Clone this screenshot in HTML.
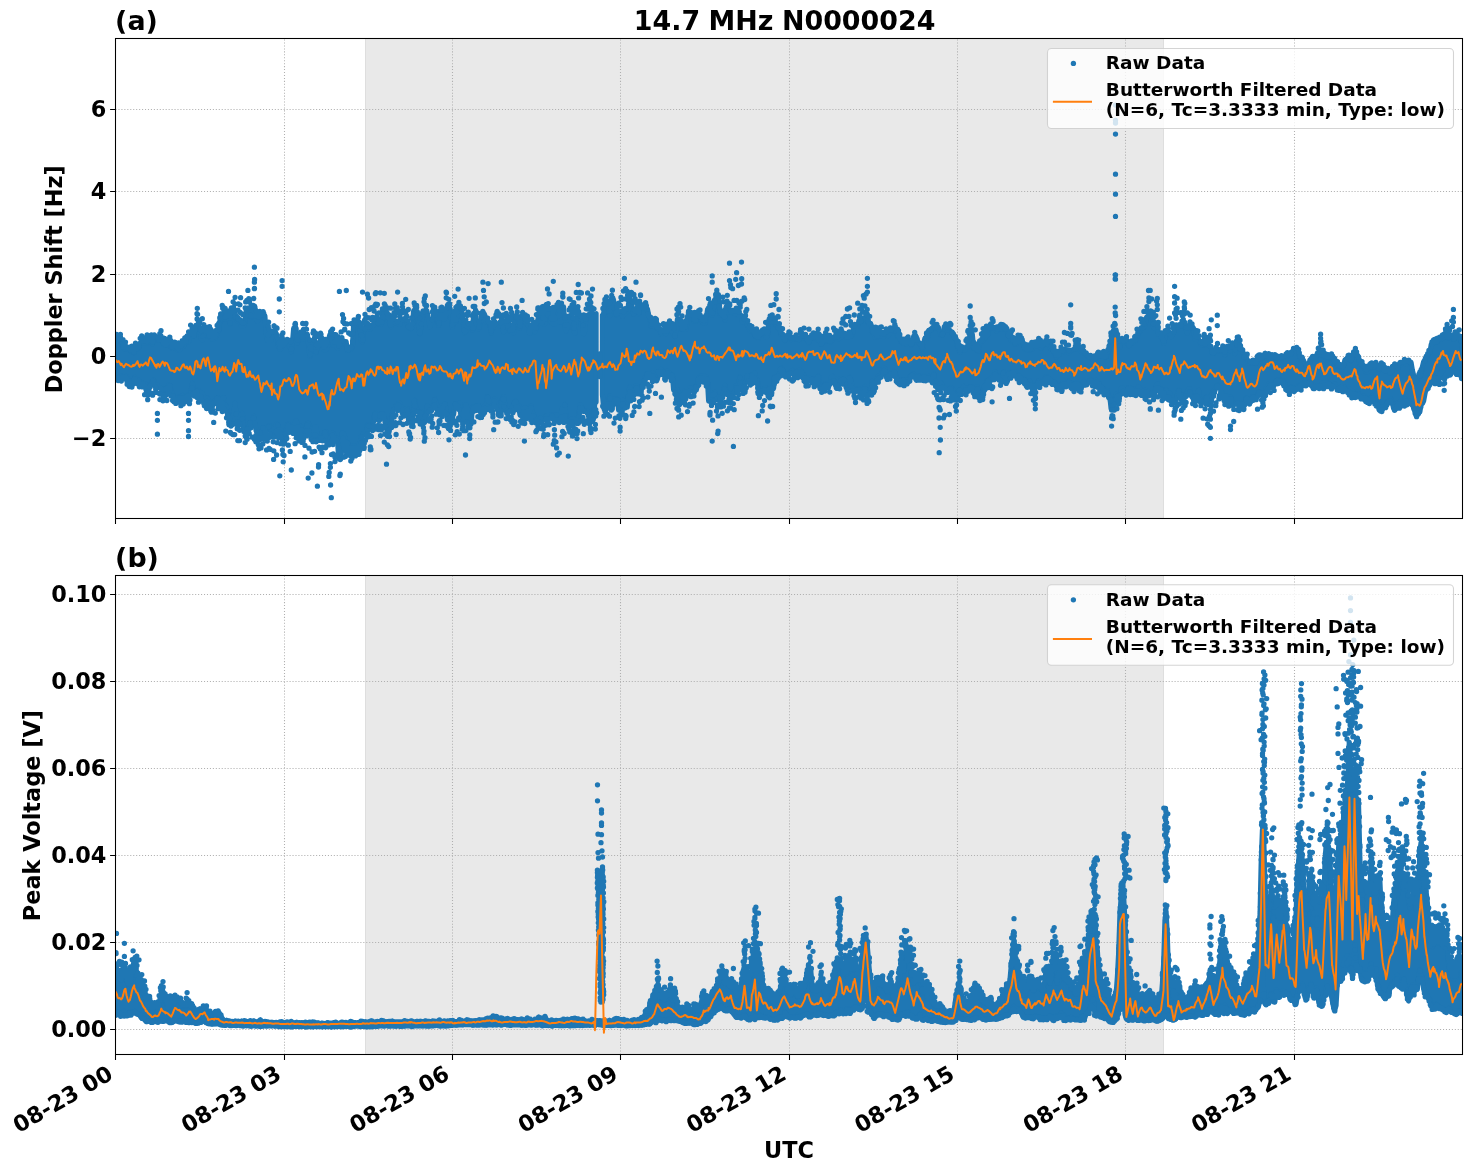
<!DOCTYPE html>
<html lang="en"><head><meta charset="utf-8"><title>14.7 MHz N0000024</title>
<style>
html,body{margin:0;padding:0;background:#fff}
body{width:1472px;height:1172px;overflow:hidden}
svg{display:block}
text{font-family:"DejaVu Sans","Liberation Sans",sans-serif;font-weight:bold;fill:#000}
.tk{font-size:22.4px}
.lb{font-size:22.4px}
.ti{font-size:26.88px}
.lg{font-size:18.5px}
</style></head><body>
<svg width="1472" height="1172" viewBox="0 0 1472 1172">
<defs><clipPath id="ca"><rect x="115.5" y="38.5" width="1347.0" height="480.0"/></clipPath><clipPath id="cb"><rect x="115.5" y="575.5" width="1347.0" height="479.0"/></clipPath></defs>
<rect width="1472" height="1172" fill="#fff"/>
<rect x="365.0" y="38.5" width="799.0" height="480.0" fill="#e9e9e9"/>
<path d="M365.5 38.5V518.5M1163.5 38.5V518.5" stroke="#dedede" stroke-width="1" fill="none"/>
<path d="M284.5 518.5V38.5M452.5 518.5V38.5M620.5 518.5V38.5M789.5 518.5V38.5M957.5 518.5V38.5M1125.5 518.5V38.5M1294.5 518.5V38.5M115.5 438.5H1462.5M115.5 356.5H1462.5M115.5 274.5H1462.5M115.5 191.5H1462.5M115.5 109.5H1462.5" fill="none" stroke="#b0b0b0" stroke-width="1.07" stroke-dasharray="1.07 1.88"/>
<g clip-path="url(#ca)">
<path d="M112.5 340.8 117.4 340.8 118.6 339.4 119.9 339.4 121.1 339.4 122.4 341.7 123.6 347.9 124.9 349.4 126.1 348.4 127.4 348.4 128.6 348.4 129.9 349.7 131.1 351.2 132.4 351.6 133.6 352.7 134.9 349.1 136.1 349.1 137.4 349.1 138.6 347.6 139.9 343.1 141.1 342.6 142.4 342.6 143.6 342.6 144.9 342.6 146.1 342.6 147.4 342.6 148.6 341.7 149.9 341.7 151.1 341.7 152.4 344 153.6 336.5 154.9 336.5 156.1 336.5 157.4 340.4 158.6 340.4 159.9 339.1 161.1 339.1 162.4 339.1 163.6 344.8 164.9 344.8 166.1 345 167.4 340 168.6 340 169.9 340 171.1 347.1 172.4 348.4 173.6 347.8 174.9 347.8 176.1 347.8 177.4 350 178.6 350 179.9 349.8 181.1 346.7 182.4 346.7 183.6 346.7 184.9 341.9 186.1 341.9 187.4 341.9 188.6 341.9 189.9 335 191.1 335 192.4 335 193.6 336.1 194.9 333.1 196.1 326 197.4 326 198.6 326 199.9 327.8 201.1 338.3 202.4 339.8 203.6 331.7 204.9 331.7 206.1 331.7 207.4 333.5 208.6 336.7 209.9 336.7 211.1 336.7 212.4 339.2 213.6 338.5 214.9 338.5 216.1 336.5 217.4 332.7 218.6 330.9 219.9 320.5 221.1 314.2 222.4 314.2 223.6 314.2 224.9 319.2 226.1 316 227.4 316 228.6 316 229.9 324.1 231.1 316.3 232.4 312.6 233.6 312.6 234.9 312.6 236.1 316.7 237.4 321 238.6 321 239.9 321 241.1 325.6 242.4 325.6 243.6 325.9 244.9 321.9 246.1 310.6 247.4 309.4 248.6 309.4 249.9 309.4 251.1 317.1 252.4 306.5 253.6 306.5 254.9 306.5 256.1 318.1 257.4 321.3 258.6 318.2 259.9 318.2 261.1 318.2 262.4 315.8 263.6 315.8 264.9 315.8 266.1 331.7 267.4 340.4 268.6 340.4 269.9 340.4 271.1 340.4 272.4 335.5 273.6 333.1 274.9 333.1 276.1 333.1 277.4 337 278.6 346.3 279.9 349.3 281.1 348.5 282.4 345.4 283.6 345.4 284.9 345.4 286.1 341.3 287.4 341.3 288.6 341.3 289.9 345.1 291.1 351.7 292.4 342.9 293.6 328.4 294.9 328.4 296.1 328.4 297.4 342.9 298.6 339.1 299.9 339.1 301.1 338.7 302.4 338.7 303.6 338.7 304.9 334.2 306.1 334.2 307.4 334.2 308.6 344 309.9 356.5 311.1 349.6 312.4 340.7 313.6 340.7 314.9 340.7 316.1 352.8 317.4 346.4 318.6 346.4 319.9 341.3 321.1 341.3 322.4 341.3 323.6 349.7 324.9 349.7 326.1 349.7 327.4 347.3 328.6 338.9 329.9 334.5 331.1 334.5 332.4 334.5 333.6 345.3 334.9 345.3 336.1 345.3 337.4 348.4 338.6 346.6 339.9 346.6 341.1 343.7 342.4 343.7 343.6 341.5 344.9 341.5 346.1 341.5 347.4 350.2 348.6 350.2 349.9 348.9 351.1 348.9 352.4 346.8 353.6 323.6 354.9 323.6 356.1 323.6 357.4 323.8 358.6 323.8 359.9 323.8 361.1 340 362.4 341.8 363.6 329.6 364.9 329.6 366.1 324.6 367.4 324.6 368.6 324.6 369.9 329.2 371.1 325.4 372.4 325.4 373.6 325.4 374.9 317.7 376.1 317.7 377.4 317.7 378.6 323.9 379.9 323.9 381.1 324.4 382.4 316 383.6 309.9 384.9 309.9 386.1 309.9 387.4 320 388.6 320 389.9 323.3 391.1 326.5 392.4 323.2 393.6 323.2 394.9 322.7 396.1 322.7 397.4 322.7 398.6 324.4 399.9 324.4 401.1 319.2 402.4 319.2 403.6 319.2 404.9 320.5 406.1 320.5 407.4 323.1 408.6 328.1 409.9 328.1 411.1 328.7 412.4 327.2 413.6 310.9 414.9 310.9 416.1 310.9 417.4 311.6 418.6 320.2 419.9 333.8 421.1 325.6 422.4 312.5 423.6 312.2 424.9 312.2 426.1 312.2 427.4 313.3 428.6 318.5 429.9 327 431.1 321.4 432.4 321.4 433.6 316.5 434.9 315.7 436.1 315.7 437.4 315.7 438.6 325.2 439.9 311.4 441.1 311.4 442.4 311.4 443.6 319 444.9 318.9 446.1 312.2 447.4 307.6 448.6 307.6 449.9 307.6 451.1 315.7 452.4 327.2 453.6 323.5 454.9 321.8 456.1 321.8 457.4 310.6 458.6 310.6 459.9 310.6 461.1 320.8 462.4 320.8 463.6 320.8 464.9 332.9 466.1 330.7 467.4 324.2 468.6 324.2 469.9 324.2 471.1 326.5 472.4 330 473.6 316.3 474.9 316.3 476.1 316.3 477.4 328.8 478.6 328.8 479.9 325 481.1 320.7 482.4 315.2 483.6 315.2 484.9 315.2 486.1 321.6 487.4 322.6 488.6 322.6 489.9 322.6 491.1 333 492.4 326.7 493.6 326.7 494.9 326.7 496.1 326.5 497.4 326.5 498.6 326.5 499.9 323.1 501.1 323.1 502.4 323.1 503.6 331.9 504.9 324.6 506.1 321.5 507.4 321.5 508.6 321.5 509.9 331.4 511.1 331.4 512.4 331.4 513.6 332.8 514.9 317.9 516.1 317.9 517.4 317.9 518.6 322.1 519.9 327.9 521.1 316.1 522.4 316.1 523.6 316.1 524.9 321.9 526.1 321.9 527.4 324.8 528.6 324.8 529.9 333.4 531.1 327.4 532.4 327.4 533.6 327.4 534.9 331.8 536.1 329.4 537.4 325.7 538.6 313.2 539.9 313.2 541.1 313.2 542.4 323.6 543.6 323.6 544.9 323.7 546.1 310.8 547.4 310.8 548.6 310.8 549.9 313 551.1 322.1 552.4 322.1 553.6 324.1 554.9 324.1 556.1 308.3 557.4 308.3 558.6 308.3 559.9 322.2 561.1 306.9 562.4 306.9 563.6 306.9 564.9 325.6 566.1 331 567.4 327.2 568.6 316 569.9 316 571.1 316 572.4 325.8 573.6 330.2 574.9 333.3 576.1 321.3 577.4 314.7 578.6 314.7 579.9 314.7 581.1 319.3 582.4 319.3 583.6 333.8 584.9 330.4 586.1 315.9 587.4 315.9 588.6 315.9 589.9 313.6 591.1 313.6 592.4 313.6 593.6 314.3 594.9 314.3 596.1 313.6 L596.1 402.1 594.9 402.1 593.6 418.8 592.4 418.8 591.1 418.8 589.9 416.5 588.6 416.5 587.4 410.8 586.1 410.8 584.9 410.8 583.6 410.8 582.4 410.8 581.1 405.7 579.9 404.7 578.6 423.4 577.4 423.4 576.1 423.4 574.9 420.5 573.6 418.8 572.4 418.8 571.1 418.8 569.9 420.5 568.6 420.5 567.4 420.5 566.1 420.1 564.9 404.3 563.6 408 562.4 408 561.1 413.9 559.9 418.7 558.6 418.7 557.4 418.7 556.1 414.7 554.9 414.7 553.6 415.1 552.4 415.1 551.1 415.1 549.9 415.6 548.6 415.6 547.4 415.6 546.1 415.8 544.9 419.6 543.6 419.6 542.4 419.6 541.1 418.3 539.9 418.3 538.6 420.2 537.4 420.2 536.1 420.2 534.9 420 533.6 413.6 532.4 413.6 531.1 405.7 529.9 409.4 528.6 409.4 527.4 409.4 526.1 408.1 524.9 408.1 523.6 408.3 522.4 414.9 521.1 414.9 519.9 414.9 518.6 405.2 517.4 405.2 516.1 401.3 514.9 401.3 513.6 406.4 512.4 406.4 511.1 410.7 509.9 410.7 508.6 411.3 507.4 411.3 506.1 411.3 504.9 405.4 503.6 396.5 502.4 398.4 501.1 413.7 499.9 413.7 498.6 413.7 497.4 407.7 496.1 402.6 494.9 398.8 493.6 402.5 492.4 406.2 491.1 406.2 489.9 406.2 488.6 399.5 487.4 396.6 486.1 406.7 484.9 406.7 483.6 406.7 482.4 411.6 481.1 411.6 479.9 411.6 478.6 405.8 477.4 405.8 476.1 405.8 474.9 407 473.6 407 472.4 407 471.1 424.3 469.9 424.3 468.6 424.3 467.4 409.2 466.1 404.7 464.9 412.3 463.6 420.5 462.4 420.5 461.1 420.5 459.9 403.2 458.6 403.5 457.4 403.9 456.1 403.9 454.9 403.9 453.6 414.4 452.4 415.4 451.1 415.4 449.9 419.9 448.6 419.9 447.4 419.9 446.1 409.5 444.9 403.8 443.6 405.9 442.4 405.9 441.1 405.9 439.9 409.2 438.6 409.2 437.4 409.2 436.1 402.7 434.9 399.2 433.6 404.2 432.4 409.2 431.1 409.2 429.9 409.2 428.6 407.9 427.4 405.8 426.1 419.1 424.9 421.1 423.6 421.1 422.4 421.1 421.1 412.1 419.9 412.1 418.6 412.1 417.4 410.1 416.1 410.1 414.9 400.3 413.6 409.9 412.4 417.8 411.1 421.1 409.9 421.1 408.6 421.1 407.4 408.5 406.1 408.5 404.9 413.8 403.6 413.8 402.4 413.8 401.1 407.8 399.9 403.2 398.6 403.2 397.4 405.9 396.1 405.9 394.9 409 393.6 409.6 392.4 414.1 391.1 419.1 389.9 419.1 388.6 428.5 387.4 428.5 386.1 428.5 384.9 421.4 383.6 414.8 382.4 413.8 381.1 413.9 379.9 419.4 378.6 419.4 377.4 419.4 376.1 413.3 374.9 413.3 373.6 419.3 372.4 429.7 371.1 429.7 369.9 429.7 368.6 425.1 367.4 425.1 366.1 433.6 364.9 433.6 363.6 433.6 362.4 436 361.1 436.5 359.9 445.4 358.6 445.4 357.4 445.4 356.1 446.2 354.9 446.2 353.6 446.2 352.4 446 351.1 447.4 349.9 447.4 348.6 447.4 347.4 442.2 346.1 442.2 344.9 437.8 343.6 433.8 342.4 433 341.1 458.5 339.9 458.5 338.6 458.5 337.4 438.3 336.1 438.3 334.9 438.3 333.6 433.3 332.4 433.3 331.1 434.9 329.9 441.3 328.6 441.3 327.4 441.3 326.1 431.7 324.9 431.7 323.6 437.7 322.4 437.7 321.1 437.7 319.9 440.5 318.6 440.5 317.4 440.5 316.1 426.7 314.9 426.7 313.6 439.7 312.4 439.7 311.1 439.7 309.9 430 308.6 423.4 307.4 423.4 306.1 429.7 304.9 434.9 303.6 434.9 302.4 434.9 301.1 427.1 299.9 425.9 298.6 425.9 297.4 424.4 296.1 421 294.9 422.9 293.6 426.2 292.4 426.5 291.1 426.5 289.9 426.5 288.6 424.2 287.4 424.7 286.1 436.6 284.9 440.6 283.6 440.6 282.4 440.6 281.1 430.3 279.9 430.3 278.6 430.3 277.4 424.3 276.1 424.3 274.9 437.1 273.6 437.1 272.4 437.1 271.1 427.8 269.9 426.1 268.6 426.1 267.4 430.5 266.1 430.5 264.9 430.5 263.6 427.6 262.4 436.1 261.1 436.1 259.9 436.1 258.6 431.2 257.4 431.2 256.1 431.2 254.9 423 253.6 416.4 252.4 422.6 251.1 422.6 249.9 422.6 248.6 428.6 247.4 428.6 246.1 431.7 244.9 431.7 243.6 431.7 242.4 413.4 241.1 420.6 239.9 420.6 238.6 420.6 237.4 413.7 236.1 413.7 234.9 403.2 233.6 421.3 232.4 421.3 231.1 421.3 229.9 415.8 228.6 415.8 227.4 411.8 226.1 406 224.9 406 223.6 397.5 222.4 399 221.1 399 219.9 399 218.6 398.1 217.4 398.1 216.1 401.3 214.9 401.3 213.6 401.3 212.4 406 211.1 406 209.9 406 208.6 400.5 207.4 398.3 206.1 403.1 204.9 403.1 203.6 403.1 202.4 393.4 201.1 393.4 199.9 393.4 198.6 390.3 197.4 390.3 196.1 390.9 194.9 390.9 193.6 390.9 192.4 383.4 191.1 390.8 189.9 395.3 188.6 395.3 187.4 395.3 186.1 397.4 184.9 397.4 183.6 397.4 182.4 395.4 181.1 397.2 179.9 397.2 178.6 397.2 177.4 399.4 176.1 399.4 174.9 399.4 173.6 395.7 172.4 394 171.1 391.1 169.9 385.4 168.6 385.2 167.4 387.8 166.1 388.4 164.9 393.3 163.6 393.3 162.4 393.3 161.1 388.2 159.9 388 158.6 388 157.4 385.4 156.1 385.4 154.9 385.4 153.6 380.2 152.4 380.9 151.1 385.1 149.9 385.1 148.6 390.6 147.4 390.6 146.1 390.6 144.9 383.6 143.6 383.6 142.4 382.9 141.1 382.9 139.9 382.5 138.6 380.1 137.4 379.9 136.1 379.9 134.9 377.4 133.6 382.4 132.4 382.4 131.1 382.4 129.9 380.6 128.6 380.6 127.4 377.1 126.1 377.1 124.9 375.5 123.6 375.5 122.4 375.9 121.1 375.9 119.9 377.2 118.6 377.2 117.4 377.2 112.5 372.3ZM602.4 315.3 603.6 315.3 604.9 306.2 606.1 306.2 607.4 306.2 608.6 308.3 609.9 315.8 611.1 299.9 612.4 299.9 613.6 299.9 614.9 312 616.1 314.9 617.4 313.1 618.6 312.3 619.9 312.3 621.1 312.3 622.4 316.3 623.6 314.9 624.9 312.4 626.1 312.4 627.4 311.7 628.6 303.1 629.9 303.1 631.1 303.1 632.4 307.3 633.6 314.3 634.9 311.4 636.1 311.4 637.4 311.4 638.6 313.7 639.9 306.1 641.1 306.1 642.4 306.1 643.6 309.1 644.9 308.7 646.1 308.7 647.4 308.7 648.6 314.6 649.9 318.1 651.1 326 652.4 326.3 653.6 326.3 654.9 327.3 656.1 327.3 657.4 328.4 658.6 328.4 659.9 330.6 661.1 334.5 662.4 331.2 663.6 331.2 664.9 331.2 666.1 333.5 667.4 330.6 668.6 330.6 669.9 329.1 671.1 329.1 672.4 329.1 673.6 334.7 674.9 336.7 676.1 329.5 677.4 319 678.6 319 679.9 319 681.1 329 682.4 329 683.6 329 684.9 329.5 686.1 329.4 687.4 316.3 688.6 316.3 689.9 316.3 691.1 317 692.4 317 693.6 320.9 694.9 320.9 696.1 320.9 697.4 314.2 698.6 314.2 699.9 314.2 701.1 317.2 702.4 322.3 703.6 323.1 704.9 323.1 706.1 320.4 707.4 310 708.6 310 709.9 310 711.1 312.7 712.4 315.2 713.6 306 714.9 306 716.1 294.7 717.4 294.7 718.6 294.7 719.9 315.3 721.1 314.8 722.4 314.8 723.6 314.8 724.9 320 726.1 306.8 727.4 306.8 728.6 306.8 729.9 312.1 731.1 312 732.4 312 733.6 312 734.9 313.9 736.1 313.9 737.4 313.9 738.6 315.4 739.9 315.4 741.1 315.4 742.4 321.9 743.6 320.1 744.9 320.1 746.1 320.1 747.4 325 748.6 327.3 749.9 330.7 751.1 330.7 752.4 331 753.6 331 754.9 335.5 756.1 337.2 757.4 337.2 758.6 338.4 759.9 334.3 761.1 334.3 762.4 332.8 763.6 332.8 764.9 332.8 766.1 337.4 767.4 335.8 768.6 320.7 769.9 320.7 771.1 320.7 772.4 321.5 773.6 321.5 774.9 323.3 776.1 325.2 777.4 325.8 778.6 328.5 779.9 328.5 781.1 334.4 782.4 334.7 783.6 339.1 784.9 340.6 786.1 336.6 787.4 336.6 788.6 336.6 789.9 336.6 791.1 339.7 792.4 338.8 793.6 338.8 794.9 338.8 796.1 339.4 797.4 339.4 798.6 339.9 799.9 337.7 801.1 337.7 802.4 337.6 803.6 337.6 804.9 337.6 806.1 339.1 807.4 340.2 808.6 342.6 809.9 338.6 811.1 338.6 812.4 337.8 813.6 337.8 814.9 337.8 816.1 339.1 817.4 339.1 818.6 340.7 819.9 340.7 821.1 344.2 822.4 342.4 823.6 341.3 824.9 341.3 826.1 341.1 827.4 341.1 828.6 341.1 829.9 341.6 831.1 341.6 832.4 340.1 833.6 338.5 834.9 337.8 836.1 337.8 837.4 337.8 838.6 338.9 839.9 337 841.1 337 842.4 335.9 843.6 335.9 844.9 335.9 846.1 337.5 847.4 337.5 848.6 337.5 849.9 336.4 851.1 336.4 852.4 334.1 853.6 326.2 854.9 326.2 856.1 326.2 857.4 326.5 858.6 322.4 859.9 322.4 861.1 321.8 862.4 318.1 863.6 318.1 864.9 318.1 866.1 319.5 867.4 319.5 868.6 323.9 869.9 324.5 871.1 324.5 872.4 332.5 873.6 332.5 874.9 337.1 876.1 337.1 877.4 337.1 878.6 336 879.9 335.7 881.1 335.7 882.4 335.7 883.6 336.6 884.9 333.1 886.1 333.1 887.4 333.1 888.6 335.5 889.9 332.4 891.1 331.7 892.4 328.7 893.6 328.7 894.9 328.7 896.1 330.1 897.4 336.2 898.6 336.2 899.9 338.3 901.1 341.8 902.4 342.8 903.6 342.8 904.9 342.8 906.1 344 907.4 340.7 908.6 340.7 909.9 340.7 911.1 344.9 912.4 343.2 913.6 336.3 914.9 336.3 916.1 336.3 917.4 340.5 918.6 342.2 919.9 344 921.1 346.8 922.4 348.8 923.6 343.4 924.9 338.3 926.1 338.3 927.4 338.3 928.6 330.5 929.9 330.5 931.1 330.5 932.4 327.6 933.6 327.6 934.9 327.6 936.1 327.9 937.4 327.9 938.6 327.9 939.9 332 941.1 335.1 942.4 335.1 943.6 331.5 944.9 328.9 946.1 328.9 947.4 328.9 948.6 330.2 949.9 330.2 951.1 331.9 952.4 333.9 953.6 333.9 954.9 338.5 956.1 338.5 957.4 346.2 958.6 348.5 959.9 352.5 961.1 348.7 962.4 348.7 963.6 348.7 964.9 350.2 966.1 346.9 967.4 346.9 968.6 346.9 969.9 334.8 971.1 334.8 972.4 334.8 973.6 348.4 974.9 348.4 976.1 348.7 977.4 351.1 978.6 351.1 979.9 341.9 981.1 341.2 982.4 341.2 983.6 339.5 984.9 338.1 986.1 336.3 987.4 335.2 988.6 328.7 989.9 328.7 991.1 328.6 992.4 328.2 993.6 328.2 994.9 328.2 996.1 330.6 997.4 330.6 998.6 328.4 999.9 328.4 1001.1 328.4 1002.4 329.1 1003.6 329.1 1004.9 329.1 1006.1 329.8 1007.4 330.1 1008.6 336.7 1009.9 336.8 1011.1 340.9 1012.4 340.9 1013.6 340.9 1014.9 344.3 1016.1 344.3 1017.4 340.9 1018.6 340.9 1019.9 340.9 1021.1 341 1022.4 342.1 1023.6 343.3 1024.9 349.5 1026.1 349.5 1027.4 350.3 1028.6 350.3 1029.9 350.2 1031.1 349 1032.4 349 1033.6 345.5 1034.9 345.5 1036.1 345.5 1037.4 345.9 1038.6 345.9 1039.9 345.9 1041.1 348 1042.4 345 1043.6 345 1044.9 344.2 1046.1 343.1 1047.4 343.1 1048.6 343.1 1049.9 347.8 1051.1 347.8 1052.4 347.8 1053.6 351.3 1054.9 354.3 1056.1 356.9 1057.4 355 1058.6 355 1059.9 352.5 1061.1 352.5 1062.4 352.5 1063.6 349.6 1064.9 349.6 1066.1 349.6 1067.4 351.1 1068.6 352.9 1069.9 350.3 1071.1 350.3 1072.4 350.3 1073.6 349.4 1074.9 349.4 1076.1 347.4 1077.4 347.4 1078.6 347.4 1079.9 348.5 1081.1 351.6 1082.4 351.6 1083.6 351.6 1084.9 354.5 1086.1 354.5 1087.4 354.5 1088.6 357.2 1089.9 357.2 1091.1 357.2 1092.4 359.4 1093.6 359.2 1094.9 358.7 1096.1 358.7 1097.4 353.4 1098.6 353.4 1099.9 353.4 1101.1 356.2 1102.4 356.4 1103.6 356.4 1104.9 356.9 1106.1 356.9 1107.4 352 1108.6 351.5 1109.9 344.1 1111.1 344.1 1112.4 334.4 1113.6 329.9 1114.9 329.9 1116.1 329.9 1117.4 338.8 1118.6 339.4 1119.9 347.5 1121.1 341.8 1122.4 341.8 1123.6 341.8 1124.9 340.9 1126.1 340.9 1127.4 340.9 1128.6 345.8 1129.9 343.4 1131.1 343.4 1132.4 343.4 1133.6 340.9 1134.9 340.9 1136.1 336.5 1137.4 336.5 1138.6 333.1 1139.9 331.2 1141.1 327.6 1142.4 327.6 1143.6 327.6 1144.9 325.7 1146.1 320.1 1147.4 316.2 1148.6 316.2 1149.9 315.9 1151.1 315.9 1152.4 315.9 1153.6 327.8 1154.9 323.5 1156.1 323.5 1157.4 323.5 1158.6 334.2 1159.9 334.2 1161.1 337.1 1162.4 337.1 1163.6 343.5 1164.9 337.2 1166.1 331.6 1167.4 331.6 1168.6 331.6 1169.9 333.4 1171.1 336.7 1172.4 334.2 1173.6 332.5 1174.9 325.6 1176.1 325.6 1177.4 325.6 1178.6 326.9 1179.9 326.2 1181.1 326.2 1182.4 322.2 1183.6 322.2 1184.9 322.2 1186.1 328.8 1187.4 333.4 1188.6 326.8 1189.9 326.8 1191.1 326.8 1192.4 328.4 1193.6 328.4 1194.9 339.5 1196.1 339.4 1197.4 339.4 1198.6 339.4 1199.9 341.7 1201.1 344.6 1202.4 344.6 1203.6 345.1 1204.9 345.1 1206.1 344.3 1207.4 344.3 1208.6 344.3 1209.9 346.4 1211.1 346.4 1212.4 353.4 1213.6 353.4 1214.9 351.1 1216.1 350.6 1217.4 350.6 1218.6 350.6 1219.9 351.5 1221.1 351.3 1222.4 351.3 1223.6 351.3 1224.9 355 1226.1 348 1227.4 348 1228.6 348 1229.9 350.6 1231.1 347.6 1232.4 347.6 1233.6 347.6 1234.9 353.7 1236.1 341.4 1237.4 341.4 1238.6 341.4 1239.9 349.1 1241.1 349.6 1242.4 350.8 1243.6 353.5 1244.9 357.7 1246.1 357.7 1247.4 359.6 1248.6 362.9 1249.9 362.9 1251.1 362.9 1252.4 362.9 1253.6 362.9 1254.9 362.9 1256.1 363.4 1257.4 359.7 1258.6 359.7 1259.9 358.2 1261.1 358.2 1262.4 358.2 1263.6 355.9 1264.9 355.9 1266.1 355.9 1267.4 356.8 1268.6 356.8 1269.9 356.8 1271.1 359.4 1272.4 359.3 1273.6 355.8 1274.9 355.8 1276.1 355.8 1277.4 358.4 1278.6 358.4 1279.9 358.4 1281.1 357.7 1282.4 357.7 1283.6 357.7 1284.9 356.5 1286.1 356.5 1287.4 356.5 1288.6 354.5 1289.9 354.5 1291.1 354.3 1292.4 351 1293.6 351 1294.9 348.4 1296.1 348.4 1297.4 348.4 1298.6 352.8 1299.9 357.2 1301.1 360.1 1302.4 360.4 1303.6 360.4 1304.9 363.8 1306.1 365.7 1307.4 365.7 1308.6 364 1309.9 363.8 1311.1 358.2 1312.4 358.2 1313.6 358.2 1314.9 358.7 1316.1 358.7 1317.4 352.8 1318.6 352.8 1319.9 352.8 1321.1 354.8 1322.4 354.8 1323.6 356.6 1324.9 356.6 1326.1 356.8 1327.4 356.8 1328.6 356.8 1329.9 358 1331.1 358 1332.4 358 1333.6 359.4 1334.9 362.4 1336.1 362.4 1337.4 366.1 1338.6 366.1 1339.9 367 1341.1 367 1342.4 367.5 1343.6 365 1344.9 359.8 1346.1 359.8 1347.4 358.8 1348.6 358.8 1349.9 358.8 1351.1 360.5 1352.4 355.5 1353.6 355.5 1354.9 354.9 1356.1 354.9 1357.4 354.9 1358.6 357.9 1359.9 364.2 1361.1 364.9 1362.4 364.9 1363.6 366.1 1364.9 368.6 1366.1 372.1 1367.4 372.1 1368.6 370.1 1369.9 368.2 1371.1 366.9 1372.4 366.9 1373.6 366.9 1374.9 365 1376.1 365 1377.4 365 1378.6 370.5 1379.9 365.2 1381.1 365.2 1382.4 365.2 1383.6 370.7 1384.9 371.2 1386.1 371 1387.4 371 1388.6 371 1389.9 373.4 1391.1 371.2 1392.4 370.8 1393.6 366.3 1394.9 366.3 1396.1 366.3 1397.4 368.1 1398.6 364.6 1399.9 364.6 1401.1 364.6 1402.4 362.6 1403.6 362.6 1404.9 362.6 1406.1 364.3 1407.4 362 1408.6 362 1409.9 362 1411.1 362.3 1412.4 370.1 1413.6 374.9 1414.9 381.1 1416.1 382.5 1417.4 378 1418.6 376 1419.9 376 1421.1 373.8 1422.4 366.5 1423.6 361.5 1424.9 361.5 1426.1 356.3 1427.4 356.3 1428.6 353.7 1429.9 352.7 1431.1 344.8 1432.4 342.9 1433.6 342.9 1434.9 342.4 1436.1 342 1437.4 342 1438.6 339.1 1439.9 339.1 1441.1 338.7 1442.4 338.7 1443.6 334.7 1444.9 334.7 1446.1 334.7 1447.4 337.8 1448.6 337.8 1449.9 335.8 1451.1 335.8 1452.4 335.8 1453.6 339.5 1454.9 337.4 1456.1 337.4 1457.4 337.4 1458.6 337.6 1459.9 337.6 1461.1 341.5 1462.4 344.3 L1462.4 369.3 1461.1 372.2 1459.9 372.2 1458.6 372.2 1457.4 369.5 1456.1 370.1 1454.9 370.1 1453.6 370.1 1452.4 366.4 1451.1 369 1449.9 369.1 1448.6 369.1 1447.4 369.1 1446.1 371.4 1444.9 376.9 1443.6 376.9 1442.4 376.9 1441.1 371.9 1439.9 373.2 1438.6 377.9 1437.4 377.9 1436.1 377.9 1434.9 377.7 1433.6 375.3 1432.4 379.6 1431.1 381.7 1429.9 381.7 1428.6 381.7 1427.4 386.8 1426.1 388.7 1424.9 394.3 1423.6 401.2 1422.4 403.7 1421.1 403.7 1419.9 412 1418.6 412 1417.4 412 1416.1 411.4 1414.9 411.4 1413.6 408.6 1412.4 402.2 1411.1 400.6 1409.9 401.4 1408.6 401.4 1407.4 401.4 1406.1 401.3 1404.9 398.8 1403.6 400.7 1402.4 401.4 1401.1 402.4 1399.9 402.4 1398.6 402.4 1397.4 402.9 1396.1 408.6 1394.9 408.6 1393.6 408.6 1392.4 403 1391.1 399.2 1389.9 400.5 1388.6 401.5 1387.4 401.5 1386.1 406.1 1384.9 406.1 1383.6 406.1 1382.4 405.5 1381.1 405.5 1379.9 405 1378.6 405 1377.4 403.8 1376.1 403.8 1374.9 401.3 1373.6 398.7 1372.4 395.5 1371.1 399.7 1369.9 399.7 1368.6 399.7 1367.4 398.3 1366.1 398.3 1364.9 396.7 1363.6 396 1362.4 396.3 1361.1 396.3 1359.9 396.3 1358.6 393.6 1357.4 393.8 1356.1 393.8 1354.9 393.8 1353.6 393.1 1352.4 390.7 1351.1 390.7 1349.9 389.4 1348.6 389.4 1347.4 389.4 1346.1 388.4 1344.9 387.4 1343.6 387.4 1342.4 388.6 1341.1 388.6 1339.9 388.6 1338.6 386.8 1337.4 386.8 1336.1 386.8 1334.9 383.9 1333.6 385.5 1332.4 385.9 1331.1 385.9 1329.9 385.9 1328.6 383.4 1327.4 383.4 1326.1 383.4 1324.9 383.3 1323.6 383.3 1322.4 383.3 1321.1 385.5 1319.9 385.5 1318.6 385.5 1317.4 386.3 1316.1 386.3 1314.9 387 1313.6 387 1312.4 387 1311.1 383.1 1309.9 383.1 1308.6 382 1307.4 382.6 1306.1 382.6 1304.9 382.6 1303.6 383.3 1302.4 384.4 1301.1 384.4 1299.9 384.7 1298.6 385.4 1297.4 388.9 1296.1 388.9 1294.9 388.9 1293.6 388 1292.4 388 1291.1 387 1289.9 387.9 1288.6 387.9 1287.4 387.9 1286.1 387 1284.9 384.1 1283.6 381.4 1282.4 381.4 1281.1 380.1 1279.9 379.8 1278.6 379.8 1277.4 380.8 1276.1 380.8 1274.9 383 1273.6 384 1272.4 384.5 1271.1 384.5 1269.9 384.5 1268.6 384.2 1267.4 387.6 1266.1 388.6 1264.9 391.9 1263.6 392.6 1262.4 392.6 1261.1 392.6 1259.9 392 1258.6 392 1257.4 396.7 1256.1 396.7 1254.9 396.9 1253.6 396.9 1252.4 396.9 1251.1 401.3 1249.9 401.3 1248.6 401.3 1247.4 398.7 1246.1 397.9 1244.9 404.4 1243.6 404.4 1242.4 404.4 1241.1 403.2 1239.9 403.2 1238.6 403.2 1237.4 402.6 1236.1 402.6 1234.9 403.9 1233.6 403.9 1232.4 403.9 1231.1 397.8 1229.9 396.9 1228.6 396.9 1227.4 396.9 1226.1 395.6 1224.9 395.6 1223.6 395.1 1222.4 395.1 1221.1 387.5 1219.9 387.3 1218.6 387.3 1217.4 385.3 1216.1 387 1214.9 391 1213.6 391 1212.4 392.6 1211.1 404.8 1209.9 404.8 1208.6 404.8 1207.4 396.5 1206.1 397.7 1204.9 400.9 1203.6 400.9 1202.4 401.1 1201.1 401.1 1199.9 401.1 1198.6 390.3 1197.4 394.6 1196.1 395.9 1194.9 395.9 1193.6 395.9 1192.4 395.4 1191.1 395.4 1189.9 388.9 1188.6 388.9 1187.4 393.1 1186.1 393.9 1184.9 397.7 1183.6 397.7 1182.4 397.7 1181.1 394.5 1179.9 394.5 1178.6 390.2 1177.4 395.2 1176.1 400.5 1174.9 400.5 1173.6 400.5 1172.4 398 1171.1 398 1169.9 393.4 1168.6 393.4 1167.4 393.4 1166.1 390.2 1164.9 391.8 1163.6 391.8 1162.4 391.8 1161.1 389.1 1159.9 389.1 1158.6 389.1 1157.4 383.9 1156.1 386.2 1154.9 392.5 1153.6 392.5 1152.4 392.5 1151.1 393.6 1149.9 393.6 1148.6 393.6 1147.4 390.6 1146.1 390.6 1144.9 390.6 1143.6 389.5 1142.4 391.1 1141.1 391.1 1139.9 391.1 1138.6 386.8 1137.4 390.1 1136.1 390.1 1134.9 390.1 1133.6 388.8 1132.4 388.8 1131.1 388.5 1129.9 387.6 1128.6 387.6 1127.4 391.1 1126.1 391.1 1124.9 391.1 1123.6 389.8 1122.4 387.8 1121.1 388.6 1119.9 395.6 1118.6 395.6 1117.4 395.6 1116.1 394.5 1114.9 403.3 1113.6 409 1112.4 409 1111.1 409 1109.9 397.8 1108.6 397.8 1107.4 390.9 1106.1 390.9 1104.9 390.4 1103.6 388.6 1102.4 388.6 1101.1 386.5 1099.9 385 1098.6 382.4 1097.4 380.8 1096.1 380.3 1094.9 382.7 1093.6 382.7 1092.4 382.7 1091.1 379.6 1089.9 380.5 1088.6 381.8 1087.4 383.9 1086.1 383.9 1084.9 383.9 1083.6 381.5 1082.4 385.9 1081.1 385.9 1079.9 385.9 1078.6 384.1 1077.4 383.4 1076.1 383.3 1074.9 384.3 1073.6 384.3 1072.4 384.3 1071.1 384 1069.9 384 1068.6 381.2 1067.4 383.4 1066.1 383.4 1064.9 383.4 1063.6 381.4 1062.4 385.2 1061.1 385.2 1059.9 385.2 1058.6 386.2 1057.4 386.2 1056.1 386.2 1054.9 382 1053.6 382 1052.4 381.9 1051.1 381.9 1049.9 379.1 1048.6 379.1 1047.4 376.7 1046.1 376.7 1044.9 378.7 1043.6 381.1 1042.4 381.1 1041.1 381.1 1039.9 380.6 1038.6 380.6 1037.4 384.6 1036.1 384.8 1034.9 385.1 1033.6 385.1 1032.4 385.1 1031.1 384.3 1029.9 381 1028.6 384.1 1027.4 384.1 1026.1 384.1 1024.9 379.6 1023.6 379.6 1022.4 378.5 1021.1 377.5 1019.9 377.5 1018.6 375 1017.4 375 1016.1 374.3 1014.9 371.9 1013.6 371.6 1012.4 371.6 1011.1 373 1009.9 373 1008.6 373 1007.4 381.6 1006.1 381.6 1004.9 381.6 1003.6 371.8 1002.4 378.9 1001.1 378.9 999.9 378.9 998.6 376.3 997.4 375.7 996.1 375.7 994.9 371.8 993.6 376.8 992.4 376.8 991.1 378 989.9 380.2 988.6 380.2 987.4 380.2 986.1 385.5 984.9 385.5 983.6 392.6 982.4 392.6 981.1 396.1 979.9 396.1 978.6 396.1 977.4 386.7 976.1 390.9 974.9 390.9 973.6 390.9 972.4 387.2 971.1 386.7 969.9 386.7 968.6 387.6 967.4 389.2 966.1 389.2 964.9 389.2 963.6 386.4 962.4 390 961.1 390 959.9 390 958.6 396 957.4 396 956.1 396 954.9 393.7 953.6 393.7 952.4 388.3 951.1 388.3 949.9 388.3 948.6 389.5 947.4 389.5 946.1 389.5 944.9 387.3 943.6 386.6 942.4 385.4 941.1 383.3 939.9 387.7 938.6 387.7 937.4 387.7 936.1 382.6 934.9 382 933.6 373.8 932.4 379.5 931.1 379.5 929.9 379.5 928.6 376.4 927.4 378.1 926.1 378.1 924.9 378.1 923.6 375.9 922.4 376.9 921.1 376.9 919.9 376.9 918.6 375.6 917.4 376.1 916.1 376.1 914.9 376.1 913.6 374.3 912.4 374.3 911.1 375.8 909.9 376.6 908.6 381.6 907.4 381.6 906.1 381.6 904.9 379.7 903.6 379.7 902.4 379.7 901.1 380.9 899.9 380.9 898.6 380.9 897.4 379.3 896.1 377.6 894.9 372.1 893.6 371 892.4 371.9 891.1 372.7 889.9 375.4 888.6 376.3 887.4 376.3 886.1 376.3 884.9 368.8 883.6 368.2 882.4 370.1 881.1 375.7 879.9 375.9 878.6 375.9 877.4 377.7 876.1 382.3 874.9 382.3 873.6 382.3 872.4 381.4 871.1 390.6 869.9 391.6 868.6 394 867.4 394 866.1 394 864.9 386.4 863.6 391.7 862.4 392.1 861.1 392.1 859.9 392.1 858.6 388.7 857.4 388.7 856.1 388.7 854.9 389.3 853.6 389.3 852.4 389.3 851.1 380.2 849.9 377.5 848.6 387.8 847.4 387.8 846.1 387.8 844.9 381.8 843.6 379.2 842.4 379.2 841.1 378.5 839.9 378.5 838.6 386.7 837.4 386.7 836.1 386.7 834.9 378.6 833.6 378.6 832.4 376.4 831.1 377.6 829.9 384.5 828.6 384.5 827.4 384.5 826.1 383.7 824.9 383.7 823.6 385.5 822.4 388.7 821.1 388.7 819.9 388.7 818.6 376.1 817.4 379.1 816.1 379.1 814.9 379.1 813.6 379 812.4 379 811.1 379 809.9 378.3 808.6 378.3 807.4 378.3 806.1 378.2 804.9 377.4 803.6 374.9 802.4 374.9 801.1 371 799.9 369.8 798.6 370.9 797.4 370.9 796.1 372.4 794.9 372.4 793.6 372.4 792.4 370.4 791.1 372.6 789.9 373.2 788.6 373.2 787.4 375.2 786.1 375.2 784.9 375.2 783.6 372.3 782.4 369.6 781.1 368.2 779.9 374.8 778.6 374.8 777.4 376 776.1 376.6 774.9 376.6 773.6 388.6 772.4 388.6 771.1 388.6 769.9 387.5 768.6 387.5 767.4 388.2 766.1 388.2 764.9 388.2 763.6 390.9 762.4 390.9 761.1 390.9 759.9 390.7 758.6 390.7 757.4 380.9 756.1 380.9 754.9 373.1 753.6 374.9 752.4 374.9 751.1 380.3 749.9 380.3 748.6 380.3 747.4 375.5 746.1 382.7 744.9 383.9 743.6 383.9 742.4 383.9 741.1 380.3 739.9 377.2 738.6 385.5 737.4 385.5 736.1 385.5 734.9 393.4 733.6 393.4 732.4 393.4 731.1 394.4 729.9 394.4 728.6 394.4 727.4 392.4 726.1 392.1 724.9 385.3 723.6 391.9 722.4 397 721.1 397 719.9 397 718.6 399.7 717.4 399.7 716.1 399.7 714.9 392.2 713.6 394.2 712.4 394.2 711.1 401.2 709.9 401.2 708.6 401.2 707.4 380.2 706.1 376.6 704.9 376.6 703.6 375.9 702.4 375.9 701.1 375.9 699.9 378.1 698.6 378.1 697.4 385.9 696.1 385.9 694.9 391.3 693.6 391.3 692.4 391.3 691.1 387.8 689.9 387.8 688.6 390.5 687.4 390.5 686.1 390.5 684.9 390.5 683.6 394.3 682.4 394.9 681.1 401.6 679.9 401.6 678.6 401.6 677.4 389.6 676.1 390.1 674.9 390.1 673.6 390.1 672.4 375.1 671.1 375.1 669.9 375.1 668.6 372.2 667.4 370.9 666.1 373.3 664.9 373.3 663.6 373.3 662.4 370.2 661.1 369.5 659.9 371.2 658.6 371.2 657.4 379.4 656.1 379.4 654.9 379.4 653.6 373.9 652.4 372.5 651.1 373.5 649.9 373.5 648.6 373.5 647.4 373.7 646.1 377.6 644.9 377.6 643.6 382.9 642.4 385.1 641.1 391.8 639.9 391.8 638.6 391.8 637.4 390.2 636.1 385.6 634.9 394.4 633.6 394.4 632.4 394.4 631.1 392.6 629.9 387 628.6 392.8 627.4 405.4 626.1 405.4 624.9 405.4 623.6 400.3 622.4 400.3 621.1 410.3 619.9 410.3 618.6 410.3 617.4 399.2 616.1 399.2 614.9 399.1 613.6 399.8 612.4 399.8 611.1 399.8 609.9 396 608.6 401.6 607.4 401.6 606.1 407.7 604.9 407.7 603.6 407.7 602.4 394.7Z" fill="#1f77b4" stroke="#1f77b4" stroke-width="5.1" stroke-linejoin="round"/>
<path d="M115.6 378.4h0M116 377.9h0M116 339h0M116.5 334.3h0M116.5 338.3h0M117 340.4h0M117.1 379.8h0M117.1 380h0M117.4 336.2h0M117.6 338.7h0M118.1 377.8h0M118.1 380.5h0M118.8 379h0M119 338.5h0M120.4 334.5h0M120.5 337.2h0M121 378h0M121.3 381.1h0M121.4 339.1h0M123 339.6h0M123.1 377h0M123.2 346.9h0M123.3 345.2h0M123.4 346.4h0M123.5 377.4h0M124.3 378.6h0M124.6 342.3h0M124.8 343.6h0M125.1 344.5h0M125.5 377.2h0M125.5 342.1h0M126.3 347.1h0M126.4 346.6h0M126.8 347.4h0M126.9 381h0M127 346.8h0M127.1 384.3h0M127.1 347.8h0M127.5 379.9h0M129.3 386.5h0M129.5 348.7h0M129.5 348.5h0M130 385.1h0M130 382.2h0M130.3 348.3h0M130.6 350.1h0M130.9 346.6h0M131 346.8h0M131.8 383.9h0M131.9 346.2h0M131.9 387.1h0M132.4 347.7h0M132.7 384.4h0M132.9 347.9h0M133.4 347.8h0M133.6 351.2h0M134.1 352.2h0M134.5 378.9h0M135.2 378.9h0M135.3 346.3h0M135.4 380.3h0M135.5 345.8h0M135.5 343.1h0M135.7 380.9h0M136.7 348.4h0M136.9 381.1h0M137.2 383.7h0M137.4 382.1h0M138.7 382.4h0M138.8 345.2h0M138.8 345.9h0M138.8 346.7h0M138.8 381.3h0M139.4 386.8h0M139.4 384.2h0M140.1 383.7h0M140.2 338.3h0M141.1 384.6h0M141.4 340.2h0M141.7 336h0M141.8 340.7h0M141.9 337.2h0M141.9 386.7h0M142.4 337.1h0M142.4 386.9h0M142.6 384.2h0M143.2 383.9h0M143.2 340.5h0M144.6 394.7h0M145.1 386.4h0M146 340.2h0M146.6 337.8h0M146.7 341.5h0M147.1 334.8h0M147.3 392.8h0M147.6 338.7h0M147.7 399.7h0M147.9 395.1h0M148.5 391.3h0M148.8 340.2h0M148.8 336.7h0M148.9 391.7h0M149.5 340.1h0M149.6 339.2h0M149.6 387.3h0M149.7 339.2h0M150.2 387.1h0M150.3 385.9h0M150.6 338.9h0M151.3 393.1h0M151.4 334.9h0M152.4 342.3h0M152.6 395.2h0M152.8 337.7h0M152.9 341.6h0M153.1 381.3h0M153.5 384.6h0M154.3 334.8h0M154.6 335.7h0M155.5 387h0M155.6 392.4h0M155.7 389.5h0M158.6 338.5h0M158.7 339.8h0M159.2 339.9h0M159.3 393.4h0M159.8 333.6h0M159.8 334.2h0M159.9 399.6h0M160.3 394.2h0M160.9 335.9h0M161 330.7h0M162.9 399h0M163 400.8h0M163 395.4h0M163.2 337.9h0M163.5 342.8h0M163.6 343.3h0M163.6 395h0M164.6 338.4h0M164.9 396.8h0M165.3 344.4h0M165.4 342.4h0M165.6 388.9h0M165.7 343.1h0M165.9 395.1h0M166.4 344.5h0M166.9 400.5h0M167.9 389.4h0M168.3 387.8h0M168.4 392.1h0M168.4 339.7h0M168.8 339h0M169.8 385.9h0M169.8 337.1h0M170.2 387.5h0M170.3 390h0M170.7 340.4h0M170.9 395.9h0M171.5 343.3h0M172.4 346.6h0M172.5 346h0M172.5 396.2h0M172.6 395.7h0M172.6 400.4h0M172.7 345.4h0M173.2 398.5h0M173.3 396.1h0M174 401.8h0M174.5 399.8h0M174.7 342.2h0M175.3 342.5h0M175.3 401.4h0M175.4 402.7h0M175.8 403.4h0M176.4 347.2h0M176.6 401.2h0M176.6 401.5h0M176.9 400.7h0M177.1 347.8h0M177.6 344.4h0M177.6 348.5h0M178.4 346.5h0M178.5 346.9h0M178.7 342.8h0M179.3 344.9h0M179.8 398.8h0M179.8 397.9h0M180.5 402.9h0M180.5 399.7h0M180.6 345.9h0M180.9 405.7h0M181.3 345.7h0M182 397.9h0M182.1 344.3h0M182.3 340.7h0M182.7 343.1h0M183.2 404h0M183.4 341.4h0M183.7 399.7h0M183.9 399.9h0M184.3 401.5h0M184.8 337.8h0M185.1 398.4h0M185.3 401.8h0M185.8 337.5h0M185.8 340.9h0M186.1 341.2h0M186.8 399.7h0M187 396.5h0M187 399.2h0M187.2 336h0M187.3 337.6h0M187.6 336.8h0M188.6 331.8h0M188.6 395.8h0M189.1 396h0M189.2 397h0M189.5 403.7h0M190 400h0M190.6 325.1h0M190.9 333.6h0M191.2 331.3h0M192.1 328.2h0M192.2 387.9h0M193.2 393.7h0M193.8 335.7h0M193.8 395.1h0M194.1 334.5h0M194.3 396h0M194.5 394.5h0M194.6 392.8h0M194.7 330.6h0M195.1 327.4h0M195.9 325.3h0M196 394.4h0M196.6 396.6h0M197 391.2h0M197 313.7h0M197.1 397.4h0M197.1 319h0M197.3 392.2h0M197.6 314.3h0M198.3 320.9h0M198.5 402.2h0M198.6 396.1h0M198.7 321.9h0M198.9 323.8h0M199.1 399.1h0M199.8 321.3h0M200.5 396.1h0M200.7 328.6h0M201 399.1h0M201.3 330.6h0M201.6 400.3h0M202.3 318.7h0M202.6 336.3h0M203.6 329.7h0M203.8 324.7h0M204.3 404.4h0M204.4 326.8h0M204.4 405.8h0M204.4 329.4h0M204.4 328.8h0M204.7 404h0M206.6 408.5h0M206.8 331h0M207 401.3h0M207.1 327.3h0M208.3 402.3h0M208.6 405.5h0M208.7 330.9h0M208.8 403.4h0M208.9 332.9h0M209 335.5h0M209.3 333.3h0M209.5 326.6h0M209.5 333.8h0M209.6 408.7h0M210 407.9h0M210.8 411.1h0M210.9 329.3h0M211.2 407.7h0M211.4 331.4h0M211.5 412.2h0M211.6 336.4h0M212 334.7h0M212.1 407.1h0M213.1 410.4h0M213.1 334h0M213.2 333.1h0M213.7 422.4h0M213.8 402.9h0M214.4 335.5h0M214.5 403.1h0M214.6 336.6h0M215.3 413.1h0M215.5 333.8h0M215.5 402.3h0M216 334.3h0M216.1 330.5h0M216.9 398.5h0M217.1 325.5h0M217.2 330.1h0M217.3 404.2h0M217.7 399h0M218.2 408.7h0M218.6 405.2h0M218.7 323.3h0M218.9 400.8h0M219.1 328.7h0M219.8 317.6h0M220.5 400.4h0M220.6 403.8h0M220.7 313.8h0M221 407.4h0M221.4 405.1h0M222.2 305.4h0M222.3 411.6h0M222.7 307.5h0M222.7 308.2h0M223 403.2h0M223.3 398.1h0M223.7 408.5h0M223.9 397.8h0M224.2 311h0M225 308.3h0M225.1 308.3h0M225.3 316.9h0M225.8 431.1h0M226.4 411.6h0M226.5 417.8h0M226.7 315.1h0M226.9 314.9h0M227.3 416.6h0M227.5 311.7h0M227.5 415.1h0M227.6 311h0M228.6 312.3h0M228.7 422.2h0M228.8 424h0M229 313.7h0M229.1 424.7h0M229.5 418.5h0M229.7 418.8h0M230.1 316.4h0M230.2 323h0M230.3 310.4h0M230.4 432.4h0M231 433.3h0M231 426.1h0M231.4 307.9h0M231.8 424.9h0M232 312.2h0M232.5 311.8h0M232.6 424.4h0M232.8 434.5h0M233.1 301.8h0M233.2 310.9h0M233.7 308.2h0M234.4 423.6h0M234.7 434.6h0M234.7 303.9h0M235.1 297.3h0M235.8 424.1h0M236.3 414h0M237.2 428.7h0M237.7 317.4h0M237.7 421.6h0M237.8 440.6h0M238 310.2h0M238.3 318.9h0M238.4 303.8h0M238.9 429.5h0M239.5 440.6h0M239.6 424.4h0M239.7 430.3h0M239.9 304.8h0M240.1 312.5h0M240.5 320h0M240.6 297.7h0M241.7 322.5h0M242.4 418.6h0M242.7 314.5h0M243.7 322.8h0M245.2 436h0M245.2 307.8h0M245.2 442.6h0M245.3 432.3h0M245.7 301.9h0M246.5 438.1h0M246.7 435.2h0M246.9 300.5h0M247 308.5h0M247.1 439.3h0M247.2 429.1h0M247.5 432.4h0M247.9 290.4h0M248.3 431.5h0M248.5 307.8h0M248.8 298.6h0M249.2 300.1h0M249.2 433.5h0M249.6 302.2h0M250 422.9h0M250.1 423h0M250.6 428h0M250.6 315.1h0M250.9 426.7h0M251 315.9h0M251 427.8h0M251.6 305.7h0M252 437.2h0M253.2 305.3h0M253.6 418.2h0M253.8 298.5h0M254 306h0M254.4 439.2h0M254.5 288.4h0M254.6 279.4h0M255.9 441.8h0M255.9 435.3h0M256.1 316.2h0M256.2 310.9h0M256.3 315.6h0M256.9 438.2h0M256.9 314.4h0M257.1 432.3h0M257.5 439.6h0M257.7 312.7h0M258.3 444.7h0M258.5 315.6h0M258.6 445h0M258.6 317.2h0M259 448.8h0M259 316.2h0M259.3 312.1h0M259.4 439.8h0M259.5 315.6h0M259.8 311.4h0M260.5 438.4h0M260.8 438h0M261 447.9h0M262.8 444h0M263 437.5h0M263.1 428h0M263.1 311.7h0M263.5 314.9h0M263.7 313.1h0M263.8 439h0M263.8 438.6h0M264.7 437.5h0M265.1 432.2h0M265.6 431.6h0M265.8 433.5h0M266.6 449.9h0M267.3 441h0M267.7 335h0M268 335.4h0M268.3 326.1h0M268.6 322.1h0M269 437.5h0M269 448.4h0M269.1 329.1h0M269.2 426.6h0M269.3 333.7h0M270.1 332h0M270.2 449.3h0M270.3 332.3h0M270.3 434.1h0M271.2 331.5h0M273.2 441.8h0M273.6 459.4h0M273.8 450.8h0M274 326h0M274.1 326h0M274.8 327.3h0M274.9 330.4h0M275.1 332.4h0M275.6 431.5h0M276.4 327.7h0M276.6 455h0M276.7 432.2h0M276.9 442.6h0M277 328.2h0M277 433.3h0M277.7 425.1h0M278.7 438h0M278.9 343.1h0M279.2 432.1h0M279.8 436.1h0M279.9 347h0M280 435.7h0M280.1 342h0M280.1 342.8h0M280.4 433.5h0M280.7 443.7h0M281.4 437.1h0M281.5 343.7h0M281.7 335.1h0M282.1 337.5h0M282.4 449.9h0M282.5 340.5h0M282.9 332.9h0M282.9 454.4h0M283.1 345h0M283.2 461.8h0M283.3 444.2h0M283.8 341.8h0M284 455.5h0M284.1 340h0M284.7 441.7h0M285 342.8h0M285.3 342.6h0M285.5 340.8h0M286.8 438.4h0M287.1 339.4h0M287.6 340.1h0M287.7 426.9h0M287.7 339.6h0M287.8 429.9h0M288.2 425.3h0M288.3 445.2h0M289.4 432.3h0M290.2 451.4h0M290.7 341.8h0M290.8 429h0M291.3 340.2h0M291.5 349h0M291.5 427.5h0M292.1 430h0M292.3 430.8h0M292.7 430h0M293.2 433.4h0M293.6 427.7h0M294.9 324.3h0M295.1 443.7h0M295.3 323.3h0M295.5 324.3h0M295.7 327.9h0M296.2 437.8h0M296.8 430.2h0M297 337.4h0M297.4 335.8h0M297.4 434.4h0M297.5 340.2h0M297.8 426.8h0M299 440.9h0M299.2 431.3h0M299.7 432.5h0M299.7 436.5h0M299.8 431.2h0M299.9 334h0M299.9 333.4h0M300.1 335.6h0M300.7 332.9h0M300.9 335.6h0M301.1 332h0M301.5 429.7h0M301.8 334.9h0M301.9 442.4h0M302.7 323.5h0M302.9 440.4h0M302.9 337.4h0M303.1 441.5h0M303.4 331.3h0M303.5 329.3h0M303.6 435.8h0M303.7 438.4h0M304.9 456.9h0M305 445.4h0M305.7 323.9h0M306 323.3h0M306.5 329.2h0M306.5 435.8h0M306.6 430.9h0M307.4 425.4h0M307.8 425.6h0M308.8 435.1h0M309 448.2h0M309.4 431.1h0M309.7 339.8h0M310.4 354.5h0M310.5 347.5h0M311.3 349.2h0M311.9 473h0M312.1 452h0M312.9 441.7h0M313 333.1h0M313.5 330.8h0M313.8 332.3h0M314 441h0M314.3 340h0M314.6 337.6h0M314.6 451.3h0M314.7 435h0M315.4 332.9h0M315.5 435.2h0M315.7 351.6h0M315.8 440.6h0M316.1 441.8h0M316.3 344.8h0M317.5 336.5h0M318.2 343.6h0M318.4 345.4h0M318.5 467.1h0M318.6 464.7h0M319.1 447.1h0M320.4 340.5h0M320.4 448.9h0M320.5 333.2h0M321 338.9h0M321 334.4h0M321.3 438.1h0M321.3 340.8h0M321.9 338.2h0M322 452.7h0M322.5 447.1h0M322.5 440.8h0M323.2 344.6h0M324 347.2h0M324.3 447.4h0M324.9 432.4h0M325.2 345.6h0M325.4 339.3h0M325.5 447.8h0M325.5 340.8h0M325.6 344.6h0M325.6 435.6h0M325.8 447.3h0M325.9 441.1h0M326.1 343.6h0M326.3 342.5h0M327 444h0M327.1 342.2h0M328.8 476.4h0M328.8 444.9h0M329.2 472.5h0M330 442.2h0M330.4 467.3h0M330.4 463.6h0M330.7 331.7h0M330.7 333.8h0M331.5 454.6h0M331.7 330.3h0M332.4 435.1h0M332.6 329.1h0M332.7 439.3h0M333 444.6h0M333.2 454h0M334.1 438.2h0M334.4 334.9h0M334.6 341.9h0M334.6 334.6h0M335 457.2h0M335 461.6h0M335.8 334.6h0M336.2 441h0M336.5 455.5h0M336.7 440.4h0M336.7 341.4h0M337.3 339h0M337.4 340.4h0M338 336.6h0M338.2 337.7h0M338.7 345.8h0M339.5 339.5h0M339.7 339.9h0M339.7 344.8h0M339.9 475.5h0M340.2 459.6h0M340.3 474.1h0M341.1 331.9h0M341.9 337.6h0M342.5 314.6h0M342.5 441.3h0M343 443.9h0M343 438.5h0M343 321.7h0M343.2 340.6h0M343.5 441.8h0M343.6 318.5h0M343.8 457.2h0M344.1 448.2h0M344.5 443.3h0M344.5 323.4h0M344.7 329.8h0M344.7 329.2h0M345.4 456.4h0M345.4 442.1h0M346 451.8h0M346.4 452h0M346.9 323.9h0M347.2 446h0M347.2 346h0M347.4 447.8h0M347.5 349h0M347.5 442.9h0M348.3 349.7h0M348.7 333h0M349.1 348.2h0M349.1 450.2h0M349.9 453.6h0M350.4 455.8h0M350.4 447.8h0M350.5 334.3h0M350.8 461h0M351.1 323.6h0M351.4 347.5h0M351.5 452.9h0M351.9 458.4h0M352.6 341.5h0M352.9 333.6h0M353.1 448h0M353.1 451.2h0M354.1 319.9h0M354.9 320.9h0M355 321.9h0M355.1 323h0M355.1 447.8h0M355.2 450.9h0M355.4 455.9h0M356.4 452.9h0M357.7 451h0M358 450.8h0M358.2 317.5h0M358.4 316.3h0M358.8 322h0M359 454.3h0M359.1 446.3h0M359.2 449.6h0M359.7 450.7h0M360.7 448.3h0M361.1 326.7h0M361.3 443h0M361.5 334.7h0M361.7 437h0M361.7 335.2h0M362.6 339.3h0M362.7 340h0M363.1 444.2h0M364 448.4h0M364 322h0M364.2 447.5h0M364.2 323h0M364.3 443.3h0M364.6 320.2h0M365 314.3h0M365.3 329h0M365.4 440.5h0M365.6 318.6h0M366.3 435.7h0M367 317.3h0M367 435.7h0M367.4 323.5h0M367.4 294.2h0M367.6 433.7h0M367.8 436.9h0M368.4 425.8h0M368.6 298h0M369.2 309.5h0M369.3 318h0M369.5 326.8h0M370.2 435.6h0M370.3 447h0M370.4 449.8h0M370.9 449.1h0M370.9 449.7h0M371.4 307.7h0M371.4 436.4h0M372.1 319.9h0M372.5 430.6h0M372.6 317.4h0M373.1 426.2h0M373.8 319h0M374 421.1h0M374.1 311h0M374.8 306h0M374.9 427.2h0M375 414.4h0M375.3 417.3h0M375.3 293.7h0M375.5 429h0M375.7 304.2h0M375.9 292.7h0M376.5 305.6h0M376.9 316.9h0M376.9 426.2h0M377.4 304.5h0M377.5 314.5h0M378.2 429.5h0M378.3 323.1h0M378.4 425.2h0M378.9 320.3h0M379 313h0M379.2 420.6h0M380.5 435.6h0M380.9 426h0M381.2 428.3h0M381.3 429.9h0M381.7 322.2h0M382.4 308.9h0M382.9 427.9h0M383.4 309.1h0M384.3 293.3h0M384.3 442.1h0M384.4 303.8h0M384.9 434.2h0M385.2 305.3h0M385.4 426.4h0M385.9 433.9h0M386.2 434.1h0M386.9 432.2h0M387.3 313.1h0M387.4 444.8h0M387.5 307.8h0M387.5 436.3h0M387.6 317.3h0M388.4 317.8h0M388.7 446.6h0M389 432h0M389 315h0M389.3 430.5h0M389.5 436.5h0M389.7 322.7h0M389.9 317.6h0M390.2 315.6h0M390.4 424.4h0M390.5 324.5h0M390.5 308.2h0M391.2 319.7h0M391.2 423.7h0M391.5 427.6h0M391.9 418.5h0M392.2 319.4h0M392.8 423.5h0M393 415.6h0M394 318.7h0M394.1 425.7h0M394.1 312.6h0M394.2 416.9h0M394.8 316.1h0M394.8 304h0M395.3 422.6h0M395.5 312.4h0M395.5 308.3h0M395.8 425.5h0M395.8 415h0M396.1 434.5h0M396.1 312.8h0M397.1 407.8h0M397.2 307.7h0M397.5 321.5h0M397.6 410.2h0M397.9 312.1h0M398.3 410.3h0M398.5 405.3h0M399.1 406h0M399.8 422.7h0M399.9 311.3h0M399.9 316.7h0M400.3 313.5h0M400.9 417.8h0M402.4 303.3h0M402.5 306.8h0M402.9 312.6h0M403.1 424.5h0M403.4 415.2h0M403.8 311.7h0M404 416.1h0M404.8 311.1h0M405.2 318.5h0M405.7 299.3h0M405.8 312.3h0M406 317.1h0M406.7 414.3h0M406.8 316.2h0M406.9 423.3h0M407 410.3h0M407.8 413.4h0M408.1 320.8h0M408.3 309.5h0M408.3 326.8h0M408.8 432h0M409.3 434.2h0M409.6 433.7h0M410.2 439.1h0M410.6 437.3h0M410.7 326.7h0M410.7 328.2h0M410.8 325.1h0M411.6 422.9h0M411.7 426.2h0M411.8 317.9h0M412.4 424.1h0M412.7 323.8h0M413.1 426.6h0M413.5 414h0M414.2 303h0M414.3 401.2h0M414.8 405.3h0M414.9 305.6h0M415.1 309.3h0M415.1 406h0M415.6 420.5h0M415.8 309.5h0M416.6 305.4h0M416.7 307.3h0M416.8 411.8h0M417.5 411.9h0M417.9 417.1h0M418.3 420.9h0M419.5 332.5h0M419.5 416.5h0M419.6 318.1h0M420 331.4h0M420.2 424h0M420.6 413.3h0M421.2 423.4h0M421.4 324.2h0M422.4 423.6h0M423.2 311h0M423.4 427.4h0M423.8 433.3h0M424 301.8h0M424 431.1h0M424.2 311.5h0M424.3 441.2h0M424.4 422.5h0M424.4 298.4h0M424.8 304.4h0M425 437.7h0M425.3 296h0M425.9 305.3h0M426.2 306.5h0M426.5 305.5h0M426.8 310.9h0M428.5 411.8h0M428.7 419h0M429.3 421h0M429.6 410.1h0M431.1 419.3h0M431.6 410.6h0M431.7 415.9h0M432.2 427.2h0M432.4 312h0M432.4 305.6h0M432.4 319.6h0M432.7 423.5h0M433.3 309.6h0M433.6 315.2h0M434.1 405.2h0M434.6 400.1h0M434.7 406.4h0M434.7 307.1h0M434.8 307.9h0M434.9 315.2h0M435.3 407.6h0M435.7 311.8h0M436 311.1h0M436.4 414.2h0M437.3 427.8h0M437.4 409.9h0M438.6 432.5h0M439 323.4h0M439 421.6h0M439.2 322.9h0M439.2 423.9h0M439.5 420.7h0M440 420.9h0M440 415h0M440.9 310h0M440.9 307.7h0M441.3 409.3h0M441.6 412.3h0M441.7 307.2h0M442.1 309.9h0M442.3 416.6h0M442.5 413.6h0M442.6 407.5h0M443.4 412.6h0M443.6 411.4h0M443.9 425.4h0M444.8 404.2h0M446.2 297.8h0M446.2 308.4h0M446.4 426.1h0M446.5 292.7h0M446.7 413.8h0M447 425.1h0M447.4 305.5h0M448.1 304.4h0M448.4 306.4h0M448.5 428.6h0M448.8 424.4h0M448.8 299.3h0M449 439.8h0M449.7 304h0M450.2 425.9h0M450.4 423.2h0M450.5 422.9h0M450.6 430.4h0M451.4 423.6h0M452.4 324.6h0M452.6 418.5h0M452.7 416.8h0M452.9 318.3h0M452.9 422.7h0M452.9 319.8h0M453.1 315.9h0M454.1 311.5h0M454.6 313.3h0M454.7 296.3h0M454.7 318.1h0M455.3 434.8h0M455.4 404.3h0M455.8 320h0M455.9 307.5h0M456 408.1h0M456.4 420.9h0M456.5 407.8h0M456.7 312.4h0M456.9 425.3h0M457.1 431.7h0M457.5 305.9h0M458.4 406.5h0M458.7 417.8h0M458.9 305.5h0M458.9 302.3h0M459.1 304.6h0M459.1 409.6h0M459.3 434.1h0M460.4 305.8h0M460.7 308h0M461.9 312.1h0M462.2 429.3h0M462.3 317.1h0M462.7 426.8h0M462.7 423.9h0M462.9 314.9h0M463.7 430.7h0M463.8 320.4h0M464.3 330.3h0M464.4 308.3h0M465.4 331.6h0M465.8 319.8h0M465.9 430.6h0M466.2 314.7h0M466.7 421.9h0M467.7 315.3h0M467.7 313.2h0M468 427.2h0M468.2 425.5h0M468.3 312.1h0M468.3 323.5h0M469.1 298.3h0M469.7 323.7h0M469.7 438.6h0M469.8 435h0M469.9 427.8h0M471.3 323.2h0M471.8 411.8h0M472.3 315.6h0M472.9 328.2h0M473.2 306.4h0M473.5 407.9h0M473.6 411.3h0M473.7 313.3h0M473.9 421.9h0M474.8 306.3h0M475.3 297.9h0M475.5 310.1h0M475.9 410.4h0M476.1 311.4h0M476.4 406.5h0M476.9 407.8h0M477 407.5h0M477.4 312.8h0M477.9 416.6h0M478.5 406.2h0M478.7 408h0M479 326.4h0M479 410.2h0M479.1 327h0M479.2 327.2h0M479.4 321.4h0M480.1 417.5h0M481.2 313.3h0M481.2 313.8h0M481.4 414h0M481.4 316.8h0M481.5 417.4h0M481.7 412.9h0M481.8 412.8h0M482.4 414.8h0M482.8 311.4h0M482.9 282.2h0M483 410.8h0M483.2 414.4h0M483.5 290.4h0M483.5 408.8h0M483.9 313.3h0M484.2 296.8h0M484.3 303.5h0M484.3 314.6h0M484.4 408.7h0M484.5 412.7h0M485.2 408.5h0M485.8 408.9h0M486.3 301.9h0M487.2 409.5h0M487.6 397.5h0M487.7 318.2h0M487.7 400h0M488.3 321.8h0M488.9 401.6h0M489.2 400.8h0M490.8 408h0M491.1 324.1h0M491.1 330.7h0M491.1 411h0M491.2 327h0M491.4 408.1h0M492.4 411.2h0M492.9 414.4h0M492.9 417h0M493.5 318.9h0M493.7 429.7h0M493.7 324.8h0M493.7 325.4h0M493.9 405h0M494.5 321.3h0M494.5 401.3h0M495.2 422.2h0M495.5 323.4h0M495.8 406.7h0M496 314.9h0M496.8 312.6h0M497 409.2h0M497 316h0M497.2 311.4h0M497.9 422h0M498.5 414.9h0M498.8 313.7h0M499.6 415.8h0M499.7 322.4h0M500.5 322.5h0M501.2 415.8h0M501.3 318.2h0M501.7 321.9h0M502 302.6h0M503.2 327.4h0M503.3 398.9h0M503.4 308h0M503.4 314.9h0M503.7 406.6h0M504.2 399.8h0M505.3 320.7h0M506 316.3h0M506.2 418.6h0M506.3 313.5h0M506.7 320.7h0M506.8 413.3h0M506.9 315.6h0M507.1 321h0M507.3 320.3h0M507.3 412.8h0M507.5 413.8h0M509 418.6h0M509.5 416.8h0M509.7 319.4h0M510.1 411.2h0M510.1 330.3h0M510.3 419.8h0M510.4 308.5h0M510.5 411.1h0M510.8 419.8h0M510.8 319.5h0M511.2 417h0M511.5 316.1h0M511.6 312.4h0M511.8 421.9h0M512.1 419.9h0M512.2 329.2h0M512.5 330.1h0M512.9 412.8h0M512.9 325.1h0M513.1 328.5h0M513.3 325.5h0M513.7 424.5h0M514 322.1h0M514.1 410.5h0M514.5 402.9h0M515 421.8h0M515.8 315.8h0M516.2 401.9h0M516.4 315.2h0M516.5 407.1h0M516.7 307h0M517 317.3h0M517.3 407.3h0M517.3 312h0M517.5 317.6h0M517.9 407.3h0M518.2 426.3h0M518.7 410.3h0M519.6 322.4h0M520.4 325.8h0M520.6 421.5h0M520.7 415.3h0M521.4 421.1h0M522.1 300.4h0M522.2 420.2h0M522.2 423h0M522.5 420.7h0M522.6 312.5h0M522.6 315.5h0M523.3 412.2h0M524.2 417h0M524.3 415.1h0M524.7 423.5h0M524.8 315.7h0M525.3 319.1h0M525.4 314.9h0M525.5 412.2h0M525.6 412.4h0M525.8 419h0M526.6 411.4h0M527 320h0M527.3 413.7h0M527.4 316.2h0M527.5 321.3h0M528.4 411.2h0M529.1 415.4h0M529.2 415.2h0M529.5 332.4h0M529.8 410.4h0M530.2 331.8h0M530.5 328.7h0M530.7 419.5h0M530.8 408h0M530.8 420h0M531 326.5h0M531.8 326.8h0M531.8 319.5h0M531.9 422.5h0M532 324.6h0M532.4 416.1h0M533.2 416.3h0M533.7 415.8h0M533.8 322.4h0M534 422.2h0M535.6 324.2h0M535.6 422.8h0M535.9 431.7h0M536.2 328.3h0M536.4 314.6h0M536.6 430.4h0M536.9 420.6h0M537.6 424h0M537.8 309.1h0M537.8 321h0M537.9 424.2h0M537.9 307.8h0M538 425.9h0M538.1 426.8h0M538.9 307.8h0M539.3 312.6h0M539.4 422.1h0M539.7 311.1h0M540.1 309.5h0M540.9 428.6h0M541.3 422.9h0M541.8 322.7h0M541.9 312.9h0M542.5 306.7h0M542.6 427.7h0M543.2 429.3h0M543.4 317.4h0M543.5 311.6h0M543.6 436.5h0M543.9 434.5h0M544.1 306.1h0M544.7 425.4h0M545.2 319.3h0M545.4 420.3h0M545.4 309.4h0M546 418.7h0M546.3 425h0M546.5 304.5h0M546.9 307.1h0M547.2 422.4h0M547.5 288.9h0M547.6 306.9h0M547.7 434.7h0M548.2 303.6h0M548.4 419.2h0M548.4 422.9h0M549.1 308.9h0M549.1 293.9h0M549.2 424.8h0M551.1 308.4h0M551.2 318h0M552.1 415.8h0M552.3 417.3h0M552.4 318.9h0M552.6 418.5h0M552.8 319.2h0M552.8 313.9h0M553.1 418.9h0M553.2 307.3h0M553.3 444.2h0M553.6 311h0M554 423.4h0M554.2 316.8h0M554.3 440.6h0M554.4 429.7h0M554.7 435.2h0M555.1 318.6h0M555.2 307.4h0M555.9 441.9h0M556.3 420.2h0M556.6 447.9h0M557 306.5h0M557 304.7h0M557.2 306.1h0M558.3 419.8h0M558.5 302.5h0M559.2 422.5h0M559.3 315.6h0M559.3 453.1h0M559.5 311.2h0M559.6 314.8h0M561.5 303.2h0M561.5 416.7h0M561.8 419.8h0M561.9 436.7h0M562.6 431.5h0M562.7 296.3h0M562.8 293.2h0M562.9 297h0M563.9 422.4h0M564.2 433.5h0M564.4 417.8h0M564.7 405.2h0M564.9 318.1h0M565.1 415.6h0M565.2 316h0M565.2 325.2h0M566.8 420.9h0M567.3 421.2h0M567.6 421.4h0M567.6 325.4h0M568 426.4h0M568.8 428.8h0M569.2 423.8h0M569.2 309.9h0M569.3 298.8h0M569.7 432.1h0M569.7 423.8h0M570.1 299.3h0M570.3 307.9h0M571.7 314h0M571.9 422.2h0M572.1 305h0M572.4 436h0M572.9 425.9h0M573.1 317.9h0M573.2 430.8h0M573.8 302.7h0M574.2 323.8h0M574.2 433.7h0M574.3 309.8h0M574.3 327.9h0M575.6 429.1h0M575.9 307h0M576.3 292.4h0M576.6 313.8h0M576.8 312.3h0M577 438.6h0M577.1 433.4h0M577.6 310.2h0M577.7 431h0M577.9 306.7h0M578.6 311.6h0M578.6 297.9h0M579.8 292.5h0M579.9 412.4h0M579.9 408.4h0M580.2 407.9h0M580.6 420.6h0M580.7 315.1h0M581.1 316.6h0M581.4 293h0M581.5 421h0M581.6 407.7h0M581.8 315.7h0M582.9 417.4h0M583.2 325.3h0M583.3 433.7h0M583.3 420.8h0M583.8 315h0M584.2 411.4h0M584.3 424.3h0M584.8 422.5h0M585.5 319.3h0M586.2 308.8h0M587.3 412.9h0M587.3 420.6h0M587.4 304.1h0M587.6 292.9h0M588 309.1h0M588.5 314.8h0M589.2 417.8h0M589.5 299.2h0M589.5 423.9h0M590.4 427.8h0M590.4 430h0M590.5 302.2h0M590.8 306.8h0M590.8 302.6h0M591 296h0M591 432.6h0M591.8 429.1h0M591.8 421.3h0M592.2 312.2h0M592.5 307.9h0M592.8 420h0M593 309.4h0M594 308.8h0M595.2 409.7h0M595.3 429.1h0M595.4 424.4h0M595.7 416h0M595.8 409.7h0M596.6 412.9h0M602.7 406.2h0M602.9 308.4h0M603.7 307.6h0M603.9 313h0M603.9 416.2h0M604.1 303.6h0M604.4 409.6h0M604.4 409.5h0M604.9 299.5h0M605 411.2h0M605.3 301.5h0M605.7 412.4h0M605.9 409h0M606.1 299.6h0M606.4 296.8h0M606.7 300.6h0M607.5 408.2h0M607.5 404.1h0M607.7 414.4h0M607.7 304.1h0M609.2 403.7h0M609.5 416.2h0M609.5 311.1h0M609.5 303.1h0M609.9 404.5h0M610 398.4h0M611 408.6h0M611.4 410.1h0M611.7 295.3h0M611.7 297.3h0M611.9 405h0M612.2 298.1h0M612.3 408.7h0M612.3 407.2h0M612.4 290.2h0M612.7 298h0M613.7 401.6h0M613.9 404.2h0M614 423.1h0M614.4 402.6h0M615.2 401.1h0M615.3 418.1h0M616 401.9h0M616.1 312.1h0M616.6 314.3h0M616.8 399.8h0M617.2 305.3h0M617.3 307.7h0M617.4 403.1h0M617.8 400.8h0M618 303.7h0M618.2 311.2h0M618.6 303.2h0M618.9 415.8h0M619.5 305.8h0M619.9 418.3h0M620.1 427.2h0M620.1 431.1h0M620.1 305.3h0M620.4 305.4h0M620.8 413.9h0M621 297.5h0M621.6 412.6h0M621.7 299.5h0M621.9 310.9h0M622.2 404.8h0M622.2 411.5h0M623 403.8h0M623.2 414.8h0M623.5 291h0M623.6 311.8h0M623.7 309.2h0M624.3 311.6h0M624.9 408h0M625.3 308.7h0M625.5 415.5h0M625.6 288.7h0M625.7 418.6h0M625.8 298.9h0M626.1 416.2h0M626.1 309.3h0M627.1 291.2h0M627.2 407.1h0M627.6 295.1h0M627.7 299.7h0M628.2 398.8h0M628.3 396.7h0M629.4 297.5h0M629.7 300.1h0M629.8 296.5h0M629.9 394.4h0M630.2 391.8h0M630.7 400.8h0M631.2 395.2h0M631.3 292.4h0M631.4 300.6h0M632.2 415.4h0M632.3 396.6h0M632.8 398.7h0M632.8 302h0M633.2 294.7h0M633.6 395.1h0M633.8 399.4h0M633.9 294.5h0M633.9 411.8h0M634 309.7h0M634.6 406.6h0M634.8 406.3h0M635.1 298.7h0M635.7 310h0M635.9 302.6h0M636.1 311h0M636.5 388.5h0M636.6 388h0M636.9 391.1h0M637.5 306.5h0M637.6 391.7h0M637.7 310.8h0M638.4 392.7h0M638.6 310.1h0M638.7 393.9h0M639.1 406.6h0M639.1 312.6h0M639.5 305.1h0M639.5 393.2h0M639.5 401.7h0M639.6 301.2h0M639.8 303.8h0M640.2 392.8h0M640.5 304h0M640.5 294.9h0M640.6 295.4h0M641 392.7h0M641.9 395.3h0M642.1 386.5h0M642.1 400.2h0M643 384.6h0M643.2 387.3h0M643.3 397.9h0M643.4 307.1h0M643.5 305.4h0M643.6 308.1h0M644.3 308.3h0M644.5 383.9h0M644.6 380.4h0M645.1 380.8h0M645.2 307.6h0M645.6 302.6h0M646.2 305.2h0M646.4 305.8h0M646.5 378h0M647.1 374.1h0M647.5 384.1h0M647.9 397.1h0M648 314h0M648.8 387.1h0M649.3 374.1h0M649.3 391.1h0M649.3 316.6h0M649.8 377.5h0M650.7 320.5h0M650.8 317.3h0M651 386.1h0M651.7 319.4h0M651.8 324.1h0M651.9 320.3h0M651.9 320.5h0M652.5 381.4h0M652.9 376.1h0M653.1 323.8h0M653.4 377.5h0M654 324.3h0M654.6 380.1h0M655 322.9h0M655.2 318.3h0M655.4 319.3h0M655.5 393.4h0M655.9 318.9h0M655.9 380.5h0M656.1 379.8h0M656.4 319.5h0M656.4 321.3h0M656.5 380.8h0M656.9 327.1h0M657.1 324.4h0M657.3 324.1h0M658.2 371.6h0M658.6 325.2h0M658.7 372.6h0M659.5 372.7h0M659.7 374.8h0M660.7 332.5h0M661.4 329.7h0M662.2 330.5h0M662.7 371.6h0M663.1 324.5h0M663.5 323.7h0M663.5 329.3h0M663.7 375h0M664.7 379h0M664.8 329.3h0M664.8 330.4h0M665.3 325.2h0M665.3 380.1h0M665.4 376.3h0M666.2 376.3h0M666.3 331.3h0M666.5 374.9h0M666.5 324.1h0M667.3 373.2h0M667.3 376.9h0M667.8 329.2h0M667.8 373.5h0M668.1 328.2h0M668.7 328.3h0M668.8 327h0M669.3 375.7h0M669.6 320.8h0M670.3 326.1h0M670.8 325.3h0M670.9 323.4h0M671.3 380.6h0M671.3 378.5h0M671.4 377.3h0M671.5 326.4h0M672.3 375.4h0M672.6 323.6h0M672.7 327.6h0M672.8 379.3h0M674 328.5h0M674.9 393.7h0M675 336.2h0M675.2 334.8h0M675.3 392.5h0M675.4 403.2h0M676.1 395.4h0M676.4 399.4h0M676.4 394.7h0M676.9 314.7h0M677 408.5h0M677 308.9h0M677.6 397h0M678.3 312.4h0M678.4 409.4h0M678.4 307.1h0M678.6 410.2h0M678.6 311.6h0M679.6 404.5h0M680 303.7h0M680 403.6h0M680.6 324.2h0M680.7 307.1h0M681.2 415.2h0M681.6 321.1h0M681.9 328.6h0M682.1 395.3h0M682.1 315.9h0M682.5 396.6h0M682.6 402h0M682.7 322.3h0M683.8 328.6h0M683.9 325.2h0M684.3 324.4h0M684.5 403h0M684.6 321.9h0M684.9 394.4h0M685.2 327h0M685.4 404.8h0M685.5 392.3h0M685.7 398.9h0M686 322.8h0M686.3 320.7h0M687.5 411.6h0M687.7 392.2h0M687.9 392.6h0M688.4 312.7h0M688.5 311.5h0M688.8 310.8h0M688.9 395.2h0M689 395.8h0M689.1 406.2h0M689.5 404.4h0M689.5 391.2h0M689.6 313.7h0M689.8 307.3h0M691 396.7h0M691 312.3h0M691.2 315.1h0M691.4 314.9h0M693.1 403.1h0M693.7 319.2h0M693.8 395.3h0M693.9 396.1h0M694.3 392h0M694.6 312.3h0M694.8 316h0M695.3 319.7h0M695.7 320.3h0M696.2 387h0M696.3 389.7h0M696.6 388.6h0M697.4 386.6h0M698 379.6h0M698.5 313.5h0M698.5 312.4h0M698.7 385.1h0M698.7 310.7h0M698.8 382.9h0M699.3 379.1h0M700 309.9h0M700.5 316.7h0M701 377.6h0M702.5 319.4h0M702.5 379.5h0M702.6 317.7h0M702.9 378.7h0M703.3 320h0M703.3 382h0M703.9 317.5h0M704 320.7h0M705.2 379.8h0M705.3 319.9h0M705.8 315.7h0M706.3 386h0M706.3 384.4h0M706.6 379.3h0M707.1 382.1h0M707.6 383h0M707.9 309.2h0M708.5 298.6h0M708.6 308h0M709.8 305.1h0M709.9 413.9h0M710 415.1h0M710.1 412.4h0M710.2 307.8h0M710.3 303.4h0M711.1 311.9h0M711.1 401.7h0M711.5 405.4h0M711.9 302.9h0M712.6 395.2h0M712.6 420.2h0M712.7 403h0M712.7 313h0M713.1 394.9h0M713.5 401.4h0M714.3 300.5h0M714.5 394.2h0M715 300.6h0M715.1 302.1h0M715.7 294.3h0M716.5 411.1h0M716.8 290.2h0M716.8 292.6h0M717.5 407.3h0M717.5 405h0M717.7 433.6h0M718 415.9h0M718.1 431.1h0M719.5 305.7h0M719.7 406.9h0M719.8 311.3h0M719.9 398.8h0M719.9 308.7h0M720.4 402h0M720.7 313.6h0M720.8 311.5h0M721 401.5h0M721.2 406.4h0M721.3 406.8h0M721.9 314h0M722.2 310.8h0M722.2 413.3h0M722.6 397.5h0M722.8 297.1h0M723.4 406.2h0M723.4 301.8h0M724.4 313.2h0M724.5 316.8h0M724.7 389h0M725 402.5h0M725.4 393.9h0M725.4 309.7h0M727 301.2h0M727.1 305.3h0M727.2 394.6h0M727.3 295.3h0M727.4 410.8h0M728 401.7h0M728.1 402.3h0M729.1 305.8h0M729.1 399.2h0M729.4 408h0M729.7 304h0M729.8 305.1h0M730 399.5h0M730.5 284.7h0M730.6 408.2h0M730.7 395.6h0M730.8 287.6h0M731.2 402.7h0M731.4 311.4h0M732.6 288.7h0M732.6 310.4h0M732.9 311h0M733.3 403.6h0M733.4 310.9h0M733.6 397.6h0M734.1 300.4h0M734.2 409.7h0M735 311h0M735.7 279.3h0M736.2 308.1h0M736.6 272.7h0M736.8 300.5h0M736.8 387.6h0M737 391.5h0M737.1 310.9h0M737.6 398.4h0M738.4 285.5h0M738.8 394.6h0M738.9 390h0M739 303h0M739.3 311.9h0M739.5 387.8h0M740 377.7h0M740.2 383.2h0M740.2 307.3h0M740.2 305h0M740.6 387.8h0M741.6 388.6h0M741.7 278.7h0M741.8 301.2h0M743 389.3h0M743.2 393.4h0M743.3 392.4h0M744.2 298h0M744.2 318.7h0M744.6 386.3h0M744.7 299.5h0M744.8 318.7h0M745 392.3h0M745.2 390.8h0M745.2 319h0M745.5 315.5h0M745.8 311.6h0M746.3 387.8h0M746.8 309.5h0M747.7 320.7h0M748.2 381.1h0M749.2 381.7h0M749.4 326.9h0M749.8 381.3h0M750 382.4h0M750.1 325.3h0M750.3 385.1h0M750.5 326h0M751.4 328.4h0M751.8 329.7h0M751.9 375.7h0M751.9 326.3h0M752.2 383.6h0M752.4 378.3h0M752.9 330.4h0M753.3 377.4h0M753.5 329.5h0M754.1 377.8h0M754.2 379.3h0M754.5 378h0M754.9 334.8h0M755.1 379.5h0M756.5 329h0M756.5 335.7h0M756.6 336.6h0M756.8 383.2h0M757.3 332.7h0M757.4 335.4h0M757.7 388h0M757.8 392.1h0M758.1 393.4h0M758.4 336.8h0M759.4 397.4h0M759.7 393.4h0M760 392.9h0M760.8 333.6h0M760.9 394h0M761.3 331.4h0M761.6 333.1h0M762 331.4h0M762.1 391.4h0M762.2 410.9h0M762.6 330h0M762.7 405.5h0M763.4 331.2h0M764.1 330.6h0M764.1 391.6h0M764.2 328.8h0M764.5 400.6h0M764.6 390.2h0M765.6 322.3h0M766.1 390.7h0M766.1 390.7h0M766.7 392.9h0M767 333.4h0M767.2 333h0M767.6 332h0M767.9 391.6h0M768.2 396.2h0M768.8 394.1h0M769.2 389.6h0M769.3 388.9h0M769.3 319h0M769.6 397.8h0M770.2 316h0M770.3 406.2h0M770.4 315.9h0M770.6 316.7h0M770.8 406.8h0M770.9 305.4h0M771.6 394.5h0M771.8 392.7h0M771.9 316.8h0M772.1 389.5h0M772.2 314.9h0M772.2 317.6h0M772.6 406.4h0M773.8 304.7h0M774.3 383.7h0M774.3 377.9h0M775.3 380.7h0M775.6 378.1h0M775.6 321.9h0M775.9 317.9h0M776.1 377.6h0M776.7 381.3h0M777.3 376.6h0M777.9 378.4h0M777.9 316.5h0M778 377.8h0M778.1 327.8h0M778.2 316.9h0M778.3 377.8h0M778.7 375.6h0M779 309.5h0M779.3 326.7h0M779.4 323.6h0M780.5 376.1h0M780.5 369.4h0M780.9 332.6h0M781 375.8h0M781.2 329.3h0M782.2 371.4h0M782.5 328.7h0M782.5 370.1h0M782.6 334.1h0M782.7 371.8h0M783.6 337.3h0M783.8 336h0M784.7 339.9h0M784.7 336.9h0M785 337.1h0M785.7 376.9h0M785.8 375.9h0M785.9 376.6h0M787.2 335.5h0M787.2 335.7h0M787.4 335.2h0M788 374.8h0M788.4 335h0M788.7 336h0M788.9 332h0M788.9 375.1h0M789 373.9h0M789.5 332.3h0M789.6 379h0M790.1 333h0M790.7 338h0M791.2 373.5h0M792.5 381h0M793 337.6h0M793.4 379.9h0M793.4 337.7h0M793.5 337.3h0M794.5 377.5h0M795.3 337.2h0M795.4 374.6h0M795.4 372.9h0M795.9 337.8h0M796.2 335h0M796.3 337.4h0M796.3 376.6h0M796.7 374.5h0M796.8 371.8h0M797.3 338.8h0M797.5 374.5h0M797.6 377.7h0M798.4 377.1h0M799.1 339.4h0M799.2 376.4h0M799.8 373.7h0M800.2 371.9h0M800.4 331.8h0M800.6 329.6h0M800.6 333.6h0M801.3 375.7h0M801.5 373.3h0M801.6 372.5h0M802 333.1h0M802.4 335.9h0M802.9 335.1h0M803 378h0M803.3 335.8h0M804 328.1h0M804 377.9h0M804.1 380.9h0M804.2 336.2h0M804.3 334.7h0M805.4 382.3h0M805.5 334.4h0M805.9 335.9h0M806 386h0M806 381.7h0M806.4 378.5h0M807.1 379h0M807.2 380.3h0M807.3 338h0M807.3 339.5h0M807.4 382.5h0M808.1 337.3h0M808.3 385.8h0M808.6 380.2h0M808.7 341.9h0M809 329.2h0M810.8 337.9h0M811.7 334.8h0M812.2 379.4h0M812.6 383.1h0M813 382.8h0M813.3 336.7h0M813.5 332.8h0M814 383.1h0M814.1 335.9h0M814.2 386.7h0M814.3 380.4h0M815.4 379.6h0M816 333.3h0M816.2 384.7h0M816.2 385.3h0M816.2 383.5h0M816.4 336h0M816.4 333.6h0M818 338.4h0M818.1 376.9h0M818.2 329.1h0M818.3 383h0M818.3 379.7h0M818.8 334h0M820 335.4h0M820.9 339.1h0M821.5 389.5h0M821.6 343.9h0M821.6 336.1h0M821.7 392.3h0M821.8 391.1h0M822.2 340.4h0M822.2 389.1h0M822.4 340.3h0M823.1 388.5h0M823.3 337.1h0M823.5 339.9h0M824.1 339.2h0M824.1 386.2h0M824.8 337.6h0M824.8 388.3h0M824.8 339.9h0M824.9 391h0M825.2 339.3h0M825.6 332.6h0M825.8 384.7h0M826.3 387.7h0M826.5 339.9h0M826.9 385.4h0M826.9 329.2h0M827.5 335.1h0M827.9 336.2h0M828.3 387.7h0M828.6 386.4h0M828.6 339.4h0M828.7 385.2h0M829.7 341.3h0M829.8 335.5h0M829.8 392.1h0M830.2 336.6h0M830.6 381.6h0M830.7 338.8h0M831.6 339.2h0M831.9 381.9h0M832.3 382.5h0M832.5 382.5h0M833.6 328.1h0M833.6 380.7h0M834.5 330.2h0M834.7 336.9h0M835 382.7h0M835.1 384.1h0M835.3 330.1h0M835.4 384.7h0M835.8 334.8h0M836.1 330.6h0M836.1 333.2h0M836.3 387.8h0M836.8 387.5h0M836.8 334.7h0M837 388.4h0M837.3 336.8h0M837.5 387.5h0M838.4 332.5h0M839.3 332.8h0M839.6 388.8h0M840.5 380.8h0M841.1 329h0M841.7 331h0M841.8 380.1h0M841.9 323h0M842.1 335.4h0M842.4 384.1h0M842.7 380.3h0M843 319h0M843.3 380.3h0M843.4 379.5h0M843.7 379.7h0M843.8 334.9h0M843.8 323.3h0M844.8 333.3h0M845.7 324.9h0M845.8 316.5h0M846.7 335.6h0M846.8 336.7h0M847.2 389.9h0M847.4 309h0M847.9 393.2h0M848 337.2h0M848.3 392.5h0M848.9 316.5h0M849.1 331.8h0M849.6 378h0M849.6 380.7h0M849.8 333.4h0M850.5 385.4h0M850.5 321.6h0M850.7 335.9h0M850.8 380.6h0M851.1 325.3h0M852.9 390.7h0M853.7 391.9h0M853.8 391.5h0M854 325.5h0M854 395.7h0M854.3 315h0M854.6 325.5h0M854.8 397.9h0M854.8 324.4h0M855.4 391.5h0M855.5 402.5h0M855.6 398.2h0M855.7 391.1h0M856.9 390.2h0M858.2 390.1h0M858.9 320.8h0M859.1 396.6h0M859.2 322h0M859.5 316.9h0M859.7 315.2h0M859.8 308.9h0M859.9 393.1h0M860.2 393h0M860.8 398h0M861 321h0M861.1 398h0M861.3 308.2h0M861.6 394.5h0M862.1 305.3h0M862.1 393.9h0M862.1 395.7h0M862.4 395.3h0M862.7 312h0M863.4 295.7h0M863.6 399.9h0M863.9 312.2h0M864.2 298.2h0M864.4 393.4h0M864.4 391.5h0M864.8 388.9h0M864.9 306h0M865.8 312.6h0M865.9 314.5h0M866.1 294h0M867.1 400.4h0M867.1 397.5h0M867.1 403.4h0M867.2 309.5h0M867.3 314.1h0M868.1 321.5h0M868.3 320.4h0M868.4 400.4h0M868.7 401.7h0M869.1 394.8h0M869.7 316.3h0M870.4 323.4h0M870.5 392.8h0M871.7 395.1h0M872 384.9h0M872.2 327.1h0M872.7 385.7h0M872.9 327.8h0M872.9 331.6h0M873.1 390.4h0M873.3 328.8h0M873.6 392.6h0M874.2 385.9h0M874.3 391h0M874.5 383.4h0M874.7 383.9h0M874.8 330.2h0M875.1 327.6h0M875.3 333.5h0M875.5 327.1h0M875.6 387.7h0M875.7 327.5h0M876.2 327.4h0M877 381.6h0M877 380.5h0M877 330.6h0M877.2 336.2h0M877.7 335.5h0M878.2 381h0M878.3 382.2h0M878.8 378.6h0M879.3 333.3h0M879.4 378.2h0M879.5 377.9h0M879.8 330.2h0M879.9 377.8h0M880.5 327.2h0M881.2 332.1h0M881.2 377.1h0M881.2 332.3h0M881.3 327h0M882.9 372.5h0M883.6 371.6h0M883.7 334.1h0M883.7 370.4h0M883.8 332.3h0M884.2 333h0M884.5 371.2h0M885.3 371.8h0M885.4 371.4h0M886.1 329h0M886.6 329.9h0M886.6 331.8h0M886.7 377.7h0M886.9 377.9h0M887.4 379.4h0M887.7 378.2h0M888 377.4h0M888.2 376.9h0M889.5 376.4h0M889.9 378.9h0M890.4 327.8h0M890.6 374.1h0M891 329.5h0M891 329.5h0M891 330h0M891.2 374.8h0M891.7 374.2h0M892.3 327.8h0M892.6 328.1h0M893.3 320.7h0M893.6 373.1h0M894.1 327.3h0M894.1 321.1h0M894.2 371.6h0M894.3 374.9h0M894.7 376.2h0M894.8 324.4h0M895.1 327.1h0M895.3 373.1h0M895.3 326.4h0M896.3 381.2h0M896.6 378h0M897.5 382.4h0M897.5 329.1h0M897.8 335.6h0M898.5 330.7h0M898.6 334.7h0M899 333.5h0M899.1 381.8h0M899.1 384h0M899.3 382.3h0M899.4 335h0M899.4 381.4h0M899.8 334.4h0M899.9 336.8h0M900.1 384.7h0M900.6 339.3h0M901.9 341.3h0M902.6 341.1h0M903 341.1h0M903.1 380.2h0M903.5 342.4h0M903.7 383.3h0M903.9 342.2h0M904 339.1h0M904.1 385.7h0M904.3 382.1h0M904.4 382.4h0M904.5 383.4h0M904.7 340.9h0M905 340.1h0M906 342.3h0M906.9 383.9h0M907.2 339.4h0M907.3 338h0M907.3 382.5h0M907.9 382.5h0M908.1 337h0M908.8 339.6h0M909 339.9h0M909.8 380.9h0M910.7 344h0M911.1 376.2h0M911.2 376.8h0M911.7 343.6h0M911.7 342.3h0M912 377h0M912.2 375.3h0M912.2 339.8h0M912.6 340.3h0M914.7 332.3h0M914.9 334.3h0M915.4 336h0M915.8 379h0M916.5 380.1h0M916.6 380.3h0M916.8 340.1h0M917 338.9h0M917.2 376.8h0M918.9 378.3h0M919.2 380.1h0M920.2 377.8h0M920.6 344.6h0M921 380h0M921.1 344.6h0M921.2 378.6h0M921.5 378.9h0M922 344.4h0M922.2 346.7h0M922.3 343.7h0M923.5 380.5h0M924.2 376.8h0M925 380.5h0M925.4 338h0M925.7 380.8h0M925.9 380.4h0M926.2 337.2h0M926.5 333.4h0M926.6 332.9h0M927.1 335.8h0M928 377.9h0M928.3 379.2h0M928.6 378.8h0M929.3 330.1h0M929.4 380.1h0M930 380.2h0M930.3 329.6h0M930.4 329.7h0M930.8 329.1h0M931.1 380.1h0M931.4 379.9h0M932.1 322.3h0M932.4 382.8h0M933.1 320.3h0M933.3 327.3h0M933.3 376.6h0M934.1 374.9h0M934.2 392.6h0M934.8 324.4h0M934.9 326.3h0M935.5 325.5h0M935.6 386.2h0M936.6 395.5h0M936.9 324.3h0M937.7 398.4h0M937.9 389.6h0M937.9 327.1h0M938.3 399h0M938.4 399.6h0M939.1 407.5h0M939.6 408.3h0M940 388.5h0M940.1 399.8h0M940.9 392.7h0M941.6 387.8h0M942.1 334.2h0M942.2 387.5h0M942.3 398.4h0M942.3 334.7h0M942.6 334h0M943.5 417.9h0M943.5 399.6h0M944 328.6h0M944.1 395.6h0M944.3 326.9h0M944.7 415.2h0M944.8 388.4h0M945.3 325.3h0M945.8 323.9h0M946.1 327.5h0M946.2 325.5h0M946.3 390.5h0M946.5 392.5h0M946.9 391.2h0M947.1 390.2h0M947.2 327h0M948 400.3h0M948 392.4h0M948.1 327.5h0M948.1 327.4h0M949 324.5h0M949.3 391.5h0M949.9 388.8h0M950.1 323.4h0M950.5 400.9h0M950.5 325h0M950.9 324.3h0M951.1 389.5h0M951.3 397.2h0M951.7 392.1h0M952.1 332.1h0M952.3 333.6h0M952.4 395.3h0M952.7 333.2h0M953.6 394.5h0M953.9 399.9h0M954.2 398.9h0M954.3 337.8h0M954.3 394.3h0M954.7 396.2h0M955.1 395.3h0M955.4 336.7h0M955.5 406.4h0M956.6 405h0M956.8 399.8h0M957.3 399.5h0M957.3 398.7h0M957.3 341.5h0M957.7 345.8h0M958.1 341.4h0M958.3 341.6h0M959.3 345.2h0M959.5 390.4h0M959.6 393.5h0M960 350.4h0M960.3 400.5h0M960.7 390.8h0M961.2 391.8h0M961.4 394.4h0M961.8 346.6h0M962.6 347.6h0M965.7 389.7h0M966 340.4h0M966 394.8h0M966.4 392.4h0M966.9 391.4h0M967 339h0M967 390.6h0M967.8 331.2h0M967.8 342.8h0M968 391.2h0M968.1 330.3h0M969 333.3h0M969.2 345.6h0M970.1 387.2h0M970.3 387.4h0M970.3 389.8h0M971 323.4h0M971.1 321.7h0M971.3 328.5h0M971.8 333.5h0M972.4 387.7h0M972.7 324.4h0M973.2 392.7h0M973.2 392h0M973.6 392h0M973.8 342.5h0M973.9 347.4h0M974.1 343h0M974.4 394.4h0M974.6 348h0M974.8 396.7h0M974.8 394.7h0M975 343.7h0M975.3 329.8h0M975.8 396h0M977 395.2h0M977.3 344.4h0M977.4 350h0M977.6 391.6h0M977.6 389h0M978 347.3h0M978 347.7h0M978.8 397.7h0M979 397h0M979.5 398.2h0M979.5 396.9h0M979.7 341.5h0M979.7 340.9h0M979.9 400.5h0M981.5 334h0M981.5 339.8h0M981.7 339.5h0M982.4 333.5h0M982.7 399.6h0M982.7 334.4h0M982.8 393.3h0M982.8 336.5h0M982.9 396.7h0M983.1 328.6h0M983.6 394.3h0M984 329.1h0M984.3 333.7h0M984.3 386.3h0M984.7 389.8h0M985 387.6h0M985.1 335.3h0M985.7 334.4h0M986.4 326.2h0M986.6 335.4h0M986.8 388h0M987.1 384.2h0M987.5 329.3h0M987.6 333h0M987.9 380.9h0M987.9 333.9h0M988.6 381h0M988.9 383.6h0M989 380.7h0M989.3 328.3h0M989.5 327.3h0M989.5 384h0M990 387.3h0M990.1 386.6h0M990.3 324.7h0M990.8 323.8h0M990.9 386.4h0M991.4 328h0M991.7 326.5h0M991.9 379.9h0M991.9 388.6h0M992.1 327.6h0M992.2 318.7h0M992.7 387h0M992.9 321.6h0M993 320.3h0M993.1 321.5h0M993.3 378.4h0M993.9 327.3h0M994 379.7h0M995.2 374.7h0M995.4 374.5h0M996.9 328.3h0M997 327h0M997.2 376.8h0M997.6 329h0M997.8 376.7h0M998.8 379.2h0M999.1 380h0M999.6 327h0M1000 325.7h0M1000 379.7h0M1000.3 380.7h0M1000.3 327h0M1000.5 385.3h0M1000.9 383.3h0M1001 324.4h0M1001.4 381.8h0M1002.7 324.6h0M1003.2 373.1h0M1003.3 373h0M1003.4 326h0M1003.8 327.3h0M1004 325.6h0M1005 328.6h0M1005.3 327.2h0M1005.4 326.6h0M1005.9 328.1h0M1005.9 327.5h0M1006.1 382.6h0M1006.2 383.4h0M1006.7 328.5h0M1008.5 335.5h0M1008.8 374h0M1008.8 334.2h0M1009.2 334.2h0M1009.6 373.6h0M1010.2 332.8h0M1010.3 377.3h0M1010.7 334h0M1010.7 378.2h0M1011.4 331.5h0M1012.4 373.6h0M1012.4 329.9h0M1012.7 340.3h0M1012.8 372.5h0M1012.9 337.5h0M1013.3 374.7h0M1013.6 375.8h0M1013.6 374.3h0M1014.3 374h0M1014.9 375.2h0M1014.9 342.3h0M1015.1 342.5h0M1015.2 342.8h0M1015.7 339.5h0M1016.2 338.4h0M1017 378.3h0M1017.3 379.1h0M1017.9 375.9h0M1018 335.1h0M1018.5 337h0M1018.8 377.4h0M1019 378h0M1019.2 340.4h0M1019.2 382.6h0M1019.8 337.9h0M1020.1 335.5h0M1020.2 338h0M1020.5 378.6h0M1020.7 378h0M1021 378.2h0M1021.3 338.3h0M1021.5 337.9h0M1022.2 339.6h0M1022.3 341.3h0M1022.4 340.9h0M1022.7 380.2h0M1023.4 381.8h0M1023.8 381.1h0M1024.5 383.4h0M1024.5 347.4h0M1024.7 380.1h0M1024.9 344.2h0M1025 344.5h0M1025 384h0M1025.6 348.6h0M1026.4 386.1h0M1027.2 345.7h0M1027.2 387.3h0M1027.6 384.4h0M1027.7 387.1h0M1027.9 344.8h0M1028.2 387.1h0M1028.5 345.1h0M1028.5 348.3h0M1029.3 349.3h0M1029.7 348.1h0M1030.4 384.9h0M1030.7 348.4h0M1030.8 393.6h0M1031.1 345.4h0M1031.2 344.5h0M1031.5 387.6h0M1031.8 342.4h0M1031.9 344.8h0M1032.5 391.3h0M1032.5 345.8h0M1032.7 386.5h0M1032.8 386.9h0M1033.4 400.3h0M1033.5 342.4h0M1033.6 386.5h0M1033.8 393.7h0M1034.3 342.9h0M1034.5 389.3h0M1034.7 344.2h0M1035.4 344.9h0M1035.4 386.8h0M1035.5 398.5h0M1035.6 342.9h0M1035.7 342h0M1035.7 392.5h0M1036.5 386.8h0M1036.6 386.3h0M1037 345.2h0M1037.1 345.6h0M1037.2 343.7h0M1038.1 382.6h0M1038.7 383.9h0M1038.7 338.5h0M1038.8 343.5h0M1039.1 382.6h0M1039.2 341.8h0M1039.4 344h0M1039.7 387.4h0M1039.7 386.2h0M1040.1 383.7h0M1040.4 340.2h0M1041.3 383.2h0M1041.6 345.6h0M1042.5 381.9h0M1043.1 343.6h0M1043.3 344.5h0M1043.3 342.1h0M1043.7 381.7h0M1044.3 383.7h0M1044.4 382.8h0M1045.7 379h0M1045.8 340.9h0M1045.8 340.4h0M1045.9 384.9h0M1045.9 341.5h0M1046.2 382.4h0M1046.9 336.8h0M1047 340.9h0M1047 377.8h0M1047.1 342.4h0M1047.3 380.7h0M1047.4 382.8h0M1049.5 379.8h0M1049.5 380h0M1049.9 379.4h0M1050.6 341.2h0M1051 382.4h0M1051.5 346.7h0M1051.6 341.7h0M1051.8 383.7h0M1052.4 384.4h0M1053 341.1h0M1053 347.5h0M1053.2 382.4h0M1053.4 350.9h0M1053.6 383.3h0M1053.9 346.7h0M1054.4 382.7h0M1054.9 383.4h0M1054.9 383.7h0M1055.6 351h0M1056.5 355h0M1056.9 389.6h0M1057.6 352.2h0M1057.6 386.5h0M1057.6 352.2h0M1057.9 389.8h0M1058.5 351.4h0M1059 354.5h0M1059.2 352.6h0M1059.5 351.7h0M1060.5 385.9h0M1060.7 389h0M1061 386.7h0M1061 347.1h0M1061.3 349.8h0M1061.6 348.7h0M1061.7 391.4h0M1062.1 390.2h0M1062.4 351h0M1062.5 342.1h0M1062.6 350.4h0M1063 384.5h0M1064.4 332.5h0M1064.5 342.2h0M1064.9 384.2h0M1065.7 386.7h0M1066 385.4h0M1066 386.8h0M1066.6 345.2h0M1067.4 385.4h0M1067.5 333.4h0M1068.5 345.1h0M1068.5 384.5h0M1068.7 385.6h0M1068.7 381.9h0M1068.9 350.6h0M1070.2 385.9h0M1070.7 328h0M1071 387.7h0M1071.5 335.3h0M1071.5 387.1h0M1071.6 385h0M1071.8 386.1h0M1072.1 333.4h0M1072.3 389h0M1073.1 387.1h0M1074 391.6h0M1074.2 387.3h0M1074.3 389h0M1075.1 389.3h0M1075.2 387.3h0M1075.2 340.1h0M1075.4 346.2h0M1075.5 349.1h0M1075.5 383.8h0M1075.6 386.5h0M1075.8 342.8h0M1076.2 386.1h0M1076.7 343.2h0M1077.4 339.7h0M1077.4 346.1h0M1077.4 345.7h0M1077.7 384h0M1078.2 388.5h0M1078.3 389.2h0M1078.3 343.3h0M1078.5 389.3h0M1078.7 340.1h0M1079.4 391h0M1079.7 387.1h0M1080 389.2h0M1081 391.9h0M1081.3 387.6h0M1081.3 388.2h0M1081.6 349.4h0M1081.8 347h0M1082.1 349.4h0M1082.2 350.1h0M1083.2 346.5h0M1083.3 382.1h0M1083.9 351.2h0M1084.2 381.9h0M1084.7 385.2h0M1085.6 352.9h0M1085.6 353h0M1085.9 384.8h0M1086 384.8h0M1086.1 353h0M1086.6 384.8h0M1088.2 355.8h0M1088.5 356.3h0M1088.5 355.5h0M1089.5 381h0M1089.7 380.8h0M1089.9 381.7h0M1090 355.9h0M1090.1 355.6h0M1090.3 356.5h0M1090.5 355.3h0M1091.3 381.1h0M1091.7 381.7h0M1092.5 385.8h0M1092.8 357.4h0M1093 384.5h0M1093.2 391.7h0M1093.7 356.1h0M1093.7 357.1h0M1094.1 357.1h0M1094.1 384.1h0M1094.5 356h0M1094.7 357.2h0M1094.7 386.6h0M1095.8 357.5h0M1095.9 357.5h0M1096.4 382h0M1096.7 355.8h0M1097.4 393.8h0M1097.7 383.3h0M1097.7 387.3h0M1098.3 352.2h0M1098.8 384.4h0M1098.9 352.4h0M1099.1 383.9h0M1099.8 390.1h0M1099.9 387.3h0M1100.2 391.9h0M1100.6 389.8h0M1100.8 355.7h0M1101.3 354h0M1101.5 387.2h0M1101.9 355.4h0M1102.4 390.6h0M1102.4 353.5h0M1102.7 390.3h0M1102.7 352.4h0M1103.4 390.8h0M1103.7 351.3h0M1103.7 353.7h0M1104.1 394.8h0M1104.1 355.9h0M1104.2 393.8h0M1104.5 352.5h0M1104.8 391.1h0M1105.5 356.5h0M1106.1 356.3h0M1106.4 392.5h0M1106.4 392.5h0M1106.5 391.8h0M1107.1 392.5h0M1107.2 393.8h0M1107.3 393h0M1108.1 349.3h0M1108.8 349.1h0M1109 346.1h0M1109.9 341.1h0M1110.4 399.8h0M1110.5 400.5h0M1110.5 400.7h0M1110.9 333h0M1111.1 335.8h0M1111.6 338h0M1112.1 415.6h0M1112.6 410.2h0M1112.8 416h0M1113.1 326.1h0M1113.2 418.7h0M1114.4 410.1h0M1114.7 323.4h0M1114.8 324.5h0M1115.2 324.6h0M1115.6 315.5h0M1116.1 399.1h0M1116.9 408.7h0M1117.1 337.5h0M1117.2 396.3h0M1117.3 398.5h0M1117.6 334.5h0M1117.6 335.6h0M1118.1 400.4h0M1118.7 403.8h0M1119.2 400.8h0M1119.3 339.1h0M1119.4 398.4h0M1119.7 339.1h0M1119.9 346.1h0M1120.7 394.3h0M1122 338.3h0M1122.6 340.6h0M1123 391.3h0M1123.3 341.1h0M1123.5 393.3h0M1123.5 392.1h0M1124.6 393.4h0M1125.2 393.8h0M1125.5 393.2h0M1125.5 392.1h0M1125.9 339.5h0M1126.1 395.1h0M1126.3 339.3h0M1126.5 336.6h0M1126.7 392.8h0M1126.8 391.7h0M1126.8 393.8h0M1128.1 389.4h0M1128.5 390.4h0M1128.5 391.5h0M1128.7 344.2h0M1129 345.4h0M1129.1 344.7h0M1129.8 393.7h0M1130.2 394.5h0M1130.5 393.5h0M1130.7 343.1h0M1130.8 390.1h0M1131 342.6h0M1131 392.9h0M1131.2 388.9h0M1131.5 340.8h0M1132.3 390h0M1132.4 390.1h0M1132.7 392.8h0M1133.2 394.5h0M1133.8 393.7h0M1134 392.8h0M1134.7 336.8h0M1135.4 391.1h0M1135.4 336.1h0M1135.5 340.3h0M1135.8 395.5h0M1136.5 393.5h0M1136.6 392.7h0M1136.9 391.4h0M1137 329.1h0M1137.8 332.9h0M1137.9 332.1h0M1138.7 331.8h0M1138.7 393.4h0M1138.9 393.7h0M1139.1 391.4h0M1139.6 394h0M1140.9 318.8h0M1141 393.2h0M1141.1 394.9h0M1141.7 395.4h0M1141.8 322.3h0M1142.2 319.3h0M1142.2 395.3h0M1142.7 395.4h0M1142.9 322h0M1143.3 391.4h0M1143.4 320.8h0M1143.9 311.4h0M1144.2 323.9h0M1145.1 398.7h0M1145.4 392.4h0M1146 393.9h0M1146.1 396.3h0M1146.1 399.6h0M1146.5 311.5h0M1146.7 317.4h0M1146.8 392.3h0M1146.9 306.6h0M1147.3 310.5h0M1147.8 310.7h0M1148.7 311h0M1148.9 298h0M1148.9 395.7h0M1148.9 301.5h0M1149.5 401.9h0M1149.8 394.2h0M1149.8 315.2h0M1150.2 290.4h0M1150.3 408.7h0M1150.5 313.3h0M1150.6 311h0M1151.6 298.9h0M1152.6 395.5h0M1153.3 312.2h0M1153.4 317.8h0M1153.5 399.7h0M1153.5 323.8h0M1153.7 396.8h0M1153.8 392.9h0M1154.6 395.1h0M1154.7 316.6h0M1155.1 396.2h0M1155.3 396.6h0M1155.6 322.6h0M1155.8 315.6h0M1155.8 388.3h0M1156.6 301.1h0M1157.5 387.7h0M1157.8 387.9h0M1157.8 396.8h0M1158.2 327.1h0M1158.3 322.5h0M1159.3 391.2h0M1160 392.5h0M1160.2 391.3h0M1160.6 394.9h0M1161 389.7h0M1161 394.1h0M1161.5 336.6h0M1161.6 333h0M1161.7 335.8h0M1162 335h0M1162.1 400.6h0M1162.8 397.9h0M1163 394.9h0M1163.2 340.1h0M1163.3 398.8h0M1163.7 341.3h0M1163.8 333.2h0M1164.1 393.2h0M1165.3 330.7h0M1166.8 330.9h0M1167.1 397.2h0M1167.5 398.7h0M1167.6 330.1h0M1167.9 326.2h0M1168 397.4h0M1168.1 329.1h0M1168.1 329.7h0M1168.5 399.8h0M1168.7 397h0M1169 397.8h0M1169.6 318.1h0M1170.3 400.6h0M1171.5 404.5h0M1171.8 403.7h0M1172.2 323.6h0M1172.4 399.8h0M1172.7 401.7h0M1173.1 327.7h0M1173.2 401.8h0M1174.1 415.2h0M1174.2 412.2h0M1174.2 331.7h0M1174.5 411.9h0M1175.1 408.6h0M1175.2 410h0M1175.5 314.7h0M1175.6 407.7h0M1176.1 318.3h0M1176.1 309.1h0M1176.2 325h0M1176.5 403.4h0M1176.8 406h0M1177.1 298.2h0M1177.2 308.1h0M1177.5 312.5h0M1178.8 392.2h0M1178.8 394.7h0M1179.2 390.6h0M1179.3 404h0M1179.3 395h0M1180 324.5h0M1180.5 398.5h0M1180.6 312.7h0M1180.6 325.5h0M1181.1 397h0M1181.3 324.3h0M1181.4 410.4h0M1182 321.2h0M1182 401.2h0M1182.4 315.8h0M1183.2 408.1h0M1183.3 319.3h0M1183.4 398.8h0M1183.6 403.4h0M1183.7 311.7h0M1184.2 314.1h0M1184.5 308.6h0M1184.8 303.3h0M1185.1 405.4h0M1185.8 327.6h0M1186.1 402.5h0M1186.1 395.6h0M1186.2 396.2h0M1186.8 327.9h0M1189.5 324.8h0M1189.9 392.2h0M1189.9 394.8h0M1190 321.8h0M1190.2 315.1h0M1190.2 393.3h0M1191.8 327.9h0M1192 396.8h0M1192 323.8h0M1192.5 326.9h0M1192.7 403.7h0M1192.9 398.1h0M1193.6 400.3h0M1194.7 403.5h0M1195.2 336.3h0M1195.2 398.9h0M1195.4 405.6h0M1195.8 330.5h0M1196 396.8h0M1196.1 333.5h0M1196.2 398.5h0M1196.4 335.3h0M1196.9 331.5h0M1197.2 334h0M1197.2 396.3h0M1197.3 399.9h0M1197.8 330.9h0M1198.1 337.2h0M1198.5 398.9h0M1198.7 400.9h0M1198.8 335.7h0M1200.6 342.4h0M1200.8 341.5h0M1200.9 403.3h0M1200.9 405.7h0M1201.2 342.5h0M1201.2 402.2h0M1203.1 418.2h0M1203.7 402h0M1203.9 343.1h0M1204 336.4h0M1204 401.6h0M1204.2 334.5h0M1204.5 338.5h0M1204.6 401.4h0M1205 344h0M1205.1 408.8h0M1205.3 336.9h0M1205.8 400.9h0M1205.9 340.7h0M1206.1 403.9h0M1206.2 337.5h0M1206.4 341.7h0M1206.6 399.4h0M1206.9 418.8h0M1206.9 397.7h0M1207.5 339h0M1207.6 341.6h0M1207.7 339.8h0M1207.7 424.2h0M1208.5 338.9h0M1209 425.8h0M1209.1 328.7h0M1209.5 416.2h0M1209.8 426.3h0M1209.9 338.9h0M1210.4 335.1h0M1210.5 409.6h0M1210.6 340.9h0M1211.3 406h0M1211.9 350.9h0M1212.1 352h0M1212.8 351.4h0M1213.5 352.5h0M1213.5 411.2h0M1213.7 396.1h0M1214.1 393.1h0M1214.5 392.4h0M1215.3 350.2h0M1215.7 349.1h0M1215.8 405.7h0M1215.9 349.2h0M1216 402.8h0M1216.2 347.1h0M1217 387.1h0M1217.3 350.2h0M1217.5 343.5h0M1217.5 386.5h0M1217.9 387.5h0M1218.3 349.4h0M1218.9 387.8h0M1218.9 398.9h0M1219.4 397.3h0M1219.5 395.4h0M1220.4 393.9h0M1220.6 349.7h0M1220.7 392.5h0M1220.7 390.5h0M1221.1 391.1h0M1221.2 350.3h0M1222.3 395.8h0M1222.3 348.1h0M1222.8 345.9h0M1223.2 398.3h0M1223.2 397.7h0M1224.2 400.7h0M1224.8 396.6h0M1224.9 404.5h0M1224.9 351.8h0M1225.5 396.5h0M1226.2 403.5h0M1226.3 401.4h0M1226.4 398.1h0M1226.8 347.5h0M1227 346.4h0M1227.1 399.2h0M1227.5 399.4h0M1227.9 402.2h0M1228 346.4h0M1228.2 402.9h0M1228.3 340.6h0M1228.6 347.5h0M1228.7 406.2h0M1228.7 401.2h0M1229.6 345.9h0M1230.8 399h0M1230.8 399.2h0M1231.3 401.2h0M1231.6 345.1h0M1231.8 345.4h0M1232.3 347h0M1232.4 342.8h0M1233.1 405.8h0M1233.7 421.5h0M1233.8 409.4h0M1234.8 349.6h0M1236.5 403.8h0M1236.6 403.4h0M1237.3 337.2h0M1237.7 403.4h0M1237.8 337.4h0M1237.9 409.9h0M1238.4 337h0M1238.7 408.7h0M1238.8 406.4h0M1239.1 410.6h0M1239.3 408.2h0M1239.4 409.1h0M1239.7 409.3h0M1239.8 345h0M1240 340.2h0M1240.3 348.4h0M1240.5 345.6h0M1240.9 403.8h0M1241.1 348.5h0M1241.3 404.9h0M1242.5 406.5h0M1242.7 349.8h0M1243.7 409.5h0M1243.9 408.9h0M1244.3 357.3h0M1244.4 405.3h0M1245.1 356.5h0M1245.2 356.7h0M1246.1 357.1h0M1246.4 398.7h0M1246.4 400.5h0M1246.5 355.1h0M1246.7 398.4h0M1247.2 354.2h0M1247.4 399h0M1247.9 401.4h0M1248.8 403.5h0M1249.5 404h0M1249.9 361.6h0M1249.9 361.6h0M1250.3 402.2h0M1250.5 361.4h0M1251.8 398.8h0M1252 399.4h0M1252.7 361.1h0M1253 360.2h0M1253.2 400.3h0M1253.4 397.2h0M1254.1 361h0M1254.1 360.3h0M1254.4 362.5h0M1255.3 360.2h0M1255.6 361.6h0M1255.7 362.9h0M1255.9 398h0M1256.2 399.7h0M1256.5 397.9h0M1257.3 356.5h0M1258 355.6h0M1258.3 359.1h0M1258.5 395.2h0M1258.8 395.2h0M1258.9 392.4h0M1259.1 354.9h0M1260.3 355h0M1260.4 357.2h0M1260.7 356.4h0M1261.1 355.4h0M1261.5 393.3h0M1261.6 400h0M1262 357.2h0M1262.2 407.2h0M1262.3 357.5h0M1262.4 395h0M1262.9 402.9h0M1263.4 405.8h0M1263.9 399h0M1264.3 355.3h0M1264.5 393.2h0M1264.8 392.3h0M1265 353.4h0M1265.3 353.5h0M1265.5 395.5h0M1266 391.8h0M1266.1 392.2h0M1267.4 356.3h0M1267.5 354.1h0M1267.6 354.7h0M1268.1 390.8h0M1268.2 388.6h0M1268.2 390.9h0M1268.7 356.5h0M1268.7 353.7h0M1269.7 385.6h0M1270.3 392.6h0M1270.5 357.2h0M1270.5 387.3h0M1270.8 358.8h0M1270.8 358h0M1271.2 385h0M1272 354.7h0M1272.4 385.5h0M1272.7 356.8h0M1272.8 385.5h0M1273.2 355.4h0M1273.5 386.2h0M1274.1 390.4h0M1274.5 355.3h0M1274.7 355.3h0M1274.9 354.7h0M1276.2 383.4h0M1276.3 383.9h0M1276.4 381.3h0M1277 357.6h0M1277.4 356.1h0M1277.6 357.9h0M1277.7 381.3h0M1278.2 356.9h0M1278.2 381.4h0M1278.2 383.5h0M1278.9 381.1h0M1279.7 357.4h0M1279.8 380.6h0M1280.4 381.4h0M1280.7 356.3h0M1281.5 355.7h0M1281.5 356.4h0M1282.5 356.8h0M1282.6 357.2h0M1282.7 382.1h0M1283 356.8h0M1283.2 383.9h0M1283.2 381.9h0M1283.9 385.8h0M1285.5 356h0M1285.6 388h0M1285.8 389.4h0M1286.1 354h0M1286.1 354.6h0M1287.2 390.5h0M1287.4 352.6h0M1287.6 390.8h0M1288.5 391.2h0M1288.5 388.7h0M1289.1 391.3h0M1289.9 354h0M1290.1 353.6h0M1291.1 352.5h0M1291.2 388.2h0M1291.2 353.3h0M1291.4 389.3h0M1291.4 353.4h0M1291.5 389h0M1291.9 388.9h0M1293.5 348.4h0M1293.5 388.9h0M1294 391.5h0M1294.3 391.2h0M1294.9 390.5h0M1295.6 389.3h0M1295.8 389.7h0M1296.2 347.8h0M1296.5 347.7h0M1296.7 347.5h0M1296.8 347.9h0M1298 388.3h0M1298.6 387.4h0M1298.6 349.5h0M1299.3 352.8h0M1299.7 386.3h0M1300.1 356.8h0M1300.2 389.6h0M1300.8 385.3h0M1301.1 390.1h0M1301.9 384.8h0M1302 357.1h0M1302.5 359.2h0M1302.5 358.5h0M1302.5 386.1h0M1305.6 383.9h0M1305.7 383.7h0M1305.9 385.8h0M1306.3 365.2h0M1306.4 364.8h0M1307.2 383.5h0M1307.4 363.8h0M1307.5 363.9h0M1307.6 364.8h0M1308.8 363.2h0M1308.9 384h0M1308.9 384.1h0M1309.6 361.7h0M1309.9 360.1h0M1310.2 384.5h0M1310.7 385h0M1310.8 383.5h0M1312.5 357.3h0M1312.5 357.9h0M1312.6 356.3h0M1313.3 388.4h0M1313.5 356.6h0M1313.7 388.3h0M1314 388.7h0M1314.1 356.6h0M1314.7 356.5h0M1314.9 358h0M1315.4 387.3h0M1315.6 356.9h0M1315.6 387.4h0M1315.6 356.8h0M1315.7 387.7h0M1316.3 387.2h0M1318.3 348.2h0M1318.9 352.3h0M1319 348h0M1319.1 385.9h0M1319.2 388.5h0M1319.4 387.9h0M1319.8 388.2h0M1320.3 386.1h0M1320.9 341.3h0M1321.6 344.7h0M1321.7 351.7h0M1322.7 387.6h0M1323.2 388.6h0M1323.2 350.2h0M1323.6 388.7h0M1323.8 355.4h0M1324.3 355.7h0M1324.3 353.2h0M1324.5 387h0M1324.9 385h0M1325.7 356h0M1326.6 356.5h0M1326.7 384.6h0M1326.8 385.6h0M1326.9 354.5h0M1326.9 356.1h0M1327 386.5h0M1327.7 384.7h0M1328.5 355h0M1328.7 384h0M1328.8 386.6h0M1329 383.8h0M1330 355.6h0M1330.1 356h0M1330.7 357.2h0M1330.8 387h0M1330.9 386.4h0M1331.5 388.9h0M1331.5 354h0M1332.1 386.8h0M1332.2 357.1h0M1332.3 387.4h0M1332.7 356.1h0M1333.3 386.3h0M1334.6 361h0M1334.7 358.4h0M1337.1 362.6h0M1337.1 389.2h0M1337.3 389.2h0M1337.3 390.1h0M1337.3 363.8h0M1337.5 361.7h0M1338 365.2h0M1338.5 390.3h0M1338.8 388.5h0M1339.7 364.3h0M1339.8 365.9h0M1340.1 389.4h0M1340.2 365.3h0M1341.2 390.6h0M1341.5 389.7h0M1342.5 391.5h0M1342.7 366.4h0M1342.9 391.7h0M1343.1 388.3h0M1343.7 390.1h0M1343.7 364.2h0M1344 390.5h0M1344.6 388.7h0M1346.2 359.4h0M1346.5 358.9h0M1347.6 357.4h0M1347.7 392.4h0M1347.9 391.9h0M1348.2 391.4h0M1348.2 355.3h0M1348.9 357.4h0M1348.9 355.1h0M1349 391.7h0M1349.2 392.5h0M1349.3 357.7h0M1349.3 394.9h0M1349.6 392.3h0M1349.9 395h0M1350.4 358.3h0M1350.7 358.4h0M1351 360.1h0M1351.5 359.1h0M1351.8 397.8h0M1352.1 394.4h0M1352.6 355.1h0M1353.2 353.8h0M1353.6 351.8h0M1353.8 353.7h0M1354.1 394.1h0M1355 395.9h0M1355.3 397.6h0M1355.4 348.4h0M1355.5 353.5h0M1355.9 395.3h0M1356.3 395.6h0M1356.6 351.8h0M1356.6 397h0M1358.1 395.6h0M1358.4 356.6h0M1358.5 396.1h0M1358.5 395.2h0M1358.6 357.5h0M1359.5 396.9h0M1359.6 360.5h0M1360.5 397h0M1361.1 364.3h0M1361.2 398.8h0M1361.2 398.9h0M1361.4 362.4h0M1361.5 362h0M1362 361.7h0M1362.2 363.7h0M1362.5 398.4h0M1363.5 365.7h0M1364.1 398h0M1364.2 399.4h0M1364.3 398.7h0M1364.4 399.6h0M1365.6 399.1h0M1365.8 401.6h0M1366.1 398.7h0M1366.3 369.7h0M1366.3 366.4h0M1366.6 368.5h0M1367.2 399.3h0M1367.4 402.4h0M1368.5 402.7h0M1369 367.8h0M1369.3 401.9h0M1369.3 403.5h0M1369.8 364.5h0M1370.2 367.3h0M1370.8 363.5h0M1371.3 400.2h0M1371.4 365.6h0M1371.7 363h0M1371.8 397.6h0M1371.9 363.2h0M1372.4 364.7h0M1372.7 401.4h0M1372.8 399.8h0M1374.9 404h0M1375.9 362.4h0M1376 404.6h0M1376.3 364.5h0M1376.4 406h0M1377.5 406.3h0M1377.6 406.3h0M1377.6 405.3h0M1378.9 368.5h0M1378.9 409h0M1379.4 410h0M1380.2 406.6h0M1380.5 411.1h0M1381.3 406.8h0M1381.4 363h0M1381.4 364.6h0M1381.7 364.2h0M1381.8 411.5h0M1382.4 409.5h0M1383.2 365.1h0M1383.3 364.5h0M1384.1 369.9h0M1384.2 406.6h0M1384.3 370.3h0M1384.6 367.1h0M1384.9 370.5h0M1385.3 407.6h0M1385.5 407.7h0M1385.5 406.6h0M1385.7 407.4h0M1386 370.4h0M1386.2 370.2h0M1386.7 369.5h0M1386.8 404.9h0M1387 369h0M1387.1 404h0M1387.9 402.4h0M1388 368.3h0M1388 369.4h0M1388.3 402.8h0M1390.1 370.1h0M1390.1 369.4h0M1390.2 401.2h0M1390.4 372.6h0M1390.5 402.7h0M1390.6 402.8h0M1390.6 401.2h0M1391.8 370h0M1392.2 370.5h0M1392.5 366.3h0M1394.5 364.9h0M1394.6 410.3h0M1394.6 365.6h0M1394.7 363.8h0M1394.7 409.3h0M1394.8 410h0M1396.9 407.1h0M1397.1 405.6h0M1397.2 405.3h0M1397.8 367.8h0M1398.3 405.2h0M1398.4 405.7h0M1398.7 404h0M1399.4 408.2h0M1399.7 404h0M1399.8 363.1h0M1400.1 407.1h0M1400.3 362.4h0M1401.5 403.6h0M1401.6 404.1h0M1402.5 404.1h0M1402.6 404.8h0M1403.5 402.5h0M1403.6 361.6h0M1403.8 361.4h0M1404.2 361.2h0M1404.4 359.4h0M1404.5 406h0M1405 401.7h0M1405.1 401.2h0M1406 403.1h0M1406.4 401.6h0M1406.9 404.8h0M1407 403.4h0M1407.3 404h0M1408.1 402.9h0M1408.3 360.9h0M1408.7 360.2h0M1408.9 360.7h0M1409.3 361.7h0M1409.4 361.7h0M1411.8 404.5h0M1412.6 404.9h0M1412.8 404.5h0M1414.4 378.3h0M1414.7 378.7h0M1415.1 413.3h0M1415.7 381.5h0M1415.8 414.7h0M1416.1 413.9h0M1416.3 380.5h0M1416.4 381h0M1416.6 416.7h0M1416.9 415.7h0M1418 412.7h0M1418.2 414h0M1418.5 413.5h0M1418.9 374.3h0M1419 374.5h0M1419.5 373.1h0M1420 371.9h0M1420.4 375.6h0M1420.5 404.2h0M1420.5 371.6h0M1420.8 407h0M1421.2 369.6h0M1424.7 360.7h0M1425.2 358.9h0M1425.3 359.5h0M1427.2 389h0M1427.2 355.4h0M1427.7 353.7h0M1428 353.8h0M1428.2 388.2h0M1428.9 353h0M1428.9 386h0M1428.9 350.4h0M1429.2 384.8h0M1429.8 350.3h0M1429.8 384.8h0M1429.8 383.4h0M1430.1 352.1h0M1430.6 382.6h0M1431.7 344.4h0M1432 342h0M1433 377.6h0M1433 376.7h0M1433.3 342.3h0M1433.6 339.9h0M1434 378.2h0M1434.2 341h0M1434.6 339.5h0M1434.9 379.8h0M1434.9 380.7h0M1435 383.7h0M1435.8 382h0M1435.8 380h0M1436.1 340h0M1436.5 341.7h0M1436.7 381.3h0M1436.9 382.3h0M1436.9 340.8h0M1437 338.5h0M1437.1 339.1h0M1437.2 378.4h0M1437.2 381.9h0M1438.2 337.9h0M1438.6 383.8h0M1438.9 378.7h0M1439.3 382.7h0M1439.4 384.4h0M1439.7 338.4h0M1439.8 337.1h0M1440 338.2h0M1442.5 335h0M1442.7 335.4h0M1443.4 383.9h0M1443.4 378.2h0M1443.5 378.1h0M1444.1 334.1h0M1444.6 379h0M1444.6 383.2h0M1445 333.4h0M1445.3 333.4h0M1445.5 328.9h0M1445.6 329.5h0M1446.2 375h0M1446.5 374.9h0M1447.1 324.4h0M1447.3 376h0M1447.6 337.3h0M1447.9 333h0M1448.1 374.5h0M1448.3 375h0M1448.4 370.5h0M1448.5 328.5h0M1448.7 337.2h0M1449.1 329.9h0M1449.4 370.6h0M1449.5 330.2h0M1450 375.1h0M1450.5 374.4h0M1450.7 335.2h0M1451.5 335.2h0M1451.7 320.8h0M1451.7 371.9h0M1452.2 369.2h0M1452.4 372.2h0M1452.5 326.5h0M1453.4 370.9h0M1453.7 371.9h0M1453.8 338.8h0M1453.9 334.6h0M1454.5 370.9h0M1454.8 370.9h0M1455.1 332h0M1455.5 371.2h0M1455.8 333.9h0M1456.3 374h0M1456.4 336.3h0M1456.7 374.4h0M1457.4 332h0M1458.4 374.6h0M1458.8 336.6h0M1458.9 330.1h0M1459.2 329.8h0M1459.3 336h0M1459.6 336.4h0M1459.8 373h0M1460 373.3h0M1460.1 374.7h0M1461.3 340.9h0M1461.4 339.8h0M1461.4 377.3h0M1461.6 378.6h0M1461.6 336.7h0M1462.1 341.2h0M1462.1 377.8h0M1462.1 377.5h0M1462.2 341.2h0M1462.3 340.7h0M1462.4 372.4h0M599.7 354h0M599.7 356.5h0M599.7 359h0M599.7 361.5h0M599.7 364h0M599.7 366.5h0M599.7 369h0M599.7 371.5h0M599.7 374h0M599.7 376.5h0M157.4 413.4h0M157.4 420.3h0M157.4 434.2h0M188.5 413.4h0M188.5 420.3h0M188.5 430.7h0M188.5 436.5h0M254.4 267.2h0M254.4 282.2h0M254.4 288.7h0M282.1 280.6h0M282.1 286.3h0M279.3 299h0M279.3 311.8h0M330.6 485h0M331.3 497.7h0M317.4 486.2h0M308.2 478.1h0M279.8 475.8h0M291.3 470h0M386.5 464.2h0M339.4 291.4h0M346.3 290.5h0M362.5 292.1h0M228.5 291.4h0M197.3 308.3h0M380.3 292.8h0M397.6 292.1h0M446.1 292.1h0M465.5 455h0M557.4 455h0M568.3 456.1h0M524.4 441.1h0M458.1 289.1h0M488.1 283.6h0M501.3 282.2h0M553.3 281.3h0M578.2 284.5h0M592.5 289.1h0M624.4 278.3h0M636 282.2h0M712.2 275.9h0M712.2 282.2h0M729.5 263.2h0M729.5 280.6h0M741.5 262.1h0M741.5 284h0M776.2 293.7h0M776.2 299h0M712.2 441.1h0M733.4 446.4h0M661.4 397.2h0M767.6 421h0M758.4 415.7h0M678.7 416.9h0M649.8 413.4h0M867.4 278.3h0M867.4 286.3h0M867.4 292.1h0M849.6 307.8h0M857.7 303.2h0M940.2 409.9h0M939 418h0M940.2 427.3h0M940.4 440h0M939.2 452.7h0M949.4 414.5h0M956.3 411.1h0M970.2 306h0M970.2 317.5h0M970.2 325.6h0M1035.3 397.2h0M1035.3 404.2h0M1035.3 408.8h0M1070.7 304.8h0M1070.7 323.3h0M1070.7 326.8h0M1070.7 334.9h0M1115.2 274.8h0M1115.2 278.9h0M1115.2 307.1h0M1115.2 312.9h0M1111.6 409.9h0M1111.6 418h0M1111.6 426.1h0M992.1 401.8h0M1009.5 398.4h0M1148.5 290.5h0M1157.3 298.4h0M1157.3 304.8h0M1157.3 309.4h0M1174.6 286.3h0M1174.6 296.7h0M1174.6 303h0M1174.6 312.9h0M1184.3 302h0M1184.3 307.1h0M1187.3 312.9h0M1217.3 315.2h0M1217.3 325.6h0M1211.3 319.8h0M1210.4 413.4h0M1210.4 419.2h0M1210.4 427.3h0M1210.4 438.3h0M1230.5 426.1h0M1230.5 429.6h0M1180.8 419.2h0M1150.3 409.2h0M1158.4 410.2h0M1257.5 409.2h0M1320.6 334.2h0M1320.6 338.3h0M1320.6 342.9h0M1453.4 309.4h0M1453.4 317.5h0M1453.4 322.1h0M1289.4 394.4h0M1444.2 390.3h0M1115.5 105.1h0M1115.5 120.5h0M1115.5 123h0M1115.5 134.1h0M1115.5 174.2h0M1115.5 194.2h0M1115.5 216.4h0M1115.5 274.9h0M1115.5 279.2h0" fill="none" stroke="#1f77b4" stroke-width="5.3" stroke-linecap="round"/>
<path d="M115.5 359.9 116.5 361.5 117.6 362.1 118.6 361 119.7 362.7 120.7 364.9 121.6 363.7 121.8 365 122.8 365.7 123.9 367.3 124.9 365.4 126 363.9 127 364.5 128.1 365 129.1 365.5 130.2 366.4 131.2 366.7 132.3 366.3 133.1 364.9 133.3 366 134.4 365.5 135.4 364.5 136.5 363.1 137.5 361.2 138.6 365 139.6 366.9 140.7 364.5 141.7 364.7 142.8 365.7 143.8 364.4 144.7 363.7 144.9 363.4 145.9 362.4 147 364.7 148 365.6 149.1 360.2 150.1 357.4 150.4 358 151.2 358.1 152.2 360.3 153.3 362.3 154.3 364 155.4 366.3 156.2 364.9 156.4 367.8 157.5 364.2 158.5 364 159.6 366.9 160.6 365 161.7 362.9 162.7 361.6 163.8 363.1 164.8 365.8 165.4 362.6 165.9 363.4 166.9 363.1 168 364.8 169 367.5 170.1 370 171.1 370.5 172.2 370.8 173.2 370.7 174.3 372 174.7 371.8 175.3 371.2 176.4 367.8 177.4 368 178.5 369.6 179.5 370.3 180.6 369.5 181.6 366.9 182.7 364.9 183.7 364.3 184.8 367.6 185.8 367.9 186.2 367.2 186.9 366.6 187.9 369.2 189 369.6 190 366.5 191.1 368.9 192.1 373.1 193.2 374.5 194.2 371 195.3 362 196.3 360.8 197.4 361.5 197.8 367.2 198.4 364.7 199.5 366.8 200.5 368.3 201.6 363.4 202.6 359.8 203.7 358.2 204.7 361.4 204.7 361.8 205.8 366.1 206.8 358.4 207.9 357.4 208.9 361.7 210 367.5 211 370.9 212.1 369.6 213.1 368.3 214 371.8 214.2 366.8 215.2 366.2 216.3 370.8 217.3 381.2 218.4 374.6 219.4 368.1 220.5 371.1 221.5 370.1 222.6 366.7 223.6 370.2 224.7 371.6 225.5 367.2 225.7 369.9 226.8 369.9 227.8 370.7 228.9 375 229.9 375.6 231 373.1 232 372 232.4 371.8 233.1 369.1 234.1 363.1 235.2 365.5 236.2 371.4 237.3 363.2 238.3 360.1 239.4 363.9 240.4 363.8 241.5 364 241.7 364.9 242.5 371.5 243.6 372 244.6 367 245.7 373.1 246.7 376.9 247.8 375 248.6 376.4 248.8 373.1 249.9 371.3 250.9 375.7 252 377.2 253 375.4 254.1 377.7 255.1 379.7 256.2 378.6 257.2 377.2 258.3 375.6 259.3 381.2 260.2 384.5 260.4 386.8 261.4 391.9 262.5 388.2 263.5 382.9 264.6 384.4 265.6 383.8 266.7 381.2 267.7 383.8 268.8 385.9 269.8 385.9 270.9 389.5 271.7 383.4 271.9 395 273 390.4 274 389.5 275.1 393.4 276.1 393.7 277.2 394.8 277.5 397.2 278.2 399.5 279.3 395.7 280.3 386.5 281.4 386.1 282.4 384.5 283.5 380 284.5 379.3 285.6 381.1 285.6 380.2 286.6 381.1 287.7 380.4 288.7 378 289.8 379 290.8 381.3 291.9 385.8 292.9 385.9 294 383.3 294.8 381.1 295 377.7 296.1 374.9 297.1 375.7 298.2 382 299.2 389.2 300.3 391.1 301.3 392.5 302.4 393.4 303.4 392.9 304.5 391.9 305.5 390 306.4 390.3 306.6 392 307.6 394.6 308.7 389.2 309.7 386 310.8 385.7 311.8 384.8 312.9 384.3 313.3 385.7 313.9 388.4 315 387.8 316 383.1 317.1 388.8 318.1 393.6 319.2 395.7 320.2 395.1 321.3 393.6 322.3 393.7 322.5 399.5 323.4 395 324.4 398.4 325.5 401.6 326.5 405 327.6 409.2 328.6 409.1 329.5 401.8 329.7 405.6 330.7 394.9 331.8 389.9 332.8 394.2 333.9 394.6 334.9 393.2 336 387.7 337 383.4 338.1 380.2 338.7 378.7 339.1 384.8 340.2 390.2 341.2 389.1 342.3 389.8 343.3 390.3 343.3 391.2 344.4 389 345.4 387.6 346.5 387.3 347.5 381.4 348.6 376 349.6 377.5 350.7 381.9 351.7 388.3 352.6 378.7 352.8 381.7 353.8 378.4 354.9 381.2 355.9 378.5 357 374.1 358 375.9 359.1 376.8 360.1 376.7 361.2 374.3 362.2 374.8 363.3 385.7 364.1 378.7 364.3 385.5 365.4 377.9 366.4 373.1 367.5 371.4 368.5 374.9 369.6 372.7 370.6 369.3 371 371.8 371.7 370.5 372.7 372.4 373.8 375 374.8 375.6 375.9 373.9 376.9 367.2 378 366.6 379 369 380.1 366.8 380.3 367.2 381.1 367.3 382.2 369.9 383.2 370.4 384.3 370.8 385.3 373.2 386.4 372.1 387.2 374.1 387.4 367.9 388.5 372.3 389.5 373.3 390.6 366.6 391.6 369 392.7 374.1 393.7 370.5 394.8 369.3 395.8 370.8 396.4 367.2 396.9 366.9 397.9 367.2 399 377 400 382.7 401.1 383.4 401.1 385.7 402.1 380.9 403.2 379.4 404.2 383.5 405.3 378.7 406.3 372.9 407.4 378 408.4 375.6 409.5 366.4 410.3 369.5 410.5 365.7 411.6 367.2 412.6 368.1 413.7 366.8 414.7 364.6 415.8 366.6 416.8 370.3 417.9 376.3 418.9 379.7 419.5 374.1 420 380.4 421 373.9 422.1 372.5 423.1 375 424.2 368.1 425.2 365.3 426.3 371.6 427.3 371.4 428.4 369.3 429.4 373.8 430.5 373 431.5 366.5 432.6 366.9 433.4 367.2 433.6 367.8 434.7 366.6 435.7 367.8 436.8 370.4 437.8 370.3 438.9 369.1 439.9 366 441 367.6 442 370.2 443.1 371.1 444.1 371.5 445.2 371.5 446.2 371.6 447.3 372.9 448.3 376.6 449.4 376.4 449.6 374.1 450.4 373.6 451.5 377.8 452.5 378.4 453.6 373.9 454.6 373.4 455.7 373.2 456.7 370.5 456.9 369.5 457.8 371.2 458.8 373.6 459.9 370.7 460.9 369.1 462 370.5 463 375.6 464.1 380.8 465.1 372.3 466.2 372.9 467.2 383.4 467.3 381.1 468.3 379 469.3 374.4 470.4 376.4 471.4 373.3 472.5 367.2 473.5 367.8 474.6 368 475.6 367.5 476.7 367.2 477.7 360.3 477.7 366.4 478.8 363.8 479.8 363.6 480.9 365.6 481.9 365.8 483 365.9 484 366.3 484.7 369.5 485.1 367.6 486.1 368.1 487.2 366.3 488.2 363.8 489.3 361.4 489.3 360.6 490.3 362.1 491.4 363.9 492.4 364.9 493.5 367.4 494.5 370.8 495.6 372.9 496.2 369.5 496.6 372.3 497.7 366.8 498.7 368.8 499.8 373 500.8 369.6 501.9 367.6 502.9 367.2 504 368.8 505 369 506.1 363.8 507.1 364.5 507.8 364.9 508.2 370.1 509.2 371.2 510.3 371.2 511.3 369.5 512.4 374.1 512.4 369.8 513.4 368.6 514.5 370.6 515.5 372 516.6 372.8 517.6 370.4 518.7 368.4 519.3 369.5 519.7 368.6 520.8 369.9 521.8 371.4 522.9 372.7 523.9 371.8 525 368 526 369.7 527.1 371.9 528.1 371 528.5 371.8 529.2 369 530.2 366.5 531.3 365.4 532.3 363.7 533.4 360.7 534.4 360.6 535.5 361.4 535.5 362.2 536.5 377.3 537.6 388.4 537.8 383.4 538.6 383.3 539.7 378.6 540.7 374.5 541.8 370.7 542.4 364.9 542.8 367.8 543.9 368.6 544.9 380.4 545.9 383.4 546 388 547 380.9 548.1 371.1 549.1 360.5 549.3 362.6 550.2 360.1 551.2 367 551.6 378.7 552.3 371.7 553.3 369.4 554.4 367.2 555.4 365.7 556.3 364.9 556.5 365.8 557.5 369 558.6 369.7 559.6 370.5 560.7 371.3 561.7 370 562.8 368 563.8 365.8 564.9 367.6 565.5 370.7 565.9 371.9 567 370.7 568 368.3 569.1 363.7 570.1 367.9 571.2 374.5 572.2 369.2 573.3 364.3 574.3 359.8 574.7 363.7 575.4 362.1 576.4 366.9 577.5 372.3 578.2 376.4 578.5 375.1 579.6 372.2 580.6 364.1 581.7 360.3 581.7 357.5 582.7 359 583.8 360 584.8 361.3 585.9 364.8 586.9 367.9 588 370.6 588.6 367.2 589 370.5 590.1 368.7 591.1 366 592.2 363.2 593.2 362.6 593.2 360.3 594.3 361 595.3 362.4 596.4 364.8 597.4 367.9 597.8 369.5 598.5 369.1 599.5 367.9 600.6 367.1 601.6 366.5 602.5 363.7 602.7 367 603.7 367.7 604.8 366.4 605.8 366.7 606.9 367.3 607.9 364.7 609 363 610 362.1 611.1 365 611.7 364.9 612.1 367 613.2 364.3 614.2 365.8 615.3 369.9 616.3 369.6 617.4 369.6 617.5 369.5 618.4 365.6 619.5 364.4 620.5 363.4 621.6 358 622.1 353.3 622.6 355.5 623.7 355.4 624.7 357 625.8 356.2 626.7 348.7 626.8 349.4 627.9 353.7 628.9 361.1 630 361.6 631 363.2 631.3 364.9 632.1 361.5 633.1 361.9 634.2 362 634.8 355.6 635.2 358 636.3 355.5 637.3 353.3 638.4 354.6 639.4 354.4 640.5 350.8 641.5 351.2 642.6 352.8 643.6 351 644 351 644.7 350.7 645.7 351.5 646.8 354.9 647.8 358.3 648.7 358 648.9 359 649.9 358 651 357.3 652 350.7 653.1 347.5 653.3 351 654.1 351.4 655.2 354.2 656.2 355.5 657.3 351.6 658.3 351.7 659.4 355.3 660.4 354.9 661.5 354.9 662.5 355.6 662.5 356.7 663.6 357.5 664.6 358.1 665.7 357.3 666.7 354.9 667.8 350.3 668.8 351.4 669.9 353 670.9 350.8 671.8 351 672 350.8 673 353.3 674.1 349 675.1 347.7 676.2 353.1 677.2 355.8 677.5 356.8 678.3 354.2 679.3 351.2 680.4 347.8 681 346.4 681.4 345.8 682.5 348.6 683.5 350.9 684.6 350.4 685.6 351.3 686.7 352.9 687.7 355 688.8 357.5 689.8 360.4 690.2 355.6 690.9 357.9 691.9 352.9 693 347.7 694 345 694.9 341.8 695.1 345.7 696.1 347.7 697.2 348.5 698.2 347.4 699.3 349.5 699.5 353.3 700.3 349.7 701.4 348.3 702.4 347.6 703.5 348 704.1 346.4 704.5 347.9 705.6 349.4 706.6 352 707.7 352.8 708.7 352.3 709.8 352.5 710.8 353.8 711 355.6 711.9 356.4 712.9 356.1 714 355.2 715 359.3 716.1 359.7 717.1 356 718.2 356.6 719.1 360.3 719.2 357.7 720.3 356.9 721.3 357 722.4 357.6 723.4 356 724.5 354.4 725.5 352.9 726.6 351.5 727.6 350 728.7 347.6 729.5 349.9 729.7 347.5 730.8 350.4 731.8 350.4 732.9 350.9 733.9 353.1 735 356.6 736 360.2 737.1 355.8 738.1 354.5 738.8 356.8 739.2 356 740.2 355.5 741.3 355.2 742.2 351 742.3 356.5 743.4 355.4 744.4 350.8 745.5 351.2 746.5 351.7 747.6 352.1 748.6 354 749.7 356.2 750.3 355.6 750.7 355.7 751.8 355.3 752.8 355.5 753.9 356.3 754.9 356.5 756 353.8 757 354.8 758.1 357.9 759.1 358.8 760.2 358.7 761.2 357.2 761.9 360.3 762.3 359.9 763.3 362 764.4 357.1 765.4 355 766.5 355.3 767.5 354.4 768.6 353.6 768.8 352.2 769.6 354.6 770.7 352 771.7 347.7 772.8 350.8 773.8 353.9 774.9 357 775.9 356.6 777 355.8 778 356.8 778 356.8 779.1 356.4 780.1 355.5 781.2 356.4 782.2 356.7 783.3 355.8 784.3 354.6 785.4 353.7 786.4 357.1 787.3 354.5 787.5 358 788.5 356.7 789.6 356.3 790 356.8 790.6 356.2 791.7 358.3 792.7 358.2 793.8 356.8 794.8 356.3 795.9 355.5 796.9 354.2 798 355.5 799 357.2 800.1 355.9 801.1 354.6 801.6 356.8 802.2 353 803.2 355.1 804.3 357.5 805.3 359.9 806.4 357.8 807.4 353.6 808.5 352.2 809.5 351.6 810.6 351.9 811.6 351.7 812.7 351.7 813.1 351 813.7 354.6 814.8 355.2 815.8 353.7 816.9 353 817.9 353 819 354.7 820 358 820 357.9 821.1 359 822.1 356.4 823.2 353.9 824.2 351.3 824.7 352.2 825.3 352.6 826.3 355.4 827.4 358.3 828.4 357.7 829.5 355 830.5 359 831.6 362.6 831.6 362.4 832.6 362.4 833.7 362.9 834.7 362.6 835.8 356.9 836.8 355.1 837.9 356.8 838.9 357.8 840 358.9 840.8 355.6 841 361.1 842.1 360.2 843.1 357.6 844.2 356.5 845.2 355.1 846.3 353.4 847.3 354.2 848.4 355.2 849.4 355.1 850.1 356.8 850.5 355.9 851.5 357.3 852.6 356.9 853.6 356.1 854.7 354.8 855.7 355.5 856.8 356.8 857 353.3 857.8 357.8 858.9 357.9 859.9 356.5 861 357.2 861.6 360.3 862 357.3 863.1 357.4 864.1 357.3 865.2 356.9 866.2 351 866.2 352.1 867.3 352.7 868.3 355.2 869.4 357.9 870.4 360.7 871.5 364.8 872.5 365.7 873.2 364.9 873.6 362.6 874.6 361 875.7 360 876.7 359.8 877.8 359.4 878.8 358.7 879.9 355.3 880.9 354.4 882 357 882.4 356.8 883 358.4 884.1 359.4 885.1 359.4 886.2 358.9 887.2 358.2 888.3 357.5 889.3 357 890.4 356.7 891.4 354.3 891.6 354.5 892.5 351.1 893.5 352.9 894.6 353.4 895.1 351 895.6 355 896.7 358.6 897.7 362 898.6 364.9 898.8 363.9 899.8 361.5 900.9 358.8 901.9 360 903 360.2 904 358.4 905.1 357.3 905.5 360.3 906.1 357.4 907.2 361.2 908.2 362.1 909.3 360.5 910.3 360.4 911.4 360 912.4 358.4 913.5 357.5 914.5 356.9 915.6 358.4 916.6 358.9 917.1 358 917.7 358.2 918.7 357.5 919.8 357 920.8 358.2 921.9 358.2 922.9 357.3 924 358 925 358.2 926.1 357.4 927.1 358.5 928.2 359.7 928.6 356.8 929.2 356.8 930.3 356.3 931.3 358.3 932.4 357.8 933.4 358.2 934.5 362.7 935.5 359.1 935.5 363.8 936.6 364.9 937.6 366.3 938.7 367.7 939.7 369.2 940.2 369.5 940.8 367.8 941.8 364.7 942.9 361.7 943.9 361 945 362.5 946 357.6 947.1 356.8 947.1 353.7 948.1 357.1 949.2 359.8 950.2 361.9 951.3 362 951.7 363.7 952.3 364.1 953.4 368.5 954.4 370.7 955.5 373 956.3 376.4 956.5 376.8 957.6 376.6 958.6 375.5 959.7 373 960.7 371.6 961.8 372.4 962.8 372 963.9 370.9 964.9 368.2 965.6 369.5 966 367.2 967 368.3 968.1 368.7 969.1 369.3 970.2 370.8 971.2 372.2 972.3 373.5 973.3 372.3 974.4 372.4 974.8 369.5 975.4 375.3 976.5 375 977.5 373.7 978.3 373 978.6 373 979.6 369.9 980.7 366.8 981.7 362.5 982.8 360 983.8 362.2 984.9 359.2 985.9 353.8 986.4 354.5 987 355.1 988 357.8 989.1 360.2 989.8 360.3 990.1 359.1 991.2 355.1 992.2 352.8 993.3 352.2 993.3 351.9 994.3 355.4 995.4 354.5 996.4 354.7 997.5 357.4 998.5 357.2 999.6 356.2 1000.2 359.1 1000.6 356.8 1001.7 355 1002.7 352.6 1003.8 352.2 1004.8 352.2 1004.8 352.4 1005.9 356.4 1006.9 357 1008 355.7 1009 359.4 1009.5 360.3 1010.1 360.6 1011.1 358.7 1012.2 359.7 1013.2 361.5 1014.3 361.5 1015.3 361.9 1016.4 362.5 1017.4 361 1018.5 360 1019.5 360.9 1020.6 362 1021 361.4 1021.6 363.7 1022.7 362.7 1023.7 362.6 1024.8 363.7 1025.6 367.2 1025.8 366.4 1026.9 366.8 1027.9 364 1029 363.1 1030 363.6 1030.2 361.4 1031.1 363.6 1032.1 364.1 1033.2 365.1 1034.2 365 1034.9 366 1035.3 364.2 1036.3 364.1 1037.4 363.3 1038.4 361.8 1039.5 362.2 1040.5 362.2 1041.6 360.1 1042.6 360 1043.7 361.1 1044.1 363.7 1044.7 361.9 1045.8 363.2 1046.8 365.4 1047.9 367.2 1048.9 368.5 1050 367.8 1051 367.6 1052.1 367.7 1053.1 365.4 1054.2 363.8 1055.2 365 1055.7 366 1056.3 367 1057.3 369.2 1058.4 367.9 1059.4 368.3 1060.5 370.9 1061.5 370.5 1062.6 370.7 1062.6 370 1063.6 372 1064.7 371.1 1065.7 367.9 1066.8 370 1067.8 371.2 1068.9 370.1 1069.5 368.3 1069.9 369.7 1071 370.2 1072 370.3 1073.1 372.1 1074.1 373 1074.1 375.8 1075.2 374.2 1076.2 371.8 1077.3 368.4 1078.3 367.7 1079.4 368.6 1080.4 369.5 1081.1 366 1081.5 370 1082.5 369.5 1083.6 368.7 1084.6 367.9 1085.7 368.3 1086.7 369 1087.8 369.7 1088 370.7 1088.8 370.5 1089.9 370.4 1090.9 368.8 1092 368.2 1093 368 1094.1 364.8 1094.9 363.7 1095.1 363.2 1096.2 364.8 1097.2 365.4 1098.3 366.5 1099.3 370.7 1100.4 370.4 1101.4 366.9 1102.5 368.3 1103.5 369.8 1104.2 370.7 1104.6 370.3 1105.6 370.1 1106.7 369.7 1107.7 370.1 1108.8 370.1 1109.8 369.9 1110.9 368.8 1111.9 368.4 1112.2 369.5 1113 369.2 1114 367.8 1114.1 367.2 1115.1 341.3 1115.2 338.3 1116.1 361.9 1116.6 374.1 1117.2 373.6 1118 369.5 1118.2 371.7 1119.3 372.2 1120.3 372 1121.4 366 1122.4 363 1122.6 364.9 1123.5 363.9 1124.5 363.8 1125.6 364.5 1126.6 367.3 1127.7 368.5 1128.4 368.3 1128.7 368.9 1129.8 368.7 1130 369.5 1130.8 367.3 1131.9 366 1132.9 366.6 1134 366.4 1134.6 364.9 1135 362.5 1136.1 364.6 1137.1 370 1138.2 370.9 1139.2 373.4 1140.3 379.5 1140.4 375.3 1141.3 377.5 1142.4 373.3 1143.4 370.4 1144.5 367.1 1145.5 363.2 1146.2 364.9 1146.6 364.5 1147.6 367.8 1148.7 369 1149.7 370.8 1150.8 371.8 1150.8 372.9 1151.8 372.1 1152.9 370.3 1153.9 366.7 1155 366.9 1156 368 1157.1 367.7 1157.7 364.9 1158.1 368 1159.2 369.5 1160.2 368.2 1161.3 367.8 1162.3 370.2 1163.4 372.3 1164.4 374.3 1164.7 374.1 1165.5 372.9 1166.5 372.6 1167.6 374.3 1168.6 373.8 1169.7 372.5 1170.4 367.2 1170.7 368.9 1171.8 364.7 1172.8 360.8 1173.9 358 1173.9 355.8 1174.9 357.9 1176 363.1 1177 366 1178.1 368.1 1179.1 371 1179.7 373 1180.2 370 1181.2 365.1 1182.3 364.6 1183.3 364.2 1184.3 361.4 1184.4 361.7 1185.4 363 1186.5 364.7 1187.5 366.9 1188.6 367.9 1189.6 366.9 1190.1 367.2 1190.7 366.7 1191.7 366.4 1192.8 366 1193.8 366.1 1194.7 364.9 1194.9 367.2 1195.9 366.2 1197 365.9 1198 368.4 1199.1 369.5 1200.1 370 1201.2 374.2 1202.2 376.5 1203.3 376.2 1203.9 376.4 1204.3 377.3 1205.4 377.5 1206.4 377.1 1207.5 375.4 1208.5 372.7 1209.6 370.8 1210.6 370.1 1210.9 371.8 1211.7 372.4 1212.7 373.5 1213.8 374.3 1214.8 376.5 1215.9 376.3 1216.9 373.5 1218 373 1219 373.3 1220.1 375.6 1221.1 377.5 1222.2 379.2 1222.4 376.4 1223.2 378.9 1224.3 379.9 1225.3 382.5 1226.4 383.5 1227.4 383.9 1228.5 384 1229.5 383.8 1230.5 384.5 1230.6 383 1231.6 382.1 1232.7 380.4 1233.7 375.9 1234.8 373.2 1235.8 371.4 1236.3 369.5 1236.9 373.1 1237.9 376 1239 377.2 1239.7 381.1 1240 378.1 1241.1 373.8 1242 371.8 1242.1 368.6 1243.2 372.5 1244.2 378.1 1245.3 381.3 1246.3 385.2 1246.7 386.8 1247.4 387.8 1248.4 387.2 1249.5 385.7 1250.5 384 1251.6 383.7 1252.6 384.9 1253.7 386 1254.7 386.6 1255.8 385.6 1256.8 383.7 1257.1 382.2 1257.9 378.9 1258.9 373.8 1260 370 1261 367.9 1261.7 367.2 1262.1 368.3 1263.1 370.1 1264.2 368.9 1265.2 367.3 1266.3 365.4 1267.3 365.6 1267.4 363.7 1268.4 365.8 1269.4 363 1270.5 362.2 1271.5 362.3 1272.6 362.3 1273.6 364.3 1274.7 369 1275.7 367.7 1276.8 366.1 1277.8 368.3 1277.8 368.7 1278.9 369.4 1279.9 368.8 1281 371 1282 372 1283.1 370.3 1284.1 369.4 1284.8 370.7 1285.2 368.1 1286.2 367.9 1287.3 367.1 1288.2 364.9 1288.3 365.8 1289.4 367.4 1290.4 368.2 1291.5 366.3 1292.5 365.9 1293.6 366.5 1294.6 369.7 1295.7 371.1 1296.3 371.8 1296.7 369.2 1297.8 370.6 1298.8 372.9 1299.9 372.8 1300.9 372.7 1302 372.7 1303 374.5 1304.1 376 1305.1 376.2 1305.6 373 1306.2 374 1307.2 370.4 1308.3 366.5 1309 368.3 1309.3 365.7 1310.4 370.3 1311.4 375 1312.5 376.4 1312.5 379.4 1313.5 378.5 1314.6 375.4 1315.6 370.7 1316.7 366.5 1317.7 364.8 1318.8 368 1319.4 363.7 1319.8 365.7 1320.9 363.5 1321.9 367.1 1323 370.7 1324 373 1324 374.3 1325.1 374 1326.1 373 1327.2 370.6 1328.2 368.7 1329.3 367.2 1330.3 366.7 1331.4 367.6 1332.1 368.3 1332.4 371.1 1333.5 373.2 1334.5 374.1 1335.6 373.5 1336.6 373.5 1337.7 374 1337.9 376.4 1338.7 375 1339.8 376.2 1340.8 378 1341.9 379 1342.9 379.5 1344 379.5 1344.8 378.7 1345 379 1346.1 377.4 1347.1 377.3 1348.2 377.3 1349.2 376.4 1350.3 376.1 1351.3 376.3 1351.8 376.4 1352.4 374.6 1353.4 372 1354.5 369.1 1355.2 369.5 1355.5 370 1356.6 375.2 1357.5 376.4 1357.6 378.8 1358.7 381.1 1359.7 382.4 1360.8 386 1361 385.7 1361.8 387.5 1362.9 387.3 1363.9 387.6 1365 388.2 1366 387.2 1367.1 386.9 1368.1 387.7 1369.2 386.6 1370.2 386.8 1370.2 385.9 1371.3 388.8 1372.3 387.9 1373.4 383.6 1374.4 380.4 1375.5 378.3 1376.5 378.9 1377.2 376.4 1377.6 382.9 1378.6 393 1379.5 398.4 1379.7 396 1380.7 387.6 1381.8 383.4 1381.8 381.6 1382.8 383.3 1383.9 384.8 1384.9 385.3 1386 386.2 1387 387.4 1388.1 386.8 1389.1 386.3 1390.2 386.1 1391 388 1391.2 387.4 1392.3 387.3 1393.3 383.5 1394.4 380.5 1395.4 378.4 1396.5 377.7 1397.5 377 1398 375.3 1398.6 378.7 1399.6 383 1400.7 387.4 1401.7 391.1 1402.6 393.8 1402.8 393 1403.8 389 1404.9 385.9 1405.9 383.3 1407 382.4 1408 381.1 1409.1 379.3 1409.5 376.4 1410.1 378.2 1411.2 379.9 1412.2 384.3 1413 385.7 1413.3 388.2 1414.3 393.6 1415.4 398.7 1416.4 405.3 1416.4 404.1 1417.5 404 1418.5 404.8 1419.6 405.8 1419.9 405.3 1420.6 404 1421.7 399.8 1422.7 394.8 1423.8 390.6 1424.5 388 1424.8 387.2 1425.9 385.6 1426.9 383.4 1428 380.9 1429 378.5 1430.1 376.7 1430.3 378.7 1431.1 374.8 1432.2 372.9 1433.2 370.5 1434.3 366.5 1435.3 363.7 1436.4 361.7 1437.2 362.6 1437.4 359.4 1438.5 358.3 1439.5 358.7 1440.6 355.7 1441.6 352.4 1442.7 353.6 1443 351 1443.7 355 1444.8 355.2 1445.8 356 1446.5 355.6 1446.9 357.4 1447.9 359.4 1449 362.7 1449.9 364.9 1450 366.1 1451.1 364.6 1452.1 362 1453.2 358.1 1454.2 355.1 1455.3 352.4 1455.7 351 1456.3 352.9 1457.4 353.2 1458.4 352.1 1459.5 356.5 1460.5 359.8 1461.6 360.3" fill="none" stroke="#ff7f0e" stroke-width="2" stroke-linejoin="round"/>
</g>
<path d="M115.5 518.5v5.4M284.5 518.5v5.4M452.5 518.5v5.4M620.5 518.5v5.4M789.5 518.5v5.4M957.5 518.5v5.4M1125.5 518.5v5.4M1294.5 518.5v5.4M115.5 438.5h-5.4M115.5 356.5h-5.4M115.5 274.5h-5.4M115.5 191.5h-5.4M115.5 109.5h-5.4" fill="none" stroke="#000" stroke-width="1.07"/>
<rect x="115.5" y="38.5" width="1347" height="480" fill="none" stroke="#000" stroke-width="1.07"/>
<text x="106.4" y="446.4" text-anchor="end" class="tk">−2</text>
<text x="106.4" y="364.4" text-anchor="end" class="tk">0</text>
<text x="106.4" y="282.4" text-anchor="end" class="tk">2</text>
<text x="106.4" y="199.4" text-anchor="end" class="tk">4</text>
<text x="106.4" y="117.4" text-anchor="end" class="tk">6</text>
<rect x="365.0" y="575.5" width="799.0" height="479.0" fill="#e9e9e9"/>
<path d="M365.5 575.5V1054.5M1163.5 575.5V1054.5" stroke="#dedede" stroke-width="1" fill="none"/>
<path d="M284.5 1054.5V575.5M452.5 1054.5V575.5M620.5 1054.5V575.5M789.5 1054.5V575.5M957.5 1054.5V575.5M1125.5 1054.5V575.5M1294.5 1054.5V575.5M115.5 1029.5H1462.5M115.5 942.5H1462.5M115.5 855.5H1462.5M115.5 768.5H1462.5M115.5 681.5H1462.5M115.5 594.5H1462.5" fill="none" stroke="#b0b0b0" stroke-width="1.07" stroke-dasharray="1.07 1.88"/>
<g clip-path="url(#cb)">
<path d="M112.5 970.3 117.4 976.3 118.6 977.9 119.9 976.6 121.1 980.2 122.4 977.4 123.6 970.5 124.9 971.1 126.1 976.2 127.4 982.5 128.6 985.5 129.9 978.7 131.1 982.1 132.4 977.4 133.6 968.3 134.9 966.7 136.1 969.1 137.4 976.4 138.6 985.2 139.9 985.6 141.1 985.7 142.4 984.7 143.6 993.6 144.9 990.9 146.1 998.7 147.4 1004.6 148.6 1005.8 149.9 1003 151.1 1007.3 152.4 1010.5 153.6 1005.5 154.9 1007.5 156.1 1005.7 157.4 1007.4 158.6 1006.1 159.9 1000.6 161.1 993.8 162.4 996.4 163.6 993 164.9 998.9 166.1 1002.4 167.4 1007.1 168.6 1008.2 169.9 1003.7 171.1 1006.1 172.4 1005.8 173.6 1003.7 174.9 1001.4 176.1 1000.6 177.4 1000.6 178.6 1001.1 179.9 1001.9 181.1 1003.3 182.4 1006.3 183.6 1006 184.9 1006.1 186.1 1005.9 187.4 1000.7 188.6 1004.4 189.9 1006.1 191.1 1005.3 192.4 1005.7 193.6 1010.6 194.9 1012.9 196.1 1013.9 197.4 1013.3 198.6 1012.2 199.9 1011.5 201.1 1009.5 202.4 1008.5 203.6 1007.2 204.9 1007.4 206.1 1008.9 207.4 1013.5 208.6 1012.3 209.9 1016.1 211.1 1015.9 212.4 1015.6 213.6 1015.4 214.9 1014.5 216.1 1014.4 217.4 1014.6 218.6 1013.4 219.9 1014.3 221.1 1016.3 222.4 1019.1 223.6 1020.5 224.9 1021.2 226.1 1021 227.4 1021.2 228.6 1021.5 229.9 1021.2 231.1 1021.5 232.4 1021.4 233.6 1021.6 234.9 1021.1 236.1 1021.6 237.4 1021.9 238.6 1021.8 239.9 1021.6 241.1 1021.5 242.4 1021.6 243.6 1021.5 244.9 1021.2 246.1 1021.5 247.4 1021.6 248.6 1021.7 249.9 1021.7 251.1 1021.8 252.4 1021.8 253.6 1021.3 254.9 1021.6 256.1 1022.2 257.4 1022.1 258.6 1021.5 259.9 1021.6 261.1 1021.7 262.4 1022.3 263.6 1022.2 264.9 1022 266.1 1022.2 267.4 1022.4 268.6 1022.6 269.9 1022.4 271.1 1022.3 272.4 1022.8 273.6 1022.5 274.9 1022.8 276.1 1023 277.4 1023 278.6 1023.1 279.9 1022.4 281.1 1022.7 282.4 1022.6 283.6 1023.3 284.9 1022.9 286.1 1022.9 287.4 1022.5 288.6 1022.3 289.9 1022.8 291.1 1022.7 292.4 1023.1 293.6 1022.7 294.9 1022.8 296.1 1022.7 297.4 1022.7 298.6 1022.9 299.9 1023 301.1 1023.2 302.4 1023.1 303.6 1022.7 304.9 1022.7 306.1 1023 307.4 1023.1 308.6 1023 309.9 1022.7 311.1 1023 312.4 1022.5 313.6 1022.7 314.9 1023 316.1 1023.4 317.4 1023.3 318.6 1023 319.9 1023.7 321.1 1023.5 322.4 1023.3 323.6 1023.4 324.9 1023.5 326.1 1023.6 327.4 1023.1 328.6 1022.9 329.9 1023.3 331.1 1023.1 332.4 1023.1 333.6 1022.7 334.9 1022.9 336.1 1023 337.4 1023.2 338.6 1023.2 339.9 1023 341.1 1022.9 342.4 1022.4 343.6 1022.7 344.9 1023 346.1 1023 347.4 1023.1 348.6 1022.9 349.9 1023 351.1 1022.6 352.4 1022.9 353.6 1022.8 354.9 1022.5 356.1 1022.8 357.4 1022.9 358.6 1022.8 359.9 1022.7 361.1 1022.2 362.4 1021.9 363.6 1022.1 364.9 1022.2 366.1 1022.3 367.4 1022.6 368.6 1022.4 369.9 1021.8 371.1 1021.4 372.4 1022.1 373.6 1022.2 374.9 1022.1 376.1 1022.1 377.4 1021.9 378.6 1021.8 379.9 1021.9 381.1 1021.1 382.4 1021.4 383.6 1021.3 384.9 1021.6 386.1 1021.7 387.4 1021.5 388.6 1021.7 389.9 1021.9 391.1 1022.1 392.4 1021.5 393.6 1021.7 394.9 1022 396.1 1021.8 397.4 1021.9 398.6 1021.9 399.9 1021.9 401.1 1021.8 402.4 1021.8 403.6 1021.5 404.9 1021.2 406.1 1021.6 407.4 1021.9 408.6 1021.9 409.9 1021.7 411.1 1021.4 412.4 1021.5 413.6 1021.7 414.9 1022 416.1 1021.8 417.4 1021.8 418.6 1021.7 419.9 1021.2 421.1 1021.7 422.4 1021.8 423.6 1021.5 424.9 1021.3 426.1 1021.3 427.4 1021.3 428.6 1021.3 429.9 1021.6 431.1 1021.6 432.4 1021.4 433.6 1021.6 434.9 1021.6 436.1 1021.7 437.4 1021.8 438.6 1021.3 439.9 1021.6 441.1 1021.7 442.4 1021.7 443.6 1021.5 444.9 1021.3 446.1 1021.6 447.4 1021.7 448.6 1022 449.9 1021.4 451.1 1020.8 452.4 1021.4 453.6 1021.3 454.9 1021.6 456.1 1021.6 457.4 1021.6 458.6 1020.8 459.9 1020.6 461.1 1021.2 462.4 1021.4 463.6 1021.5 464.9 1021.4 466.1 1020.9 467.4 1020.3 468.6 1020.6 469.9 1021.1 471.1 1021.5 472.4 1021.3 473.6 1020.9 474.9 1021.1 476.1 1021.1 477.4 1020.4 478.6 1020.2 479.9 1020.1 481.1 1020.5 482.4 1020.5 483.6 1020.4 484.9 1019.8 486.1 1019.4 487.4 1019.3 488.6 1019 489.9 1018.8 491.1 1018.5 492.4 1017.4 493.6 1016.9 494.9 1017.5 496.1 1016.5 497.4 1018.2 498.6 1019.4 499.9 1018.7 501.1 1018.6 502.4 1019 503.6 1019.6 504.9 1019.4 506.1 1019.3 507.4 1018.4 508.6 1019.8 509.9 1020.5 511.1 1020 512.4 1020.1 513.6 1019.6 514.9 1019.6 516.1 1019.9 517.4 1019.6 518.6 1019.8 519.9 1020.7 521.1 1020.2 522.4 1020.5 523.6 1019.9 524.9 1020.8 526.1 1020.8 527.4 1020.3 528.6 1020.1 529.9 1020.3 531.1 1020.3 532.4 1020.5 533.6 1020.5 534.9 1019.8 536.1 1020 537.4 1019.2 538.6 1017.8 539.9 1018.4 541.1 1018.4 542.4 1018.5 543.6 1018.4 544.9 1018.7 546.1 1019.7 547.4 1020.5 548.6 1021.3 549.9 1021.2 551.1 1020.8 552.4 1020.8 553.6 1020.8 554.9 1021.5 556.1 1020.9 557.4 1021.1 558.6 1021.3 559.9 1020.8 561.1 1020.2 562.4 1020.1 563.6 1019.9 564.9 1019.9 566.1 1020.8 567.4 1019.8 568.6 1020.1 569.9 1020.1 571.1 1019.4 572.4 1019.9 573.6 1019.1 574.9 1018.2 576.1 1018.9 577.4 1019.4 578.6 1019.3 579.9 1020.4 581.1 1020.1 582.4 1020.1 583.6 1020.6 584.9 1020.8 586.1 1021.2 587.4 1021.4 588.6 1020.9 589.9 1021.2 591.1 1021.3 592.4 1020.1 593.6 1020.4 594.9 1020.9 596.1 1020.6 597.4 1020.6 598.6 1020.8 599.9 1020.6 601.1 1020.7 602.4 1020.8 603.6 1020.8 604.9 1020.8 606.1 1020.9 607.4 1022.6 608.6 1021.7 609.9 1020.9 611.1 1021.5 612.4 1021.6 613.6 1020.5 614.9 1020.2 616.1 1019.4 617.4 1019.6 618.6 1019.9 619.9 1020.1 621.1 1020.2 622.4 1020.7 623.6 1020.2 624.9 1020.7 626.1 1021.1 627.4 1020.9 628.6 1021.4 629.9 1021.5 631.1 1021.6 632.4 1020.7 633.6 1020.4 634.9 1021.1 636.1 1021.4 637.4 1020.5 638.6 1020.5 639.9 1019.9 641.1 1018.6 642.4 1018.6 643.6 1017.2 644.9 1014.8 646.1 1012.7 647.4 1012.9 648.6 1011 649.9 1003.8 651.1 1010.3 652.4 1007.2 653.6 1002.6 654.9 999.1 656.1 994.9 657.4 989 658.6 987.9 659.9 997.1 661.1 995.7 662.4 998.7 663.6 999 664.9 1000.2 666.1 998.1 667.4 995.8 668.6 997.1 669.9 992.4 671.1 993.2 672.4 999.7 673.6 998.4 674.9 997.1 676.1 1001.1 677.4 1007.3 678.6 1009.8 679.9 1010.5 681.1 1010.4 682.4 1007.2 683.6 1009.7 684.9 1010.9 686.1 1010.4 687.4 1006.9 688.6 1009.6 689.9 1011.7 691.1 1012.3 692.4 1010.6 693.6 1007.6 694.9 1009.3 696.1 1005 697.4 1011.2 698.6 1010.4 699.9 1011.3 701.1 1005 702.4 998.3 703.6 998.1 704.9 1002 706.1 999.9 707.4 1001.7 708.6 1000.9 709.9 999 711.1 998.7 712.4 994.7 713.6 992.5 714.9 990.6 716.1 987.8 717.4 985.1 718.6 982.4 719.9 979.3 721.1 977.9 722.4 975.9 723.6 980.3 724.9 983.7 726.1 976.4 727.4 984.1 728.6 984.8 729.9 986.1 731.1 987.3 732.4 988.3 733.6 989.8 734.9 995.1 736.1 994.2 737.4 996.8 738.6 996.2 739.9 994.6 741.1 988.5 742.4 982.8 743.6 972.3 744.9 969.1 746.1 978 747.4 986.6 748.6 984 749.9 993.6 751.1 987.8 752.4 969.1 753.6 959.4 754.9 959.4 756.1 971.5 757.4 989 758.6 962.2 759.9 964.3 761.1 979.4 762.4 981.8 763.6 991.5 764.9 995.1 766.1 995.6 767.4 995 768.6 996 769.9 997.2 771.1 1000.7 772.4 1002 773.6 1000.2 774.9 1000.3 776.1 1004.2 777.4 1001.5 778.6 994.4 779.9 989.5 781.1 986.2 782.4 977.5 783.6 984.4 784.9 982.2 786.1 986.3 787.4 990.1 788.6 992.7 789.9 994.2 791.1 995.1 792.4 991.5 793.6 989.3 794.9 989.7 796.1 994.4 797.4 996.8 798.6 996.3 799.9 991.9 801.1 992.2 802.4 987.3 803.6 989.2 804.9 986.2 806.1 982.5 807.4 980.8 808.6 970.3 809.9 975.1 811.1 973.6 812.4 989.4 813.6 990.7 814.9 990.1 816.1 991.2 817.4 988.6 818.6 990 819.9 983.3 821.1 981.3 822.4 989.3 823.6 987.6 824.9 994.9 826.1 998.5 827.4 992.4 828.6 990.8 829.9 988.1 831.1 989 832.4 984.4 833.6 974.2 834.9 975.8 836.1 967.2 837.4 968.3 838.6 966.9 839.9 961.3 841.1 964.9 842.4 967.5 843.6 976.4 844.9 969.6 846.1 966.4 847.4 973.7 848.6 967.6 849.9 966 851.1 970.5 852.4 969.6 853.6 965.7 854.9 961.8 856.1 966.7 857.4 977 858.6 979.3 859.9 979.5 861.1 963.9 862.4 956.8 863.6 941.5 864.9 936.9 866.1 938.5 867.4 946.9 868.6 961.2 869.9 977.3 871.1 986.8 872.4 988.8 873.6 994 874.9 991.4 876.1 984.6 877.4 981.5 878.6 979.4 879.9 985 881.1 983.8 882.4 983.5 883.6 986.6 884.9 988.1 886.1 988.8 887.4 992.5 888.6 991.8 889.9 985.7 891.1 983.2 892.4 993.4 893.6 998.7 894.9 1002.5 896.1 999.1 897.4 987.1 898.6 982.4 899.9 977.7 901.1 965.6 902.4 969.6 903.6 971.6 904.9 955.8 906.1 957.4 907.4 961.3 908.6 960.2 909.9 960.4 911.1 974.9 912.4 975.8 913.6 983.6 914.9 977.1 916.1 978.2 917.4 981 918.6 979.6 919.9 980.5 921.1 981.9 922.4 992.7 923.6 992 924.9 993.2 926.1 991.3 927.4 999.5 928.6 993.7 929.9 994.3 931.1 993.1 932.4 1001.7 933.6 1004.2 934.9 1006 936.1 1006.4 937.4 1007.3 938.6 1005.5 939.9 1005.4 941.1 1007 942.4 1010.2 943.6 1010.2 944.9 1012.1 946.1 1014.4 947.4 1013.7 948.6 1012 949.9 1013.6 951.1 1014 952.4 1014.1 953.6 1012.1 954.9 1004.7 956.1 995.5 957.4 992.3 958.6 986.2 959.9 986.8 961.1 991.5 962.4 1002.2 963.6 1001.6 964.9 1003.7 966.1 1001.9 967.4 1005.6 968.6 1003.7 969.9 1002.5 971.1 1000.5 972.4 998.6 973.6 991.7 974.9 993.3 976.1 998.6 977.4 993.2 978.6 996.1 979.9 993.4 981.1 998.3 982.4 1001.4 983.6 1001.7 984.9 1002.7 986.1 1003.1 987.4 1004.6 988.6 1004.9 989.9 1004.6 991.1 1000.6 992.4 1006.7 993.6 1009.3 994.9 1008.6 996.1 1005 997.4 1004.9 998.6 1001.6 999.9 1002 1001.1 999.7 1002.4 997.6 1003.6 995.3 1004.9 993.1 1006.1 993.2 1007.4 990.8 1008.6 985.6 1009.9 980.3 1011.1 966.6 1012.4 957.5 1013.6 943.9 1014.9 957 1016.1 964.3 1017.4 975.5 1018.6 970.9 1019.9 976.2 1021.1 989 1022.4 987.2 1023.6 988.1 1024.9 995.4 1026.1 993.7 1027.4 980.9 1028.6 984 1029.9 987.8 1031.1 978 1032.4 988.5 1033.6 990.7 1034.9 989.2 1036.1 984.6 1037.4 984.2 1038.6 987.8 1039.9 988 1041.1 986.9 1042.4 991.1 1043.6 992.1 1044.9 980.7 1046.1 969.1 1047.4 979.6 1048.6 976.9 1049.9 983.4 1051.1 979.9 1052.4 964.3 1053.6 970.4 1054.9 971 1056.1 961.1 1057.4 983.2 1058.6 982.1 1059.9 969.7 1061.1 972.9 1062.4 975.7 1063.6 977.3 1064.9 980.1 1066.1 980.6 1067.4 980 1068.6 983.2 1069.9 982.7 1071.1 988.2 1072.4 989.4 1073.6 989.4 1074.9 994.4 1076.1 994.4 1077.4 994.3 1078.6 991.9 1079.9 990.2 1081.1 977.9 1082.4 968.4 1083.6 967.6 1084.9 966.5 1086.1 970.6 1087.4 955.4 1088.6 939.7 1089.9 931.8 1091.1 925.4 1092.4 925.7 1093.6 925.4 1094.9 915.3 1096.1 948.1 1097.4 950.3 1098.6 971.2 1099.9 974.5 1101.1 983.6 1102.4 990.7 1103.6 987.7 1104.9 991.3 1106.1 995.4 1107.4 994.3 1108.6 994.5 1109.9 1001.1 1111.1 1007.7 1112.4 1005.3 1113.6 1000.8 1114.9 996.6 1116.1 994 1117.4 976 1118.6 953.1 1119.9 914.4 1121.1 897.5 1122.4 890.5 1123.6 895.5 1124.9 919.5 1126.1 948.4 1127.4 995.8 1128.6 983 1129.9 981.5 1131.1 980.9 1132.4 996.3 1133.6 997.1 1134.9 989 1136.1 986.3 1137.4 996 1138.6 1000.1 1139.9 1002.7 1141.1 1000.6 1142.4 998.8 1143.6 998.7 1144.9 996.3 1146.1 1002.4 1147.4 997.2 1148.6 994.9 1149.9 994.3 1151.1 999.6 1152.4 998.8 1153.6 1005.1 1154.9 1001.7 1156.1 1005.1 1157.4 1004.4 1158.6 1000.3 1159.9 1003 1161.1 999.9 1162.4 983.2 1163.6 963.8 1164.9 920.9 1166.1 911.2 1167.4 936.5 1168.6 977.4 1169.9 979.6 1171.1 987.1 1172.4 988.3 1173.6 999.9 1174.9 988.5 1176.1 998.9 1177.4 990.7 1178.6 988.5 1179.9 988.4 1181.1 1001 1182.4 1002.4 1183.6 1001.9 1184.9 1001.8 1186.1 1000.7 1187.4 1000.1 1188.6 1001.8 1189.9 996.1 1191.1 996.6 1192.4 998.7 1193.6 997.7 1194.9 990.9 1196.1 991.1 1197.4 991.6 1198.6 989 1199.9 990.2 1201.1 993.2 1202.4 992 1203.6 994.1 1204.9 991.7 1206.1 985.9 1207.4 983.9 1208.6 982 1209.9 974.6 1211.1 979.8 1212.4 983.1 1213.6 986.4 1214.9 987.4 1216.1 986.2 1217.4 978.8 1218.6 974.6 1219.9 960 1221.1 951.3 1222.4 947.1 1223.6 953.9 1224.9 959.2 1226.1 964.5 1227.4 973.7 1228.6 976.1 1229.9 972.6 1231.1 978.1 1232.4 984.9 1233.6 982.9 1234.9 985.8 1236.1 988.1 1237.4 992.3 1238.6 990.9 1239.9 990.6 1241.1 992.2 1242.4 993.9 1243.6 988 1244.9 988.9 1246.1 978.8 1247.4 977.8 1248.6 979.5 1249.9 970.6 1251.1 974.5 1252.4 970.9 1253.6 966.1 1254.9 971.4 1256.1 969.7 1257.4 954.3 1258.6 943 1259.9 919.1 1261.1 864.2 1262.4 829.7 1263.6 831.3 1264.9 880.4 1266.1 915.6 1267.4 925.3 1268.6 915.2 1269.9 906.1 1271.1 890.3 1272.4 897.2 1273.6 919.5 1274.9 927.7 1276.1 908.9 1277.4 907.6 1278.6 920.3 1279.9 915.9 1281.1 918.2 1282.4 911.2 1283.6 902.6 1284.9 902.6 1286.1 929.8 1287.4 926.4 1288.6 947.7 1289.9 953.6 1291.1 953.4 1292.4 952.9 1293.6 945.1 1294.9 932.3 1296.1 912.2 1297.4 874.1 1298.6 861.9 1299.9 843.7 1301.1 851.9 1302.4 859.6 1303.6 886.7 1304.9 915.8 1306.1 906 1307.4 932 1308.6 891.6 1309.9 873.8 1311.1 882.7 1312.4 882.9 1313.6 922.1 1314.9 907 1316.1 909.1 1317.4 927.4 1318.6 912.6 1319.9 897.4 1321.1 924.4 1322.4 935.1 1323.6 914.2 1324.9 862.8 1326.1 844.5 1327.4 846 1328.6 847 1329.9 859 1331.1 882.2 1332.4 912.1 1333.6 898.9 1334.9 933.6 1336.1 895.8 1337.4 864.4 1338.6 847 1339.9 840.1 1341.1 857.1 1342.4 872.3 1343.6 812.9 1344.9 815.8 1346.1 824.4 1347.4 788 1348.6 763 1349.9 758.4 1351.1 780.5 1352.4 848.1 1353.6 790.3 1354.9 781 1356.1 813.9 1357.4 838.7 1358.6 805.6 1359.9 858 1361.1 892.2 1362.4 895.2 1363.6 885.6 1364.9 891 1366.1 888 1367.4 907.2 1368.6 901.3 1369.9 888 1371.1 862.8 1372.4 877.9 1373.6 894 1374.9 893.5 1376.1 895.4 1377.4 889.3 1378.6 885.6 1379.9 880.3 1381.1 906.7 1382.4 910.7 1383.6 933.9 1384.9 941.4 1386.1 952.9 1387.4 935.1 1388.6 940.9 1389.9 932.9 1391.1 930.3 1392.4 920.8 1393.6 902 1394.9 907.5 1396.1 895.7 1397.4 897 1398.6 877.1 1399.9 872.4 1401.1 869.7 1402.4 883.1 1403.6 889.3 1404.9 886.9 1406.1 881.2 1407.4 879.6 1408.6 901.5 1409.9 907.8 1411.1 900 1412.4 901.7 1413.6 899.7 1414.9 895.5 1416.1 909.8 1417.4 898.6 1418.6 886.4 1419.9 850.7 1421.1 843 1422.4 856.9 1423.6 883.2 1424.9 894.7 1426.1 891.2 1427.4 902.5 1428.6 923.5 1429.9 946.3 1431.1 944.7 1432.4 946.7 1433.6 944.1 1434.9 942.3 1436.1 937.9 1437.4 939.9 1438.6 943 1439.9 943.2 1441.1 941.1 1442.4 945.4 1443.6 943.9 1444.9 947.1 1446.1 945.3 1447.4 945.5 1448.6 963.9 1449.9 971 1451.1 974.2 1452.4 975.8 1453.6 979.4 1454.9 973.3 1456.1 977.5 1457.4 971.1 1458.6 964.8 1459.9 962.6 1461.1 968.4 1462.4 967.8 L1462.4 1009.4 1461.1 1012 1459.9 1010.5 1458.6 1011.8 1457.4 1013.4 1456.1 1013.7 1454.9 1013.4 1453.6 1012.9 1452.4 1012.5 1451.1 1011.8 1449.9 1008.4 1448.6 1008.1 1447.4 1010.8 1446.1 1011.6 1444.9 1010.6 1443.6 1009.2 1442.4 1008.7 1441.1 1007.9 1439.9 1007 1438.6 1007.5 1437.4 1006.4 1436.1 1004.5 1434.9 1006.9 1433.6 1007.6 1432.4 1007.4 1431.1 1004.9 1429.9 999.8 1428.6 998.7 1427.4 996.5 1426.1 992 1424.9 990.2 1423.6 988.9 1422.4 977.2 1421.1 978.9 1419.9 969.6 1418.6 978.2 1417.4 988.9 1416.1 985.3 1414.9 989.4 1413.6 988.3 1412.4 984.9 1411.1 988 1409.9 994.9 1408.6 1001.1 1407.4 997.3 1406.1 990 1404.9 985 1403.6 978.7 1402.4 984.7 1401.1 987.1 1399.9 982.5 1398.6 985.9 1397.4 975.4 1396.1 980.8 1394.9 980.4 1393.6 985 1392.4 983.5 1391.1 984.2 1389.9 988.8 1388.6 994.7 1387.4 994.7 1386.1 997.7 1384.9 998.3 1383.6 993.9 1382.4 993.9 1381.1 992.1 1379.9 991.5 1378.6 986.1 1377.4 985.5 1376.1 969 1374.9 970 1373.6 973.9 1372.4 971.4 1371.1 963.8 1369.9 968.7 1368.6 976.7 1367.4 977.1 1366.1 972.9 1364.9 972.6 1363.6 980.2 1362.4 979.7 1361.1 977.8 1359.9 967.8 1358.6 967.2 1357.4 969.8 1356.1 963.8 1354.9 944.6 1353.6 968.8 1352.4 976.8 1351.1 966.8 1349.9 957 1348.6 956.6 1347.4 955.6 1346.1 969.6 1344.9 959.2 1343.6 963 1342.4 977.4 1341.1 978.1 1339.9 975.7 1338.6 966.4 1337.4 982 1336.1 1004.9 1334.9 1009.6 1333.6 1007.6 1332.4 1001.5 1331.1 993.9 1329.9 987.1 1328.6 978 1327.4 981.5 1326.1 991.1 1324.9 992.1 1323.6 992.8 1322.4 1005.4 1321.1 1005.6 1319.9 1004 1318.6 1000.6 1317.4 992.6 1316.1 987.7 1314.9 993.1 1313.6 996.1 1312.4 989.5 1311.1 984.2 1309.9 990.2 1308.6 988.1 1307.4 996.4 1306.1 998.7 1304.9 996.7 1303.6 986.6 1302.4 984.3 1301.1 986.8 1299.9 989.9 1298.6 988.6 1297.4 995.5 1296.1 1004.1 1294.9 1003.3 1293.6 1000.5 1292.4 998.7 1291.1 999.1 1289.9 998.5 1288.6 993.5 1287.4 993.1 1286.1 993.6 1284.9 991.5 1283.6 991.2 1282.4 991.2 1281.1 991.4 1279.9 995.1 1278.6 994.4 1277.4 994.7 1276.1 989.6 1274.9 1002.1 1273.6 1001.4 1272.4 996 1271.1 994 1269.9 1000.5 1268.6 1002.9 1267.4 1001.1 1266.1 1003.3 1264.9 1003.7 1263.6 992.7 1262.4 952.9 1261.1 993.1 1259.9 1000.5 1258.6 1005.9 1257.4 1007.9 1256.1 1008.8 1254.9 1010.9 1253.6 1008.8 1252.4 1008.6 1251.1 1008.9 1249.9 1010.4 1248.6 1012.5 1247.4 1012.6 1246.1 1011.7 1244.9 1014.8 1243.6 1014.6 1242.4 1013.3 1241.1 1012.6 1239.9 1010.6 1238.6 1011.5 1237.4 1013 1236.1 1012.7 1234.9 1012.5 1233.6 1013 1232.4 1011.2 1231.1 1009.8 1229.9 1010.5 1228.6 1010 1227.4 1011.6 1226.1 1008.2 1224.9 1005.1 1223.6 1012.2 1222.4 1011.2 1221.1 1005.9 1219.9 1008.1 1218.6 1013.2 1217.4 1011.8 1216.1 1013.2 1214.9 1013.8 1213.6 1013.3 1212.4 1012.2 1211.1 1009.9 1209.9 1009.9 1208.6 1011.4 1207.4 1009.9 1206.1 1011.2 1204.9 1013.4 1203.6 1014.9 1202.4 1015.5 1201.1 1014.8 1199.9 1013.8 1198.6 1013.4 1197.4 1012.1 1196.1 1015.7 1194.9 1016.7 1193.6 1016.3 1192.4 1015.8 1191.1 1015.9 1189.9 1015.7 1188.6 1015.9 1187.4 1016.9 1186.1 1017 1184.9 1016.4 1183.6 1017.1 1182.4 1017.4 1181.1 1017.8 1179.9 1017.5 1178.6 1015.3 1177.4 1015.3 1176.1 1018.4 1174.9 1019.7 1173.6 1019.5 1172.4 1020 1171.1 1018.9 1169.9 1018.9 1168.6 1018 1167.4 1013.6 1166.1 996.8 1164.9 999.1 1163.6 1014.8 1162.4 1019 1161.1 1019.2 1159.9 1019.9 1158.6 1020.7 1157.4 1020.7 1156.1 1021 1154.9 1020.6 1153.6 1019 1152.4 1018.7 1151.1 1018.9 1149.9 1019.6 1148.6 1020 1147.4 1019.4 1146.1 1020.4 1144.9 1021 1143.6 1021 1142.4 1019.7 1141.1 1019.1 1139.9 1019.5 1138.6 1020.5 1137.4 1020 1136.1 1018.5 1134.9 1018 1133.6 1019.8 1132.4 1019.8 1131.1 1019.1 1129.9 1017.9 1128.6 1020.4 1127.4 1019 1126.1 1018.7 1124.9 1013.6 1123.6 980 1122.4 996 1121.1 1004.2 1119.9 983.8 1118.6 1011.2 1117.4 1015.7 1116.1 1018.2 1114.9 1018.8 1113.6 1021.8 1112.4 1021.4 1111.1 1022.1 1109.9 1022 1108.6 1020 1107.4 1018.8 1106.1 1018 1104.9 1018.1 1103.6 1017 1102.4 1016.3 1101.1 1015.9 1099.9 1015.1 1098.6 1013.3 1097.4 1012.8 1096.1 1014.6 1094.9 1014.1 1093.6 1001.5 1092.4 997.1 1091.1 1005.6 1089.9 1007.6 1088.6 1010.8 1087.4 1012.2 1086.1 1013.7 1084.9 1017.8 1083.6 1016.9 1082.4 1016.2 1081.1 1019.5 1079.9 1020.1 1078.6 1019.5 1077.4 1019.2 1076.1 1018.9 1074.9 1019.2 1073.6 1018.9 1072.4 1018.2 1071.1 1017.4 1069.9 1018.6 1068.6 1017.9 1067.4 1018.8 1066.1 1019 1064.9 1019.6 1063.6 1014.8 1062.4 1015.9 1061.1 1013.1 1059.9 1016.5 1058.6 1017.2 1057.4 1018.1 1056.1 1016.1 1054.9 1017.6 1053.6 1019.4 1052.4 1019.3 1051.1 1017.1 1049.9 1015.8 1048.6 1017 1047.4 1019 1046.1 1018 1044.9 1017.8 1043.6 1018.3 1042.4 1017.6 1041.1 1017.7 1039.9 1018.8 1038.6 1016.8 1037.4 1016.9 1036.1 1016.1 1034.9 1016.6 1033.6 1017.8 1032.4 1017.8 1031.1 1017.1 1029.9 1017 1028.6 1017.1 1027.4 1016.8 1026.1 1017.6 1024.9 1017 1023.6 1016.8 1022.4 1015 1021.1 1012.5 1019.9 1011.1 1018.6 1009 1017.4 1010.1 1016.1 1011.2 1014.9 1009 1013.6 1006.4 1012.4 1010.4 1011.1 1011.2 1009.9 1013.2 1008.6 1013.7 1007.4 1014.6 1006.1 1015.2 1004.9 1014.8 1003.6 1015.9 1002.4 1017.5 1001.1 1016.5 999.9 1017.2 998.6 1018 997.4 1019 996.1 1018.7 994.9 1018.4 993.6 1018.8 992.4 1019.3 991.1 1018.9 989.9 1018.7 988.6 1018.6 987.4 1018.4 986.1 1019.3 984.9 1019.6 983.6 1018.7 982.4 1018.8 981.1 1017.4 979.9 1017.5 978.6 1017.7 977.4 1018 976.1 1017.5 974.9 1019 973.6 1018.9 972.4 1019 971.1 1020.5 969.9 1020.3 968.6 1019.1 967.4 1018.9 966.1 1019.3 964.9 1019.3 963.6 1019.5 962.4 1019.4 961.1 1017.9 959.9 1016.5 958.6 1017.2 957.4 1017.4 956.1 1016.7 954.9 1020.7 953.6 1021.5 952.4 1021.5 951.1 1021.8 949.9 1022 948.6 1022.1 947.4 1021.9 946.1 1022 944.9 1022.6 943.6 1022.4 942.4 1021.8 941.1 1021.2 939.9 1021.6 938.6 1020.8 937.4 1021 936.1 1020.2 934.9 1020 933.6 1019.6 932.4 1020.5 931.1 1021.3 929.9 1020.7 928.6 1020.2 927.4 1019.3 926.1 1018.1 924.9 1019.1 923.6 1020.3 922.4 1019.6 921.1 1018 919.9 1014.2 918.6 1016.8 917.4 1018.2 916.1 1018.1 914.9 1017.7 913.6 1017.8 912.4 1016.9 911.1 1014.6 909.9 1014.4 908.6 1012.4 907.4 1011.7 906.1 1015.4 904.9 1012.8 903.6 1014.3 902.4 1014.6 901.1 1013.7 899.9 1015.8 898.6 1019 897.4 1019.5 896.1 1018.9 894.9 1018.8 893.6 1017.7 892.4 1018.5 891.1 1017.3 889.9 1016.9 888.6 1016.7 887.4 1014.8 886.1 1013.5 884.9 1015.2 883.6 1016.2 882.4 1014 881.1 1014.8 879.9 1014.2 878.6 1013.7 877.4 1014.3 876.1 1014.8 874.9 1017 873.6 1016.3 872.4 1014.9 871.1 1013.9 869.9 1011.4 868.6 1008.5 867.4 995.4 866.1 997.8 864.9 995.1 863.6 995 862.4 1006.1 861.1 1009.2 859.9 1009.5 858.6 1008.6 857.4 1007 856.1 1007.9 854.9 1006.8 853.6 1007.8 852.4 1009.8 851.1 1010.1 849.9 1011.7 848.6 1009.1 847.4 1008.9 846.1 1013.7 844.9 1011.9 843.6 1012.4 842.4 1012.5 841.1 1009.8 839.9 1010.7 838.6 1010.1 837.4 1012 836.1 1012.4 834.9 1014.9 833.6 1015.3 832.4 1014.8 831.1 1014.7 829.9 1015.7 828.6 1015.9 827.4 1016.1 826.1 1014.7 824.9 1015.4 823.6 1015.6 822.4 1014.6 821.1 1014 819.9 1014.3 818.6 1012.6 817.4 1015 816.1 1014.6 814.9 1014.5 813.6 1014.7 812.4 1015.4 811.1 1016.7 809.9 1016.5 808.6 1016.2 807.4 1013.7 806.1 1014.1 804.9 1014.8 803.6 1015.1 802.4 1015.5 801.1 1016.9 799.9 1017.6 798.6 1016.5 797.4 1015.4 796.1 1017.8 794.9 1017.4 793.6 1017.7 792.4 1016.9 791.1 1016.9 789.9 1018.1 788.6 1016.4 787.4 1016.1 786.1 1014.5 784.9 1011.9 783.6 1016.2 782.4 1017.2 781.1 1016.7 779.9 1016.9 778.6 1017.1 777.4 1019.1 776.1 1019.1 774.9 1019.8 773.6 1018.9 772.4 1018.5 771.1 1018.8 769.9 1018.7 768.6 1018 767.4 1016.9 766.1 1017.5 764.9 1017.7 763.6 1017.1 762.4 1016.6 761.1 1015.4 759.9 1016.5 758.6 1016.3 757.4 1017.3 756.1 1016.8 754.9 1015.4 753.6 1014.9 752.4 1017.6 751.1 1018 749.9 1019.2 748.6 1019.6 747.4 1018.7 746.1 1017.5 744.9 1014.8 743.6 1014.6 742.4 1015.7 741.1 1018.2 739.9 1017.6 738.6 1016.9 737.4 1017.1 736.1 1017.3 734.9 1015.5 733.6 1014 732.4 1011.5 731.1 1010.6 729.9 1008.2 728.6 1009.6 727.4 1010.1 726.1 1009.8 724.9 1010.6 723.6 1008.8 722.4 1008.1 721.1 1005.7 719.9 1006.6 718.6 1008.3 717.4 1009.3 716.1 1009.5 714.9 1010 713.6 1011.2 712.4 1010.2 711.1 1015.5 709.9 1016.9 708.6 1017.4 707.4 1019.6 706.1 1020.9 704.9 1020.3 703.6 1020.6 702.4 1021.5 701.1 1022.3 699.9 1023.4 698.6 1023.5 697.4 1024.5 696.1 1024.5 694.9 1023.9 693.6 1024.2 692.4 1023.5 691.1 1022.8 689.9 1023 688.6 1022.3 687.4 1022.7 686.1 1023.3 684.9 1023 683.6 1022.5 682.4 1021.9 681.1 1021.7 679.9 1021.5 678.6 1021.1 677.4 1020.4 676.1 1020.2 674.9 1020.7 673.6 1020.6 672.4 1020.2 671.1 1020.3 669.9 1019.7 668.6 1019.1 667.4 1020.4 666.1 1021 664.9 1020.2 663.6 1019.7 662.4 1020.8 661.1 1019.9 659.9 1019 658.6 1019.3 657.4 1019.5 656.1 1021.9 654.9 1021.3 653.6 1021.5 652.4 1022 651.1 1022.9 649.9 1023.8 648.6 1024.1 647.4 1023.9 646.1 1024 644.9 1024.6 643.6 1025 642.4 1025.1 641.1 1024.5 639.9 1025.1 638.6 1025.6 637.4 1025.3 636.1 1025.5 634.9 1025.6 633.6 1025.3 632.4 1025.2 631.1 1025.6 629.9 1025.8 628.6 1025.8 627.4 1025.1 626.1 1025.4 624.9 1025.5 623.6 1025.1 622.4 1025.1 621.1 1025.2 619.9 1025.4 618.6 1025.4 617.4 1025.4 616.1 1025 614.9 1025.3 613.6 1025.4 612.4 1025.5 611.1 1025.6 609.9 1025.6 608.6 1025.4 607.4 1025.4 606.1 1025.5 604.9 1025.7 603.6 1025.7 602.4 1021.2 601.1 1022.9 599.9 1021.7 598.6 1024.6 597.4 1022.6 596.1 1023.4 594.9 1025.7 593.6 1025.4 592.4 1025.3 591.1 1025.3 589.9 1025.4 588.6 1025.2 587.4 1025.3 586.1 1024.8 584.9 1024.8 583.6 1025.2 582.4 1025.1 581.1 1024.7 579.9 1025.1 578.6 1025.3 577.4 1025.4 576.1 1025.3 574.9 1025.8 573.6 1025.8 572.4 1025.4 571.1 1025.8 569.9 1025.3 568.6 1025.4 567.4 1025.3 566.1 1025.5 564.9 1025.6 563.6 1025.4 562.4 1025.1 561.1 1025.4 559.9 1025.1 558.6 1025.1 557.4 1025.5 556.1 1025.4 554.9 1025.4 553.6 1025.4 552.4 1025.7 551.1 1025.6 549.9 1025.5 548.6 1025.2 547.4 1025.4 546.1 1025.3 544.9 1025.4 543.6 1025.3 542.4 1024.9 541.1 1025 539.9 1025 538.6 1024.9 537.4 1025.3 536.1 1025.2 534.9 1023.5 533.6 1024.5 532.4 1024.3 531.1 1025 529.9 1024.8 528.6 1025 527.4 1025 526.1 1024.6 524.9 1025.2 523.6 1025 522.4 1024.6 521.1 1025.2 519.9 1024.9 518.6 1024.9 517.4 1025 516.1 1025 514.9 1024.9 513.6 1025 512.4 1025 511.1 1025.2 509.9 1025 508.6 1024.9 507.4 1024.6 506.1 1024.5 504.9 1024.2 503.6 1024.6 502.4 1024.9 501.1 1024.7 499.9 1024.6 498.6 1024.4 497.4 1024.6 496.1 1024.8 494.9 1024.4 493.6 1024.5 492.4 1025 491.1 1023.7 489.9 1024.1 488.6 1024.6 487.4 1025 486.1 1024.7 484.9 1024.6 483.6 1023.9 482.4 1024.4 481.1 1024.3 479.9 1024.4 478.6 1024.7 477.4 1025.1 476.1 1025.1 474.9 1024.8 473.6 1024.8 472.4 1025 471.1 1024.8 469.9 1024.8 468.6 1024.8 467.4 1024.7 466.1 1024.5 464.9 1024.6 463.6 1024.3 462.4 1024.8 461.1 1024.9 459.9 1024.8 458.6 1024.9 457.4 1024.3 456.1 1025.2 454.9 1025 453.6 1025.3 452.4 1025.4 451.1 1025.5 449.9 1025.5 448.6 1025.1 447.4 1025.5 446.1 1025.5 444.9 1025.8 443.6 1024.9 442.4 1025.5 441.1 1025.7 439.9 1025.8 438.6 1025.5 437.4 1024.5 436.1 1025.5 434.9 1025.6 433.6 1025.8 432.4 1024.8 431.1 1025.4 429.9 1025.6 428.6 1025.5 427.4 1026 426.1 1025.2 424.9 1025.5 423.6 1025.7 422.4 1025.6 421.1 1025.7 419.9 1025.9 418.6 1025.7 417.4 1025.5 416.1 1025.4 414.9 1025 413.6 1024.8 412.4 1026.1 411.1 1026.1 409.9 1025.5 408.6 1025.3 407.4 1025.4 406.1 1025 404.9 1026 403.6 1025.7 402.4 1026.2 401.1 1025.5 399.9 1026 398.6 1024.9 397.4 1025.1 396.1 1026.1 394.9 1025.7 393.6 1025.8 392.4 1025.5 391.1 1025.8 389.9 1025.5 388.6 1025.7 387.4 1025.6 386.1 1025.8 384.9 1026.1 383.6 1026.2 382.4 1026 381.1 1025.8 379.9 1026.1 378.6 1026.3 377.4 1026.4 376.1 1025.7 374.9 1026.2 373.6 1025.6 372.4 1026.1 371.1 1026.6 369.9 1026.1 368.6 1026.1 367.4 1026.3 366.1 1026.4 364.9 1026.6 363.6 1026.5 362.4 1026.4 361.1 1026.5 359.9 1026.8 358.6 1026.1 357.4 1026.2 356.1 1026.3 354.9 1026 353.6 1026.1 352.4 1026.2 351.1 1026.6 349.9 1026.1 348.6 1026.4 347.4 1026.5 346.1 1025.5 344.9 1026.5 343.6 1026.8 342.4 1026.8 341.1 1026.9 339.9 1026.5 338.6 1026.5 337.4 1026.7 336.1 1026.7 334.9 1026.7 333.6 1026.2 332.4 1026.5 331.1 1026.6 329.9 1026.3 328.6 1026.5 327.4 1026.6 326.1 1026.3 324.9 1026.8 323.6 1026.3 322.4 1026.4 321.1 1026 319.9 1026.3 318.6 1026.6 317.4 1026.7 316.1 1026.7 314.9 1026.5 313.6 1026.5 312.4 1026.8 311.1 1026.2 309.9 1026.7 308.6 1026.6 307.4 1026.5 306.1 1026.6 304.9 1026.4 303.6 1026.3 302.4 1026.6 301.1 1026.8 299.9 1026.1 298.6 1026.6 297.4 1026.2 296.1 1026.5 294.9 1026.5 293.6 1026.5 292.4 1026.4 291.1 1026.7 289.9 1026.6 288.6 1026.7 287.4 1026.5 286.1 1026.6 284.9 1026.8 283.6 1026.2 282.4 1026.3 281.1 1026.6 279.9 1026.6 278.6 1026.6 277.4 1026.1 276.1 1026.1 274.9 1026.4 273.6 1025.6 272.4 1026 271.1 1026.1 269.9 1025.8 268.6 1025.9 267.4 1026.2 266.1 1026.3 264.9 1025.7 263.6 1025.8 262.4 1025.6 261.1 1026.4 259.9 1026 258.6 1025.9 257.4 1025.8 256.1 1026.3 254.9 1025.3 253.6 1025.6 252.4 1025.4 251.1 1026.1 249.9 1025.7 248.6 1025.6 247.4 1025.4 246.1 1024.9 244.9 1025.6 243.6 1026 242.4 1025.4 241.1 1025 239.9 1024.7 238.6 1024.6 237.4 1025.4 236.1 1025.3 234.9 1025.4 233.6 1024.9 232.4 1025.2 231.1 1025.4 229.9 1025.3 228.6 1025.2 227.4 1024.7 226.1 1024.6 224.9 1025 223.6 1024.8 222.4 1025 221.1 1024.6 219.9 1024.3 218.6 1023.7 217.4 1024 216.1 1023.3 214.9 1023.9 213.6 1024 212.4 1023.8 211.1 1024 209.9 1023.9 208.6 1023.7 207.4 1022.9 206.1 1022 204.9 1021 203.6 1020.6 202.4 1021.1 201.1 1021.4 199.9 1022.1 198.6 1021.6 197.4 1022.8 196.1 1023.3 194.9 1022.6 193.6 1022.2 192.4 1022.3 191.1 1021 189.9 1021.6 188.6 1022.2 187.4 1022.1 186.1 1022.1 184.9 1021.4 183.6 1021.2 182.4 1020.5 181.1 1020.8 179.9 1021.8 178.6 1021.2 177.4 1021.5 176.1 1020.6 174.9 1019.6 173.6 1020.9 172.4 1022.6 171.1 1022.8 169.9 1022.8 168.6 1021.3 167.4 1021 166.1 1021 164.9 1020.9 163.6 1020.7 162.4 1020.8 161.1 1019.8 159.9 1021.3 158.6 1021.6 157.4 1021.6 156.1 1020.6 154.9 1021.6 153.6 1021.7 152.4 1021.9 151.1 1022.5 149.9 1021.5 148.6 1020.7 147.4 1021 146.1 1021.7 144.9 1020.2 143.6 1018.4 142.4 1018 141.1 1017.7 139.9 1014.1 138.6 1013.8 137.4 1013.4 136.1 1013.1 134.9 1011.3 133.6 1011.8 132.4 1012.2 131.1 1014 129.9 1011.8 128.6 1014.8 127.4 1014.5 126.1 1014.8 124.9 1014.6 123.6 1011.5 122.4 1014.3 121.1 1015.3 119.9 1013.1 118.6 1012.1 117.4 1012 112.5 1013.6Z" fill="#1f77b4" stroke="#1f77b4" stroke-width="5.1" stroke-linejoin="round"/>
<path d="M115.6 968.7h0M115.7 965.4h0M115.9 1015.3h0M116 952.7h0M116.1 953.6h0M116.4 965.3h0M116.5 968.1h0M116.8 1014.1h0M116.8 974.1h0M117.1 971h0M117.5 973.5h0M117.7 963.6h0M117.8 973.1h0M117.8 975.6h0M118 977.3h0M118 977.3h0M118.1 973.8h0M118.3 1012.4h0M118.5 972.4h0M118.7 1012.6h0M118.7 971.9h0M119 976.5h0M119.4 970.4h0M119.4 961.5h0M119.5 975h0M119.5 974.7h0M120 974.5h0M120.2 1015.5h0M120.5 1014.4h0M120.6 1016.3h0M120.6 964.6h0M120.7 977.6h0M120.8 979.6h0M121 974.4h0M121.2 977.9h0M121.5 971.2h0M121.8 976.2h0M121.8 962.1h0M121.9 964.2h0M122.3 976.4h0M122.3 975h0M122.5 1014.6h0M122.8 968.9h0M123.4 969.3h0M123.6 969.6h0M123.7 966h0M124 1015.4h0M124 965.6h0M124.1 968.6h0M124.1 967.6h0M124.1 1016.1h0M124.3 965.4h0M124.4 956.4h0M124.4 943.3h0M124.9 968.6h0M125.1 966.9h0M125.2 1015.1h0M125.5 1015.9h0M125.5 963.4h0M125.5 968.8h0M125.6 973.9h0M125.9 1015.3h0M125.9 974.9h0M126.1 974.5h0M126.3 1015.3h0M126.6 972h0M126.6 971.8h0M126.8 977.3h0M127.2 979.8h0M127.3 981.1h0M127.6 970.5h0M127.7 975.8h0M127.7 1015.8h0M127.8 982h0M128 983.8h0M128.3 982.1h0M128.3 983.7h0M128.6 1015.3h0M128.7 979.8h0M128.7 977.9h0M128.7 981.3h0M129.5 1014.2h0M129.8 1012.6h0M130 978.1h0M130.1 972.5h0M130.3 974.5h0M130.4 966.8h0M130.6 978.1h0M130.7 973.9h0M130.8 980.8h0M130.9 1015h0M130.9 1015.2h0M131.3 976.9h0M131.3 970.8h0M131.5 971.9h0M132 972.1h0M132 1013h0M132.2 970.1h0M132.3 959.7h0M132.9 970.7h0M132.9 968.6h0M133 1012.4h0M133.1 950.8h0M133.5 964.1h0M133.5 963.8h0M133.7 965h0M134 961.1h0M134.2 961.4h0M134.4 966.2h0M134.5 1013.1h0M135.1 957.5h0M135.1 1012.3h0M135.2 966h0M135.4 957.8h0M135.4 958.1h0M135.5 961.1h0M136 959.5h0M136.1 967.7h0M136.2 961.4h0M136.3 966.5h0M136.5 958.6h0M136.5 1013.4h0M136.6 966h0M136.8 975h0M136.8 974.6h0M136.8 956.1h0M137 965.4h0M137.1 959.7h0M137.4 1013.8h0M137.4 1014.2h0M137.8 972.8h0M138.1 982h0M138.4 979.5h0M138.5 1014.6h0M138.8 982h0M139 1014.6h0M139 959.8h0M139.4 984.4h0M139.5 985.1h0M139.5 979.2h0M140.2 1015.2h0M140.4 979.1h0M140.4 1015.9h0M140.7 978.7h0M141.3 985.4h0M141.5 983.7h0M141.5 980h0M141.8 974.6h0M142.1 983.1h0M142.2 984h0M142.2 1018.4h0M143.1 982.1h0M143.7 989.8h0M143.8 985.7h0M144.2 1018.8h0M144.3 990.1h0M144.5 980.9h0M144.8 986.2h0M145.1 989.7h0M145.5 997.4h0M145.6 995.6h0M146 989.3h0M146.1 998.1h0M146.9 1002.8h0M147.1 1021.6h0M147.2 1021.5h0M147.3 999.1h0M147.3 995.9h0M148.1 1004.2h0M148.1 1021.3h0M148.2 1004.6h0M149 1004.2h0M149.6 996.3h0M149.8 1001.5h0M149.8 998.9h0M150.2 1001.8h0M150.6 1001.6h0M151.1 1005.3h0M151.8 1004.8h0M152 1008.1h0M152.2 1022.4h0M152.4 1022.3h0M152.5 1008.1h0M152.8 1007.8h0M154 1004.3h0M154.6 1002.7h0M155.6 1003.2h0M156.2 1004.5h0M157.5 1022h0M157.6 1022.2h0M157.9 1002h0M157.9 1007h0M158 1022.3h0M158.3 1005.4h0M158.6 1005.8h0M159.1 1004.7h0M159.1 995.6h0M159.9 996.5h0M160.2 999.8h0M160.2 997.7h0M160.4 987.7h0M160.8 990.8h0M161.1 1020.2h0M161.3 988.2h0M161.4 985.6h0M161.6 992.7h0M162.3 990.1h0M162.3 994.2h0M162.6 988.6h0M162.8 993.8h0M162.9 1021.4h0M163 981.6h0M163.1 1021h0M163.2 986.9h0M163.3 992.1h0M164.4 998.1h0M164.4 996.8h0M165.1 993.8h0M165.2 994.5h0M165.9 995.8h0M166 1000.8h0M166.7 998.6h0M166.9 998.7h0M167.2 1002.3h0M167.5 1003.7h0M167.8 1003.5h0M168 1007.6h0M169 1021.9h0M169.7 1003h0M169.9 1002.3h0M170.3 995.8h0M170.4 998.3h0M170.9 1005h0M171 1005h0M171.6 1003.4h0M171.6 1004h0M172.2 1003.9h0M172.7 1005.5h0M172.9 1002.1h0M173 1002.9h0M173.1 997.1h0M173.1 1021.5h0M173.2 1002.1h0M173.4 1001.9h0M173.6 1021.4h0M174 1003.3h0M174.8 1000.5h0M175 995.1h0M175.2 999.6h0M175.3 1020h0M175.4 1000h0M175.8 999.7h0M176 996.6h0M176.2 997.7h0M176.3 999.7h0M176.8 998.7h0M177.1 1000.1h0M177.1 996.8h0M177.3 998.8h0M178.3 999.4h0M178.9 999.9h0M178.9 1021.8h0M179 1021.5h0M179.2 999.5h0M180 999.2h0M180.3 999.2h0M180.5 998.2h0M180.7 1001.4h0M180.8 1001h0M181.1 1003h0M181.3 1021.3h0M181.3 1022h0M181.8 1022.2h0M182.1 1021.3h0M182.3 1002.4h0M182.7 1004.8h0M182.8 1004.9h0M182.9 1005.1h0M183.2 1005.2h0M184 1004.4h0M184.1 1004.9h0M184.8 1003.4h0M184.8 1021.7h0M185.3 1005.1h0M185.9 1004.5h0M186 1003.9h0M186.1 998.1h0M186.2 1022.4h0M187 998.8h0M187.1 992.6h0M187.4 1022.4h0M188 1000.3h0M188.2 1004.1h0M188.4 1022.5h0M188.8 1000.7h0M188.9 1022.7h0M189.2 1004h0M189.2 1002.8h0M189.4 1022.2h0M189.5 1022h0M189.7 1004.6h0M189.7 1005.5h0M190.1 1004.9h0M190.5 1004h0M191.1 1021.7h0M191.6 1003.7h0M191.7 1004.9h0M191.9 1022.6h0M192.5 1005.4h0M193.9 1007.6h0M194.8 1009.2h0M195 1011.8h0M195.4 1023.3h0M196.4 1012.8h0M196.8 1011.4h0M196.9 1023.3h0M198 1022h0M198.1 1023.2h0M198.9 1011.6h0M199.1 1009.2h0M199.7 1009.5h0M199.7 1022.6h0M199.9 1010.6h0M200.7 1008.6h0M201.3 1022.3h0M201.3 1008.6h0M202.3 1008.1h0M202.5 1021.6h0M203.3 1006h0M204.2 1021.2h0M204.2 1021.2h0M204.3 1021.3h0M204.7 1021.4h0M204.8 1007.1h0M205 1006.3h0M206.2 1022.6h0M206.2 1007.3h0M206.2 1022.7h0M206.5 1006h0M206.8 1013.1h0M207 1011.6h0M208 1023.5h0M208.5 1011.8h0M210 1011.1h0M210.3 1015.2h0M210.6 1014.4h0M211.4 1015.4h0M211.8 1014.1h0M212.1 1024.1h0M212.8 1013.8h0M213.9 1014.2h0M214.1 1014.1h0M214.5 1013.5h0M215.1 1013.7h0M215.5 1011.3h0M215.6 1023.7h0M216.1 1013.5h0M217.9 1013.8h0M218.1 1011h0M218.9 1012.5h0M219.5 1013.7h0M220.4 1024.7h0M220.5 1024.8h0M220.6 1014.8h0M221 1014.9h0M221 1024.9h0M222.3 1018.6h0M223.4 1019.8h0M223.6 1025.2h0M225.1 1025.4h0M225.2 1025.4h0M226.4 1020.4h0M226.8 1020.4h0M229 1021h0M230.4 1025.6h0M230.6 1025.7h0M232 1025.6h0M233.3 1025.3h0M235.5 1025.6h0M235.7 1021.2h0M236.7 1025.6h0M238.2 1021.1h0M238.2 1025.1h0M238.8 1025.1h0M239.8 1025.3h0M240.2 1025.2h0M240.5 1021.3h0M240.5 1025.7h0M241.6 1021.1h0M241.7 1021.2h0M241.7 1025.8h0M242.1 1025.8h0M242.7 1025.9h0M244.3 1020.6h0M245.4 1020.8h0M246.6 1025.8h0M246.7 1025.5h0M250.1 1026h0M250.3 1020.7h0M252 1026h0M252.5 1025.8h0M252.7 1021.3h0M253.4 1020.9h0M254.3 1021.2h0M254.9 1025.7h0M257.9 1021.6h0M259.1 1020.8h0M259.8 1026.3h0M260.2 1026.5h0M260.3 1020h0M260.4 1020h0M261.4 1021.1h0M262.7 1026.2h0M265 1021.5h0M266.5 1021.8h0M266.8 1022h0M268 1022.2h0M268.4 1022.2h0M271.8 1022.4h0M272.6 1022.5h0M276.1 1022.5h0M278.9 1022.7h0M279.9 1022h0M281.7 1021.6h0M282.4 1026.7h0M282.9 1022.1h0M283.1 1022.8h0M286.8 1022.2h0M287 1022h0M290.2 1022.5h0M291.2 1021.5h0M292 1026.9h0M292.2 1022.5h0M296.3 1022.4h0M297 1022.3h0M299.6 1022.6h0M299.6 1026.6h0M301.8 1022.7h0M305.4 1022.2h0M305.7 1027h0M308.1 1022.7h0M308.7 1022.5h0M310 1022.1h0M311.5 1026.7h0M312.7 1022h0M312.8 1022.1h0M313.1 1026.8h0M313.2 1022.3h0M314.5 1022.4h0M315 1022.5h0M316.3 1023.1h0M317.9 1022.9h0M321.5 1026.8h0M321.7 1023.1h0M322.4 1026.8h0M326.2 1026.7h0M327.4 1022.7h0M331.1 1027h0M331.1 1027.1h0M332.6 1026.8h0M333.9 1026.7h0M334.7 1022.5h0M335.7 1022.2h0M341.6 1022.2h0M343.5 1022.4h0M345.9 1022.5h0M346.7 1026.3h0M349.8 1026.7h0M350.3 1027.1h0M350.6 1021.5h0M350.9 1027h0M351.6 1021.6h0M351.8 1026.6h0M353.1 1022.4h0M353.3 1026.5h0M353.4 1022.5h0M358.6 1022.5h0M360.9 1021.2h0M362.6 1021.3h0M363.5 1021.7h0M365.3 1021.8h0M365.8 1021.8h0M366.9 1026.9h0M367.3 1026.6h0M367.9 1022.2h0M368.8 1026.5h0M369 1026.5h0M369.1 1021.7h0M370 1021.3h0M370.1 1026.5h0M371 1021h0M371.8 1021.7h0M371.9 1021h0M372.4 1026.7h0M372.8 1026.6h0M373.6 1026h0M376.2 1026.3h0M376.5 1021.7h0M376.5 1026.3h0M377.4 1021.4h0M379.6 1021.5h0M381.3 1020.6h0M381.5 1020.5h0M383.4 1020.9h0M389 1021.4h0M389 1026.2h0M389.8 1026.2h0M390.4 1021.4h0M392.2 1021.1h0M392.4 1021.2h0M392.7 1025.8h0M394.7 1026.2h0M396.8 1026h0M397.2 1025.8h0M398.2 1025.2h0M398.8 1025.3h0M400.4 1026.4h0M401.3 1026.2h0M404.1 1026.1h0M404.6 1020.7h0M404.8 1020.9h0M405.6 1021.1h0M405.9 1025.4h0M406 1021.3h0M406.2 1025.6h0M407.3 1021.4h0M407.6 1025.9h0M409.6 1025.8h0M410.3 1021.2h0M411.7 1021h0M412.1 1026.5h0M412.1 1026.4h0M413.8 1026h0M414.4 1025.4h0M415.9 1025.9h0M416.1 1025.9h0M416.7 1021.5h0M417.3 1021.3h0M417.4 1025.9h0M421 1021.3h0M422.5 1025.9h0M422.8 1025.9h0M425.4 1021h0M426 1026h0M428.5 1025.9h0M429.4 1026.2h0M429.9 1026.1h0M431.8 1025.3h0M432.2 1025.9h0M432.8 1020.9h0M433.3 1021.2h0M434.7 1021.2h0M437.5 1021.5h0M437.9 1025.5h0M438.7 1020.4h0M439.2 1025.8h0M439.5 1021.2h0M439.5 1019.9h0M440.3 1026.1h0M440.3 1026.1h0M442.5 1025.9h0M443.1 1025.4h0M444 1025.9h0M444.1 1020.8h0M445.6 1025.8h0M445.9 1026h0M446.3 1021.3h0M447.7 1025.9h0M447.8 1021h0M449 1025.7h0M450.1 1020.6h0M452.6 1020.4h0M453.2 1020.8h0M456.8 1025h0M459.5 1019.7h0M459.5 1020.2h0M460.9 1020.1h0M463 1024.8h0M463.7 1021.2h0M466.7 1019.8h0M466.9 1019.9h0M468 1020.3h0M468.5 1020.2h0M470 1020.7h0M470.5 1020.9h0M471.6 1021h0M473.1 1025.2h0M475.4 1020.7h0M475.4 1020.8h0M479.1 1019.9h0M479.2 1025h0M479.3 1019.8h0M479.9 1024.9h0M480.5 1024.7h0M481 1020.2h0M481.5 1024.7h0M482.5 1020h0M483.1 1025h0M485.4 1024.9h0M485.8 1025.2h0M486 1018.9h0M486.2 1018.7h0M486.8 1019h0M487.6 1018.2h0M490 1024.8h0M490.3 1024.8h0M490.4 1018h0M491.1 1024h0M491.4 1017.7h0M491.7 1024.5h0M493.1 1024.9h0M493.1 1015.9h0M494 1016.2h0M495.3 1017h0M496.8 1016.6h0M496.9 1024.9h0M497.4 1017.6h0M498.1 1018.7h0M500.3 1018.4h0M500.7 1017.9h0M501 1025h0M501.1 1018.2h0M502.1 1018.1h0M502.2 1018.3h0M505.5 1019.1h0M507.5 1024.9h0M508 1019.4h0M508.9 1019.1h0M510.1 1020.2h0M510.2 1020h0M510.5 1025.3h0M513.2 1019h0M513.2 1019.2h0M514.4 1018.7h0M515.9 1019.3h0M520 1019.7h0M521.5 1018.8h0M522 1025h0M522.4 1025h0M525 1019.7h0M526 1025.3h0M526 1020.5h0M527.3 1018h0M529.3 1020h0M530.2 1019.2h0M531.9 1024.9h0M532.1 1020.1h0M534.6 1024.6h0M535.1 1024.8h0M535.2 1019.2h0M538.6 1017.1h0M538.8 1017.1h0M539.6 1017.7h0M539.6 1017.6h0M542 1018.2h0M542.4 1025.8h0M544.4 1017.9h0M545 1016.4h0M545.6 1018.4h0M545.8 1018.2h0M546.9 1020.2h0M548.3 1025.6h0M549.9 1020.7h0M551.2 1020.1h0M551.6 1020h0M552.3 1026h0M554.8 1021.1h0M556.1 1020.5h0M557.9 1020.8h0M558.1 1025.4h0M558.1 1021h0M558.9 1025.5h0M560.2 1025.5h0M560.4 1020.4h0M562.2 1025.7h0M562.9 1025.5h0M563 1025.7h0M563.5 1019.2h0M564.6 1019.5h0M565.5 1020.1h0M566.5 1020.1h0M567.1 1019.3h0M567.6 1019.4h0M569.4 1025.8h0M569.8 1025.8h0M570.9 1019.1h0M571.8 1018.6h0M572 1018.8h0M573.6 1018.5h0M575.5 1018.3h0M576.9 1019h0M578.3 1019h0M579.5 1019.6h0M580 1025.6h0M581.4 1019.8h0M581.7 1019.6h0M581.9 1025.4h0M582.7 1025.5h0M582.9 1019.8h0M583 1019.2h0M584.3 1020.3h0M585.1 1025.2h0M585.6 1025.2h0M586.2 1025.1h0M591.9 1019.5h0M592.5 1019.6h0M596.6 1023.8h0M596.7 1024.3h0M597.8 1023.9h0M597.8 1023.3h0M599.3 1023.2h0M600.4 1022.1h0M600.5 1024.8h0M601.9 1025.1h0M602 1024.6h0M607 1022.2h0M607.8 1022.2h0M609.4 1020.3h0M609.5 1020.5h0M611 1021.1h0M614.1 1019.5h0M614.9 1018.8h0M616.1 1018.4h0M616.2 1018.9h0M617.9 1018.6h0M618 1018.6h0M618 1019.3h0M619.9 1019.3h0M620.8 1025.6h0M621.1 1019.7h0M621.2 1019.8h0M623.8 1019.5h0M624.9 1020.2h0M625.7 1025.8h0M625.8 1025.8h0M626.5 1020.8h0M627 1020.5h0M627.3 1025.8h0M627.9 1025.5h0M628.2 1021.1h0M631.3 1021.1h0M631.3 1021.2h0M631.8 1020.4h0M632.5 1025.6h0M633 1019.8h0M634.1 1019.7h0M634.2 1020h0M634.4 1020.5h0M634.4 1020.2h0M637.2 1020h0M637.9 1019.8h0M638.2 1019.7h0M638.5 1019.5h0M640 1019.1h0M641.1 1025.1h0M641.7 1017.5h0M645.3 1011.2h0M645.6 1024.4h0M646.6 1011h0M646.7 1009.7h0M646.8 1010.6h0M647.1 1010.5h0M648.6 1010.7h0M648.7 1009.7h0M649.6 1024.1h0M649.8 1002.9h0M650.4 1000.6h0M650.7 1008.7h0M651.6 1008.8h0M652.1 1004.2h0M652.2 999.2h0M652.7 996.4h0M652.8 995.2h0M653.1 1000.6h0M653.3 1000.2h0M653.9 1001.2h0M654.2 993.4h0M654.3 995.6h0M654.8 990.3h0M655 997.8h0M655.4 994.9h0M655.5 1022h0M655.9 1022.7h0M656 989.1h0M656 994.3h0M656.4 986.4h0M656.4 994.4h0M656.8 1019.8h0M657.4 979.1h0M657.8 985.7h0M657.8 1020.7h0M657.9 980.3h0M658 1020.6h0M658.4 985.2h0M658.5 978h0M658.7 987.6h0M659.3 1019.3h0M659.4 995.4h0M660 994.7h0M660 1019.6h0M660.3 989.6h0M660.5 995.5h0M660.9 1020.2h0M661 989.7h0M661.4 994.9h0M661.4 1020.5h0M661.9 997.3h0M662 997h0M662.3 992.3h0M663 998.3h0M663 997.4h0M663.1 998.4h0M663.4 997h0M663.9 996.9h0M664.2 1020.3h0M664.3 999.5h0M664.6 987.2h0M664.8 993.5h0M665.6 997.3h0M665.7 995.1h0M665.8 1021.3h0M666 996.7h0M666.1 994.1h0M666.2 1021.7h0M667.1 993.6h0M667.3 992.5h0M667.7 993.9h0M667.8 994.9h0M668.3 994.7h0M669 1019.7h0M669.1 992.5h0M669.1 992h0M669.2 991.9h0M669.3 989.6h0M670 1020.4h0M670.2 991.8h0M670.3 1020.5h0M670.4 984.8h0M670.4 987.6h0M670.6 978.7h0M670.7 992.2h0M670.9 987.8h0M670.9 1020.7h0M671.8 995.8h0M672 992.3h0M672.7 991.7h0M672.8 996.3h0M673.1 993h0M673.2 995.8h0M674 993h0M674.5 995.1h0M674.6 988.2h0M674.9 990.6h0M675.4 991.1h0M675.5 998.7h0M675.6 993.6h0M676 1000.3h0M676.3 998.7h0M677 1005.6h0M677.1 1005.1h0M677.3 1020.7h0M677.6 1001.7h0M678.8 1006.8h0M678.9 1007.4h0M679.9 1009.1h0M680.6 1007.7h0M681.1 1009.2h0M682.9 1022.4h0M683.4 1007.6h0M683.4 1008.8h0M684 1022.9h0M684.4 1010.2h0M685.3 1009.6h0M685.4 1023.4h0M686.2 1007.5h0M686.3 1009.7h0M686.8 1003.9h0M686.8 1023.3h0M687.7 1006.2h0M688.7 1005.3h0M689.1 1009.2h0M689.2 1023h0M690.3 1010.9h0M690.6 1011.9h0M691 1010.8h0M692.1 1010h0M692.2 1009.4h0M693 1024h0M693.8 1004h0M693.9 1024.5h0M695.3 1007.3h0M695.4 1024.5h0M695.6 1004.3h0M695.8 1004.5h0M697.3 1004.8h0M697.6 1010.2h0M698.9 1010h0M698.9 1009.5h0M700.5 1010.1h0M700.6 1023.2h0M701.1 1022.8h0M701.3 1002.5h0M701.6 996.4h0M701.9 1021.9h0M702.3 994.1h0M702.5 993h0M702.6 996.4h0M703 994.5h0M703 996.9h0M703.2 996.5h0M703.7 997.7h0M704.2 995.5h0M704.6 1000.1h0M704.8 996.4h0M705.2 1000.8h0M705.4 1020.7h0M705.8 1021.5h0M705.8 1021.5h0M706.1 997.5h0M706.2 995.5h0M706.4 998.4h0M706.9 1020h0M707.4 1001.4h0M707.5 998.5h0M707.6 1000h0M707.7 1020h0M708 1000.8h0M708.2 1019.4h0M708.2 1019.3h0M708.3 1000.2h0M708.4 1000.2h0M709 999.4h0M709.2 1000h0M709.3 996.2h0M709.4 997.8h0M709.6 1017.3h0M709.9 997.1h0M710.5 997.7h0M710.8 1016.4h0M710.9 997h0M711.3 996.1h0M711.6 997.9h0M711.7 995.7h0M711.8 993h0M712.2 1013.2h0M712.3 1013.8h0M712.3 993.8h0M712.4 991.3h0M712.9 992.1h0M713.5 991.9h0M714.1 991.9h0M714.2 1012.8h0M714.2 988.7h0M714.5 1011.8h0M714.8 1010.8h0M715 989.2h0M715.2 989.3h0M715.4 988.3h0M715.4 989.1h0M716.1 1010.5h0M716.4 1009.9h0M716.5 985.5h0M716.5 986h0M716.7 986.6h0M717.6 978.8h0M717.6 981.3h0M717.9 984.8h0M718 984.1h0M718.1 979h0M718.5 1009.3h0M718.6 1008.7h0M718.8 979.8h0M718.9 981h0M719.2 971.2h0M719.9 977.4h0M719.9 972.5h0M720 1007.8h0M720.1 972.8h0M720.5 1007.8h0M720.7 976.5h0M721.1 972.7h0M721.2 971h0M721.4 1006.5h0M721.6 1008.4h0M721.7 977.2h0M721.8 972.7h0M721.8 966h0M722.4 973.4h0M722.7 969.9h0M722.9 1008.6h0M722.9 1008.5h0M723.4 975.7h0M723.6 977.6h0M724.1 971.9h0M724.1 1010h0M724.5 982.4h0M725 981.5h0M725 979.8h0M725.7 971.8h0M725.9 973.8h0M726 973h0M726.3 971.5h0M726.5 1010.6h0M726.8 1010.9h0M727.1 978.9h0M727.2 1010.8h0M727.4 983.3h0M727.6 980.9h0M727.6 982.3h0M728.2 979.7h0M728.2 983.8h0M728.4 1010.7h0M729.1 982.2h0M729.3 1008.7h0M729.4 985.5h0M729.7 985.1h0M729.8 984.3h0M730.1 1010h0M730.4 983.1h0M730.9 986.5h0M731.6 983.4h0M731.6 978.6h0M731.7 1011.3h0M731.7 987h0M731.8 986.1h0M731.8 984.5h0M732.1 1012h0M732.4 984.7h0M732.9 982.6h0M733.4 968.5h0M733.5 981.9h0M733.6 987.3h0M733.6 985.1h0M734.3 993.7h0M734.8 993.5h0M734.9 985h0M735.9 983.8h0M736.7 989.2h0M736.7 991.4h0M737.1 1017.4h0M737.1 996.1h0M737.2 986.7h0M737.3 990.1h0M737.9 991.6h0M738 994.4h0M738 993.6h0M738.6 994.3h0M739.1 987.6h0M739.3 992.5h0M739.5 987h0M740.4 993.3h0M740.5 988.2h0M741.3 985.2h0M741.3 982.9h0M741.3 986h0M741.5 978.9h0M741.8 1017.5h0M741.9 1017.1h0M742.1 973.2h0M742.8 980.7h0M742.9 975h0M743 980.9h0M743.1 971.1h0M743.7 969.3h0M743.7 1015.9h0M743.8 962h0M744 965h0M744 968.1h0M744 1016.3h0M744.2 951.1h0M744.3 961.2h0M744.4 951.9h0M744.5 1016.2h0M744.6 967.1h0M744.8 1016h0M745.1 949.7h0M745.3 940.8h0M745.6 977.2h0M745.7 966.7h0M745.9 973.3h0M745.9 973.2h0M746 977.6h0M746.1 1018h0M746.2 969.8h0M746.9 975.1h0M747 983.6h0M747 978h0M747.1 978.5h0M747.3 976.3h0M747.5 974.2h0M747.7 1019.2h0M748 981h0M748.2 966.6h0M748.5 966.7h0M748.6 945.6h0M748.6 977.9h0M748.9 975.5h0M749.5 980.9h0M749.6 971.9h0M749.7 1019.9h0M749.7 985.6h0M749.8 982.7h0M750.1 991.6h0M750.6 1018.5h0M750.7 958.3h0M750.9 974.7h0M751.3 984.6h0M751.4 962.8h0M751.5 961.4h0M751.7 985.2h0M752 958.1h0M752.3 963.4h0M752.3 951.4h0M752.4 965.1h0M752.7 966.3h0M752.7 1018.3h0M752.9 958.3h0M753.2 954.3h0M753.7 950.9h0M753.8 957.9h0M753.9 1018.5h0M754 954.3h0M754.1 925.3h0M754.1 1018.9h0M754.2 958.7h0M754.3 951.5h0M754.6 954.8h0M754.7 949.5h0M754.7 956.4h0M754.9 1019.6h0M754.9 951h0M755.4 1016h0M755.5 947.8h0M755.7 932.6h0M755.9 965.8h0M756 963.6h0M756.1 961.4h0M756.2 950.5h0M756.2 960.4h0M756.5 1017.2h0M757.1 977.7h0M757.1 985.7h0M757.3 1017.7h0M757.3 1017.7h0M757.5 961.1h0M757.5 948.7h0M757.7 981h0M758 971h0M758.2 952.4h0M758.3 1016.8h0M758.5 913.2h0M758.5 943.3h0M758.5 957.7h0M758.8 953.7h0M758.9 1016.8h0M759.1 954h0M759.3 963.5h0M759.6 959h0M759.8 1017.5h0M760 963.3h0M760 963.7h0M760.1 962.7h0M760.4 943.7h0M760.5 1016.8h0M760.6 977.7h0M760.6 1016.3h0M760.8 975.9h0M760.9 969.2h0M761 975.3h0M761 975.9h0M761.4 975.9h0M761.8 968.6h0M762.1 973.4h0M762.2 1017.2h0M762.4 976.1h0M762.4 1017.2h0M762.8 979.3h0M763.1 986.6h0M763.3 1017.8h0M763.5 987.9h0M763.6 985.1h0M764 990h0M764.3 991.3h0M764.3 994.6h0M764.4 987.5h0M764.5 993.7h0M765.2 1018.1h0M765.6 1017.9h0M765.7 994.9h0M766.5 992h0M766.6 991.8h0M766.6 994.5h0M767.5 990.1h0M767.6 989.6h0M767.7 993.9h0M767.7 994.4h0M768.1 993.6h0M768.2 993.5h0M768.4 988.4h0M769 992h0M769.6 993.2h0M769.7 989.9h0M770.2 995.9h0M770.3 1019.3h0M770.3 990.3h0M770.5 997.4h0M770.7 998.1h0M771.4 992.1h0M771.8 999.3h0M771.8 997.9h0M772.9 1001.2h0M773 999.1h0M773.7 998.9h0M773.7 997.2h0M773.8 1020.2h0M773.9 999.1h0M774.4 996.5h0M774.7 997.5h0M774.7 994h0M774.7 1020.2h0M774.8 997.1h0M775.6 1003.6h0M776.4 1003.5h0M776.4 1019.5h0M776.6 995.9h0M776.6 1000.3h0M777.3 999h0M777.5 1020h0M777.7 1000.1h0M777.9 996.7h0M778.1 992h0M778.6 1018.2h0M778.9 992.1h0M779.1 1018.7h0M779.2 992.1h0M779.2 992.5h0M779.9 1017.4h0M780 973.4h0M780.1 979.3h0M780.4 980.9h0M780.5 986.4h0M780.9 1017.8h0M781.1 1017.1h0M781.3 984.1h0M781.4 980.5h0M781.7 969.3h0M781.7 983.6h0M782 1018.4h0M782.4 972.1h0M782.4 971.9h0M782.4 973.9h0M782.5 968.1h0M783.1 1017.4h0M783.2 983.5h0M783.3 982.9h0M783.4 1016.6h0M783.8 983.6h0M784.2 982.7h0M784.4 972.1h0M784.6 975.9h0M784.9 1014.2h0M785.1 1012.8h0M785.2 970.6h0M785.2 978.2h0M786 983.6h0M786.1 973.2h0M786.1 981.8h0M786.2 979.4h0M786.4 1015h0M786.9 989.4h0M787.1 1016.7h0M787.3 989.1h0M787.6 989.2h0M787.6 985.6h0M787.7 1017h0M788 1016.7h0M788.2 988.4h0M788.4 988.4h0M788.6 988.3h0M789 991.8h0M789.2 1017h0M789.5 972.1h0M789.9 987.8h0M790.2 989.7h0M790.2 984.6h0M790.9 1017.5h0M791.1 993.7h0M791.3 991.5h0M791.3 993.4h0M791.5 987.9h0M792 988.8h0M792.5 989.8h0M792.6 990.5h0M793.6 987.9h0M793.7 984.3h0M793.7 986.3h0M793.8 984.5h0M794.4 988.2h0M794.5 989.1h0M794.5 1018.1h0M794.5 987.5h0M795.2 984.3h0M795.6 988.6h0M796 990.8h0M796 987.5h0M796.2 1018.1h0M796.2 1018.1h0M796.3 992.4h0M797 993.5h0M797.1 1017.4h0M797.2 992.5h0M797.9 996.2h0M798 992.9h0M798 1016.9h0M798 992.7h0M798.4 994.4h0M798.7 987.8h0M799.2 987.8h0M800.1 990.6h0M800.1 989.6h0M800.3 983.3h0M800.4 991.4h0M800.5 1018.1h0M800.6 985.9h0M800.7 1017.5h0M800.8 984.3h0M801.4 990.1h0M801.8 1016.5h0M801.9 984.8h0M801.9 984.6h0M802 983.3h0M802.7 983.8h0M803 985.6h0M803.2 986.3h0M803.4 1015.6h0M803.5 988.5h0M804.6 985.5h0M804.9 985.8h0M805.4 980.8h0M805.6 978.9h0M805.9 1014.7h0M806.4 979.8h0M806.5 975.9h0M806.6 973.1h0M807.1 1014h0M807.2 969.9h0M807.3 977.8h0M807.8 977.7h0M807.9 972.7h0M808.2 968.1h0M808.4 965.4h0M808.5 964.7h0M809 1016.6h0M809.2 968.8h0M809.3 1016.9h0M809.4 974.2h0M809.6 970.3h0M809.9 974.7h0M810 970.2h0M810 1016.9h0M810.7 968.3h0M810.9 971.1h0M811.4 968.4h0M812.1 988h0M812.4 978.1h0M812.4 984.6h0M812.8 986.2h0M813 985.8h0M813.2 990.1h0M814 990.3h0M814.2 989.9h0M814.4 987h0M814.5 989.3h0M814.6 988.6h0M815 1015.1h0M815.4 988.6h0M815.7 1015.1h0M816 989.5h0M816 988.4h0M816 985.8h0M816.3 988.4h0M816.8 1015.7h0M816.9 987h0M817 988.1h0M817.5 986h0M817.7 983.9h0M818.1 988.5h0M818.3 1015.4h0M818.5 982.7h0M818.7 1014h0M819.1 986.3h0M819.1 989.6h0M820 966.6h0M820 982.6h0M820 981.4h0M820.1 981.2h0M820.3 1014.6h0M820.4 1014.7h0M820.9 974.6h0M820.9 978.5h0M821.2 1014.3h0M821.3 972.2h0M821.3 964.9h0M821.6 1014.7h0M821.9 982h0M822 986.4h0M822.3 980.9h0M822.3 983.9h0M823 1015.3h0M823 978.6h0M823.1 986.1h0M823.4 986.7h0M823.8 984.6h0M824.3 990.3h0M824.4 990.2h0M824.9 987.7h0M825.1 993.7h0M825.6 997.9h0M825.7 997.9h0M826.2 996.2h0M826.6 997h0M826.7 1015.5h0M827.6 988.6h0M827.8 986.5h0M827.8 988.5h0M827.9 991.1h0M828.4 988.4h0M828.6 986.5h0M828.6 1016.3h0M828.7 987.8h0M829.7 986.3h0M829.9 982.7h0M830.2 986.1h0M830.2 987.6h0M830.5 986.8h0M830.5 1015.6h0M830.5 985.5h0M830.7 987.4h0M831.2 985.2h0M831.6 1015.1h0M832.1 1015.6h0M832.6 984.1h0M832.7 981.4h0M832.7 974.9h0M832.9 1015.5h0M833.7 1015.9h0M833.9 963.7h0M834.3 971.3h0M834.7 974.1h0M834.7 1015.4h0M834.8 1015.2h0M834.8 969.8h0M835 965.7h0M835.1 971.1h0M835.1 973.4h0M835.5 1012.8h0M835.7 1013.3h0M836 964.6h0M836.1 965.8h0M836.5 961.3h0M836.6 961.6h0M836.6 966.1h0M836.6 964.7h0M836.8 962.7h0M836.8 1012.6h0M837 963h0M837 1013.2h0M837.2 967.7h0M837.2 962.5h0M837.3 958h0M837.4 962.3h0M838.3 1012.2h0M838.5 965.5h0M838.7 961.2h0M838.9 964.7h0M839 960.8h0M839 965.3h0M839.1 963.8h0M839.1 1013.8h0M839.5 959.6h0M839.7 1012.5h0M839.7 1012.6h0M839.9 959h0M840.2 960.5h0M840.3 947.9h0M840.5 960.3h0M840.5 963.6h0M840.7 1010.3h0M840.7 953.6h0M840.9 958.4h0M841 1011.2h0M841.2 946.3h0M841.3 962.1h0M841.3 962.5h0M841.8 964h0M841.8 964.4h0M841.8 962.6h0M842.2 966.1h0M842.4 946.8h0M842.8 1013.6h0M842.9 964.1h0M843.2 1013.8h0M843.3 971.8h0M843.4 968.2h0M843.6 970.8h0M843.6 974h0M843.9 971.3h0M844.2 970.7h0M844.5 968.8h0M844.5 1012.8h0M844.5 1012.6h0M844.5 966.1h0M844.6 963.1h0M844.7 968.8h0M845 955.3h0M845.4 948h0M845.7 963.4h0M845.9 958.6h0M846 958.7h0M846.1 961.7h0M846.3 944.3h0M846.6 957.6h0M846.9 1009.7h0M846.9 971.7h0M846.9 969h0M847 957.9h0M847.2 968.3h0M847.3 963.8h0M847.3 971.3h0M847.8 1010.7h0M848.2 963.1h0M848.6 966.7h0M848.6 1011h0M848.8 957h0M848.8 1009.9h0M848.9 967.1h0M849 963.5h0M849.2 960h0M849.3 954.9h0M849.8 945.9h0M849.8 940.3h0M849.8 964.5h0M849.9 1013.3h0M850 1013.4h0M850.3 958.5h0M850.3 952.1h0M850.6 1012.6h0M850.7 943.2h0M850.9 963h0M851.2 963.8h0M851.5 1010.9h0M851.5 968.7h0M851.7 968.8h0M851.9 1010.6h0M852.3 968.1h0M852.5 965.7h0M852.8 1010.3h0M852.9 960.7h0M852.9 963.3h0M852.9 966.5h0M853 965.4h0M853.5 963.6h0M853.5 1009.3h0M853.6 1010.2h0M853.8 964.6h0M854 963h0M854.2 953.9h0M854.2 964.6h0M854.4 959.4h0M854.6 959.6h0M854.8 949.6h0M855.1 950h0M855.3 959.6h0M855.4 1007.2h0M855.5 951.1h0M855.6 961.1h0M855.8 957.8h0M855.9 965.1h0M856.5 959.8h0M856.5 1008.4h0M856.5 966.3h0M856.6 966.3h0M856.8 967.5h0M856.9 968.7h0M856.9 975.7h0M857 973.6h0M857.8 974.9h0M857.9 1008.4h0M858 973.2h0M858 1007.9h0M858.3 978.9h0M858.3 1009h0M858.3 978h0M858.4 978h0M858.5 971.6h0M858.7 978.4h0M859 1009.4h0M859.2 966.8h0M859.4 976.3h0M859.6 974.6h0M860 979.1h0M860.1 948.5h0M860.4 976.8h0M860.4 1009.8h0M860.5 977.1h0M860.9 958.1h0M861 950.5h0M861 958.9h0M861.2 962.7h0M861.3 949.8h0M861.5 960.1h0M862 1006.9h0M862.1 956.1h0M862.2 942.3h0M862.2 1008.3h0M862.4 951.4h0M862.9 956.3h0M862.9 941.6h0M863 949.3h0M863.1 939h0M863.4 1000.6h0M863.4 935.3h0M863.6 940.6h0M863.7 935.3h0M863.8 938.9h0M863.9 998.1h0M864.1 939h0M864.3 1000.4h0M864.4 936.2h0M865.2 935.4h0M865.2 927.9h0M865.3 998.1h0M865.3 936.4h0M865.5 934.5h0M865.6 938h0M865.7 936.9h0M865.9 937.5h0M866 935.2h0M866 935.9h0M866 1006.1h0M866.1 999.5h0M866.2 934.2h0M866.8 943.1h0M867 944.9h0M867.1 946.4h0M867.2 1011.5h0M867.3 944.5h0M867.3 946.1h0M867.8 998.9h0M867.9 941.7h0M868.1 957.2h0M868.1 960h0M868.2 1012.2h0M868.4 960.4h0M868.9 959.4h0M869 1010.9h0M869.3 975.8h0M869.3 962.2h0M869.3 976h0M869.4 971.5h0M869.4 976.1h0M869.4 957.7h0M869.8 1012.2h0M870.5 1012h0M870.7 977.3h0M870.8 974.8h0M870.9 984.8h0M871.1 984.1h0M871.6 1014.6h0M871.6 985.4h0M871.7 982.6h0M871.8 984h0M872 981.8h0M872 987.9h0M872.2 987.3h0M872.6 1015.5h0M872.7 1015.6h0M873.3 993.7h0M873.4 1017.4h0M873.7 986.2h0M874.1 985.5h0M874.1 984.3h0M874.2 1018.4h0M874.4 989.4h0M874.7 1017.5h0M874.9 985.6h0M875.4 983.7h0M876 981.8h0M876.1 1015.9h0M876.2 981h0M876.3 977.6h0M876.4 1016.1h0M876.4 983.6h0M877.1 979.3h0M877.5 1014.8h0M877.5 1015.1h0M877.6 978.2h0M877.6 980h0M877.9 981.1h0M878.1 977.4h0M878.1 1014.3h0M878.6 978.9h0M878.8 977.6h0M878.9 979h0M879.1 1014.5h0M879.6 983.8h0M880 1015h0M880.1 978.9h0M880.5 981.1h0M880.7 980.1h0M881 983.1h0M881.5 1015.3h0M881.5 978.5h0M881.9 1014.4h0M882.3 976.1h0M882.4 978h0M882.4 1014.5h0M882.5 980.1h0M882.7 975.9h0M883 983.3h0M883.1 984.9h0M883.4 982.8h0M883.6 1016.7h0M883.7 985.4h0M885 986.9h0M885 986.2h0M885.3 987.3h0M885.4 986.9h0M885.5 1014.6h0M885.5 987.4h0M885.6 985.2h0M886 1015h0M886.1 984.7h0M886.1 985.1h0M887.1 990.9h0M887.5 990.5h0M887.5 1015.3h0M888 990.2h0M888.3 989h0M888.6 1017.1h0M889 988.4h0M889 1017.1h0M889.2 977.7h0M889.3 1017.3h0M889.6 983.9h0M890.1 1017.5h0M890.2 982.9h0M890.3 980h0M890.4 975h0M890.6 979.3h0M891.3 981.7h0M891.5 1018.4h0M891.7 1018.2h0M891.7 972.7h0M892.1 988.5h0M892.4 990.7h0M892.4 990.9h0M892.4 1019.4h0M892.7 1018.9h0M893.4 996.3h0M893.5 1018.4h0M893.6 989h0M893.7 997.7h0M894.1 1018.6h0M894.2 996.8h0M894.4 988.1h0M894.5 991.1h0M894.8 1019.1h0M895.1 985.7h0M895.2 994.2h0M896.1 1019.3h0M896.3 998.2h0M896.5 997.7h0M896.7 997.6h0M896.9 1019.8h0M897.7 983.2h0M897.8 983h0M897.9 1020.1h0M898 978.8h0M898.1 977.8h0M898.3 981.2h0M898.5 972.6h0M899 1019.5h0M899.1 969.8h0M899.6 968.2h0M899.7 1016.5h0M899.7 1018h0M899.8 969.8h0M900.1 975.9h0M900.3 972h0M900.4 975.8h0M900.4 960.1h0M900.6 963.5h0M900.7 1014.2h0M901 952.1h0M901.3 954.2h0M901.4 963.2h0M901.5 937.6h0M901.5 957.6h0M901.8 965.9h0M901.8 944.9h0M902 962.2h0M902.2 963.3h0M902.4 1015.2h0M902.4 962.8h0M902.6 966.7h0M902.8 1015.3h0M903.5 971.2h0M903.5 1014.9h0M903.5 1014.7h0M903.6 966.9h0M903.6 968.9h0M903.9 965.1h0M903.9 968.1h0M904.4 930.3h0M904.6 940.7h0M904.9 931.3h0M905.1 1013.4h0M905.1 931.5h0M905.1 1013.6h0M905.2 946.4h0M905.3 952.6h0M905.8 1016.3h0M905.8 944.4h0M906 940.9h0M906.1 949.9h0M906.3 952.9h0M906.6 952.3h0M906.6 930.8h0M906.9 957.3h0M907 1013.5h0M907.1 960.8h0M907.4 957.6h0M907.5 957.7h0M907.6 947h0M907.9 1014.9h0M907.9 957.9h0M908.1 956.1h0M908.4 959.2h0M908.4 953.2h0M908.7 1016.1h0M908.9 955.4h0M909.1 947.6h0M909.2 1015h0M909.2 939.2h0M909.5 955.8h0M909.9 948.4h0M909.9 938.7h0M910.1 951.6h0M910.2 949.8h0M910.3 959.8h0M910.5 947.1h0M910.8 948.8h0M910.9 958h0M911 973.2h0M911.2 973.3h0M911.5 972.5h0M911.7 1015.7h0M911.8 958.9h0M911.9 971.2h0M912 974.9h0M912.4 1018.1h0M912.8 964.6h0M912.9 1017.6h0M912.9 966.6h0M913 973.5h0M913.2 973h0M913.5 955.3h0M913.5 980.6h0M913.5 982.7h0M913.6 1018.2h0M913.6 949.1h0M913.9 1018.2h0M913.9 972.1h0M914.6 973h0M914.8 976.7h0M915.1 965.2h0M915.2 975.2h0M915.3 965.3h0M915.3 976.5h0M915.4 1018.4h0M915.9 1019.2h0M916.2 976.4h0M916.3 977.3h0M916.3 975.5h0M916.3 974.6h0M916.5 975.8h0M916.6 975.8h0M916.9 979.9h0M916.9 975.7h0M917 980.2h0M917.2 979.8h0M917.3 1019.1h0M917.6 1018.6h0M917.8 978h0M918 1017.7h0M918.1 1018h0M918.4 975.4h0M918.6 979.1h0M918.8 978.7h0M918.9 976.8h0M919 979h0M919 970.2h0M919.5 980.2h0M919.5 972.2h0M919.8 972.7h0M919.9 978.3h0M920.2 975.8h0M920.2 1014.9h0M920.3 976h0M920.3 1015.8h0M920.6 978.2h0M920.6 976.2h0M920.9 969.4h0M921 975.4h0M921.8 990.7h0M922 980.6h0M922.6 988.9h0M922.6 1019.9h0M922.6 990.5h0M923.1 976.1h0M923.1 989.8h0M923.2 983.3h0M923.5 975.2h0M925 975.6h0M925 992h0M925.2 988.1h0M925.5 991.9h0M926.4 1019.2h0M926.5 985.4h0M926.6 990.4h0M926.6 988.9h0M926.7 990.9h0M926.8 996.5h0M927.2 994h0M927.2 981.5h0M927.5 1019.6h0M927.8 998h0M928.1 1020.5h0M928.2 991.9h0M928.3 988.6h0M928.7 990.5h0M929.4 984.3h0M929.5 986.9h0M929.9 992h0M930.3 988.8h0M930.6 992.7h0M931.1 991.8h0M931.4 989.4h0M931.9 1021.3h0M932 1001.4h0M932 989.5h0M932 1021.4h0M932.4 994.6h0M932.6 997.9h0M933.3 1001.7h0M933.4 1001.1h0M933.8 999.5h0M934 1000.2h0M934 1020.1h0M934.3 1004.2h0M934.9 997.1h0M934.9 1002h0M935.4 1020.5h0M936.2 1004.3h0M936.3 1004.3h0M936.6 1005h0M936.7 1020.6h0M937.1 1006.2h0M938 1021.3h0M938.3 1005.2h0M938.7 1005.1h0M939.1 1021.5h0M939.9 1003.7h0M940.5 1006h0M940.8 1022h0M941.3 1005.6h0M942 1009.4h0M942.5 1022.2h0M942.6 1007.2h0M943.6 1009.7h0M944.2 1009.7h0M944.3 1010.5h0M944.3 1010.7h0M945.7 1022.3h0M946.1 1022.3h0M946.3 1012.9h0M946.6 1011.9h0M946.8 1013.3h0M947.7 1013.3h0M949.1 1010.9h0M949.3 1012.6h0M949.6 1012.3h0M950.5 1010.7h0M951.2 1022.1h0M951.9 1013.8h0M952.7 1022h0M952.8 1022h0M953.2 1022h0M954.2 1010.3h0M955.3 1004.4h0M955.4 1002.7h0M955.8 1020.4h0M956 994.5h0M956.4 994.3h0M956.9 1018h0M957 990.2h0M957 1018.3h0M957.2 991.3h0M957.4 991.2h0M957.9 991.4h0M958.1 984.2h0M958.4 983.4h0M958.8 1017.8h0M959.1 984.8h0M959.2 973.2h0M959.3 977.1h0M959.8 981.5h0M959.9 978.8h0M960.6 987.3h0M961 990h0M961.1 989.5h0M961.2 988.8h0M961.5 1019h0M961.5 1019h0M962.4 1001.5h0M962.7 1001.1h0M962.8 999.4h0M962.8 1001.4h0M964.2 999.5h0M964.2 998.7h0M964.5 1003.3h0M964.8 1002.2h0M966.2 1001.3h0M966.2 993.8h0M966.7 1019.6h0M967.5 1019.5h0M967.6 1003.8h0M967.7 1005.2h0M968.4 1019.6h0M969 1001.1h0M969.1 1002.4h0M969.4 996.2h0M969.8 997.4h0M970.4 1000.9h0M970.7 996.2h0M970.9 998.4h0M971.2 996.8h0M971.3 989.6h0M971.8 994.9h0M972.1 996.7h0M972.2 1019.5h0M972.2 1019.3h0M972.5 996.5h0M973 998.3h0M973.3 989.9h0M973.3 987.9h0M973.9 988.5h0M974.1 1019.8h0M974.1 989.2h0M974.4 1019.8h0M974.5 988.7h0M974.7 1019.5h0M974.7 984.5h0M975 983.2h0M975.1 990.9h0M975.5 1017.9h0M975.8 995.1h0M976 1017.9h0M976.2 995.5h0M976.2 997.4h0M976.7 997.5h0M976.8 991.9h0M977.1 992.8h0M977.8 985.8h0M977.9 992.8h0M978.3 993.7h0M978.4 994.9h0M978.5 987.7h0M979.2 995.7h0M979.4 988.2h0M979.7 991.4h0M980 990.9h0M980.9 994h0M980.9 994.7h0M981.3 995.2h0M981.6 991.8h0M981.8 999.7h0M981.9 1000.2h0M981.9 998.5h0M982 996.2h0M982.9 1019.3h0M983 995.2h0M983.2 998.8h0M983.3 998.5h0M984 1000.2h0M984.3 1002.2h0M984.4 1001.8h0M984.6 1001.5h0M985 1001.3h0M985.5 999.5h0M985.8 1000.5h0M985.8 1001.8h0M986 1020h0M986.3 1019.7h0M986.6 1000.6h0M986.8 1019.1h0M986.9 1001.1h0M986.9 1003.4h0M987.1 1018.8h0M987.8 1002.3h0M988 1004.1h0M988.1 1004.2h0M988.3 1001.1h0M988.9 1004.5h0M989.2 1019.4h0M989.6 998.5h0M989.7 1003.8h0M990.1 1003.5h0M990.3 1019.2h0M990.9 997.4h0M991.3 998.6h0M991.8 1006h0M991.9 1004.6h0M993.2 1008.7h0M995.1 1008.1h0M995.2 1007.4h0M995.7 1004.2h0M995.8 1019.3h0M995.9 1019.3h0M996.4 1003.9h0M996.8 1003.8h0M998.5 1018.5h0M999.2 1001.3h0M999.6 998.5h0M999.8 1018.3h0M999.9 1017.7h0M1000.4 1001.1h0M1001.6 999.2h0M1001.7 998h0M1001.7 989.7h0M1001.7 1017h0M1002.1 991h0M1002.6 994.8h0M1002.6 996.5h0M1003.7 1016.4h0M1003.8 994.5h0M1003.9 994h0M1003.9 1016.3h0M1004 994.6h0M1004.2 993.8h0M1005.2 990.6h0M1005.4 1015.4h0M1005.4 990.7h0M1005.7 991h0M1005.7 988.8h0M1006.5 983.8h0M1006.5 986.2h0M1006.5 1015.8h0M1006.9 988h0M1007.3 990.1h0M1007.5 1015.8h0M1007.8 988.1h0M1007.9 1015.7h0M1008.4 1015.2h0M1008.5 985h0M1008.6 985.1h0M1009 983.1h0M1009.2 982.7h0M1010.3 979.6h0M1010.3 979.2h0M1010.4 978.8h0M1010.8 1011.6h0M1010.9 963.6h0M1011 966h0M1011 1011.9h0M1011.3 963.1h0M1011.6 963h0M1011.6 961.6h0M1011.6 962.6h0M1011.8 954.2h0M1012 954.1h0M1012.1 950.2h0M1012.6 1011.7h0M1012.6 944.6h0M1012.6 957.2h0M1012.8 949.6h0M1013.1 934.3h0M1013.4 1009.5h0M1013.5 1009.3h0M1013.5 939.1h0M1013.6 943.6h0M1013.8 942.7h0M1014 918.7h0M1014.4 949.3h0M1014.4 1010.3h0M1014.4 952.3h0M1014.5 956.4h0M1014.5 946.4h0M1014.9 952.7h0M1015.5 1011.4h0M1015.6 963.7h0M1015.8 962.3h0M1015.9 963.3h0M1015.9 948.8h0M1016 958.4h0M1016.4 952.6h0M1016.6 1011.5h0M1017 960.5h0M1017.2 1010.7h0M1017.3 967.1h0M1017.3 974.8h0M1017.5 972h0M1017.5 961.1h0M1017.7 973.2h0M1018.1 948h0M1018.6 966.2h0M1018.7 949.1h0M1018.7 946.4h0M1018.7 967.1h0M1019 1010.5h0M1019.2 966h0M1019.3 973.6h0M1019.4 964.8h0M1019.4 974.5h0M1019.8 1011.6h0M1019.9 975.4h0M1019.9 973.7h0M1019.9 973.6h0M1020.3 1011.8h0M1020.5 988.1h0M1020.7 983.4h0M1021.1 982.1h0M1021.1 983.6h0M1021.4 986.2h0M1021.5 981.5h0M1021.7 1013.3h0M1021.8 984.4h0M1021.9 982.5h0M1022.3 981.8h0M1022.6 984.4h0M1022.8 1016h0M1022.9 1016.2h0M1023.2 979h0M1023.4 984.1h0M1023.5 1017.2h0M1023.8 976.4h0M1023.8 980.1h0M1024.5 995.1h0M1024.7 994h0M1024.8 993.2h0M1025.2 1017.8h0M1025.3 1018h0M1025.5 988.1h0M1026.5 984.7h0M1026.5 989.8h0M1026.7 987.7h0M1026.9 1017.3h0M1027.3 1017.1h0M1027.4 970.2h0M1027.6 965.1h0M1027.7 970.7h0M1027.8 965.3h0M1028.3 1017.5h0M1028.4 983.7h0M1028.7 978.1h0M1029.1 981.3h0M1029.2 977h0M1029.3 976.5h0M1029.6 982.4h0M1029.8 986.8h0M1030.1 986h0M1030.5 1017.3h0M1030.7 976.1h0M1030.9 961.5h0M1031.1 962.3h0M1031.6 1017.8h0M1031.6 1018.4h0M1031.7 976.3h0M1032.1 1018.6h0M1032.3 985h0M1032.3 987.7h0M1032.5 983.3h0M1032.8 987.5h0M1033.1 990.3h0M1033.1 979.4h0M1033.3 1018.8h0M1033.8 985.5h0M1033.8 983h0M1034.1 989.7h0M1034.1 982.6h0M1034.5 985.9h0M1034.8 986.7h0M1034.8 1017.1h0M1034.9 1017h0M1034.9 987.2h0M1034.9 984h0M1035 983.4h0M1035.2 984.7h0M1035.5 1017h0M1035.7 1016.7h0M1035.8 981.4h0M1035.9 980.5h0M1036.3 983.7h0M1036.7 982.1h0M1037 980.9h0M1037.2 983.6h0M1037.6 981.1h0M1037.7 979.3h0M1038.6 983.7h0M1038.6 984.4h0M1038.7 1017.4h0M1038.8 984.8h0M1038.8 980.4h0M1039 1017.2h0M1039.6 985.4h0M1039.8 987.1h0M1039.9 984.5h0M1040.2 985.1h0M1040.2 1019.7h0M1040.6 986.6h0M1040.7 985.9h0M1041 977.9h0M1041.1 986.1h0M1041.4 1018.3h0M1041.7 1018.5h0M1042 989.1h0M1042.3 990h0M1042.6 989.7h0M1042.7 987.1h0M1043 987.8h0M1043.2 986.5h0M1043.3 1019.8h0M1043.7 1019.6h0M1043.8 990h0M1043.8 969.7h0M1043.9 983.8h0M1044 977.3h0M1044.4 1018.1h0M1044.5 971.1h0M1044.7 1018.2h0M1045.2 979.2h0M1045.3 970h0M1045.4 979.5h0M1045.4 978.4h0M1045.5 979.7h0M1045.8 958.2h0M1045.9 967.6h0M1046.5 968.7h0M1046.6 953.5h0M1046.7 1018.7h0M1046.7 966.6h0M1046.9 1019.7h0M1047.2 975h0M1047.3 978.6h0M1047.3 975.6h0M1047.3 978.7h0M1047.3 978.3h0M1047.8 973.5h0M1048 967.3h0M1048.2 1017.6h0M1048.3 975.4h0M1048.5 953.3h0M1048.7 967.1h0M1049.2 966.2h0M1049.2 972h0M1049.3 980.5h0M1050.1 977.5h0M1050.1 980.1h0M1050.3 1016.4h0M1050.3 981.5h0M1050.3 982.9h0M1050.5 980.3h0M1050.6 979h0M1050.7 976.1h0M1050.7 1018h0M1051.3 978.5h0M1051.6 974.7h0M1051.6 971.2h0M1051.7 1018.6h0M1051.7 960.9h0M1052.2 952.1h0M1052.2 943.7h0M1052.4 961.7h0M1052.8 952.9h0M1052.9 947.6h0M1053 957.1h0M1053 1020.2h0M1053 968.5h0M1053 967.1h0M1053.4 1019.8h0M1053.8 1020.5h0M1053.8 962.2h0M1053.9 967.9h0M1054.2 927.6h0M1054.2 961.5h0M1054.3 1018.1h0M1054.5 1018.3h0M1054.5 968.3h0M1054.9 963.6h0M1054.9 967.8h0M1054.9 963.1h0M1055.2 953.7h0M1055.3 961.6h0M1055.7 1016.7h0M1055.9 957.9h0M1055.9 1016.8h0M1056 941.6h0M1056.2 953.9h0M1056.3 957.8h0M1056.4 958.6h0M1056.6 960.3h0M1056.8 979.5h0M1056.9 979.1h0M1056.9 979.8h0M1056.9 949.3h0M1057 1018.6h0M1057.1 1018.6h0M1057.4 980.4h0M1057.8 976.3h0M1058.3 1017.9h0M1058.6 967.4h0M1059 974h0M1059.1 975.5h0M1059.2 973.7h0M1059.2 972.6h0M1059.2 968.6h0M1059.8 1017h0M1059.9 955.1h0M1060.2 961.1h0M1060.3 962.2h0M1060.3 965.4h0M1060.3 965.9h0M1060.4 965.4h0M1060.5 1017.7h0M1060.6 964.3h0M1060.7 970.5h0M1060.9 947.5h0M1060.9 1017.4h0M1061 1015.9h0M1061.2 951.2h0M1061.6 971h0M1061.6 963.1h0M1062 965.1h0M1062.2 965.2h0M1062.2 967.2h0M1062.3 970.6h0M1062.4 972.4h0M1062.5 1016.9h0M1062.6 960.7h0M1063.2 1016.1h0M1063.3 967.6h0M1063.5 970.3h0M1063.6 968.1h0M1063.9 962.8h0M1063.9 1020.4h0M1063.9 976.8h0M1064 969.5h0M1064.4 974h0M1064.5 972.3h0M1064.9 967.8h0M1065.1 1020.2h0M1065.2 978.3h0M1065.3 967h0M1065.4 1020.4h0M1065.4 976.7h0M1065.7 1020.5h0M1066.1 979.4h0M1066.1 959.8h0M1066.1 968.1h0M1066.2 975.9h0M1066.5 1019.4h0M1066.6 966.3h0M1066.7 976.2h0M1066.9 979.4h0M1067 1019.5h0M1067 966.9h0M1067.5 977.1h0M1067.6 1019.7h0M1068.1 972.6h0M1068.5 981.9h0M1068.5 1018.5h0M1068.6 1018.8h0M1069.3 979.6h0M1069.7 980.5h0M1069.8 980h0M1070.1 1019.3h0M1070.1 981.5h0M1070.4 1019.3h0M1070.6 1020.1h0M1070.7 983.6h0M1071.1 985.7h0M1071.6 985.3h0M1071.7 986.2h0M1071.7 1018.8h0M1071.8 988h0M1072.5 988.5h0M1072.8 989h0M1072.8 986.1h0M1073.2 986.6h0M1073.4 987.8h0M1073.9 987.5h0M1074.2 1019.3h0M1074.3 981.8h0M1074.5 1019.6h0M1075 992.8h0M1075.2 992.7h0M1075.2 993.1h0M1075.5 1019.9h0M1075.6 991.3h0M1075.7 994h0M1076.3 987.9h0M1076.8 977.8h0M1076.9 1019.6h0M1077 993h0M1077.1 992.6h0M1077.5 993.1h0M1078.1 984.3h0M1078.2 984.6h0M1078.3 990.2h0M1078.4 1019.9h0M1079.1 990.3h0M1079.1 984h0M1079.1 979.8h0M1079.1 1019.9h0M1079.5 962.1h0M1079.9 989.4h0M1079.9 977.7h0M1080 946.6h0M1080.2 984.9h0M1080.2 985.7h0M1080.6 964.8h0M1080.6 976.9h0M1080.6 971.9h0M1080.8 945.9h0M1080.9 976.2h0M1081 1020.3h0M1081.7 975.5h0M1081.8 1016.6h0M1081.8 967.4h0M1082 961.6h0M1082.3 966.9h0M1082.3 958.2h0M1082.8 1016.5h0M1083 960.8h0M1083 959.9h0M1083.1 963.9h0M1083.2 967h0M1083.5 958.6h0M1083.6 967.2h0M1083.6 962.4h0M1083.9 965.7h0M1084.4 1020h0M1084.4 966.2h0M1084.6 951.6h0M1084.7 953.6h0M1084.8 939.2h0M1085.4 963.2h0M1085.4 964h0M1085.5 967.4h0M1085.7 961.4h0M1085.9 968.5h0M1086.1 963.4h0M1086.2 966.1h0M1086.4 1014.1h0M1086.5 965.7h0M1086.9 954.6h0M1087 1013.6h0M1087 1013.5h0M1087.6 944.7h0M1087.8 944.8h0M1087.9 938.2h0M1087.9 921.1h0M1088 942.3h0M1088.1 927.3h0M1088.3 930.2h0M1088.4 934.6h0M1088.9 938.7h0M1089 916.9h0M1089.1 939h0M1089.1 1013.4h0M1089.2 1011.2h0M1089.4 917.4h0M1089.8 929.4h0M1089.8 928.6h0M1089.9 1008.9h0M1090 925h0M1090 1008.6h0M1090.1 931.1h0M1090.5 922.6h0M1091 911.3h0M1091.1 912.9h0M1091.3 921.7h0M1091.3 918.9h0M1091.3 1008.2h0M1091.3 1006.2h0M1091.6 923.3h0M1091.7 910.6h0M1092 920.2h0M1092 924.4h0M1092.3 913h0M1092.3 922.7h0M1092.7 999.9h0M1092.8 999h0M1092.9 923.2h0M1092.9 918.4h0M1093.5 917.1h0M1093.6 923.2h0M1093.8 915.3h0M1093.8 923h0M1094 1008.5h0M1094.1 1008.7h0M1094.2 909.6h0M1094.3 909.1h0M1094.5 1015.4h0M1094.6 1015.3h0M1094.6 899.5h0M1094.7 888.6h0M1095 887.3h0M1095 859.5h0M1095.1 914.3h0M1095.7 927.7h0M1095.8 916.3h0M1096 944.5h0M1096.1 944.6h0M1096.2 1015.3h0M1096.3 925.2h0M1096.4 1016.1h0M1096.4 919h0M1096.8 1014.4h0M1097 934.7h0M1097.1 935.6h0M1097.3 941.7h0M1097.4 947.3h0M1097.5 1013.7h0M1097.9 933.3h0M1098.2 963.5h0M1098.4 967.1h0M1098.5 967.3h0M1098.9 1014.9h0M1098.9 968.6h0M1099 1015.3h0M1099.1 959.5h0M1099.2 970.8h0M1099.6 970.3h0M1099.8 971.1h0M1100 973.3h0M1100.1 965.1h0M1100.2 972.5h0M1100.2 973.1h0M1100.4 1016.2h0M1100.5 1015.7h0M1100.5 1017h0M1100.6 977.1h0M1100.7 982.6h0M1100.7 973.6h0M1100.9 982.6h0M1101.1 974.3h0M1101.9 984.2h0M1102.1 988.9h0M1102.3 1017.5h0M1102.6 989.6h0M1102.7 1017.2h0M1102.7 989.8h0M1102.8 988.7h0M1102.9 990.1h0M1103.2 985.1h0M1103.4 981.3h0M1103.4 1017.7h0M1104 985h0M1104 982.8h0M1104.2 984.6h0M1104.4 973.9h0M1104.5 983.4h0M1104.5 1018.5h0M1104.7 987.6h0M1105.1 1018.5h0M1105.1 987h0M1105.5 994.7h0M1105.6 990.7h0M1106.1 994.8h0M1106.5 979.2h0M1107.4 988.8h0M1107.7 991.7h0M1107.8 993.6h0M1107.9 983.4h0M1108.5 991.2h0M1108.6 992.4h0M1108.6 1020.5h0M1108.8 992.1h0M1109 992.7h0M1109 1020.9h0M1109.6 990.2h0M1109.6 999.8h0M1109.6 998.1h0M1110.6 1007.2h0M1111.4 1007.2h0M1111.6 1007h0M1112.2 1021.9h0M1112.3 1002.7h0M1112.5 999.8h0M1112.6 1002.2h0M1112.9 1001.4h0M1113.1 1022.4h0M1113.2 998.9h0M1114.1 997.6h0M1114.2 998.8h0M1114.4 995.8h0M1114.5 1021h0M1115.1 1020h0M1115.5 992.7h0M1115.9 993.4h0M1116.1 1019.2h0M1116.2 991.5h0M1116.3 1019.2h0M1116.4 990h0M1117 1016.3h0M1117.3 1018.3h0M1117.7 974.3h0M1117.9 971.1h0M1117.9 969.6h0M1117.9 974.4h0M1118.1 1014.5h0M1118.6 1013.4h0M1118.7 948.5h0M1118.9 951.8h0M1119 945.7h0M1119.1 949.9h0M1119.2 948h0M1119.2 950.2h0M1119.7 998h0M1119.9 912.2h0M1120 990.4h0M1120.3 912.9h0M1120.3 907.2h0M1120.4 898.3h0M1120.4 908.9h0M1120.5 913.9h0M1120.7 894h0M1120.9 889.9h0M1120.9 1009.3h0M1121 886.5h0M1121.2 884.3h0M1121.2 1006.2h0M1121.4 893.8h0M1121.8 889.5h0M1121.9 883h0M1122.2 1003.6h0M1122.3 886.3h0M1122.6 885h0M1122.7 884.1h0M1122.8 882.4h0M1122.9 1000.2h0M1123 883.7h0M1123 887h0M1123.1 894.9h0M1123.6 981.7h0M1123.6 889.8h0M1123.7 880.9h0M1124 997.3h0M1124.1 893.5h0M1124.3 918.9h0M1124.4 896.8h0M1124.5 907.1h0M1124.6 890.5h0M1124.9 917.2h0M1125.2 917.4h0M1125.4 1015.6h0M1125.5 1015.2h0M1125.5 924.8h0M1125.6 906.8h0M1125.7 920.8h0M1125.9 939.7h0M1126.5 931.7h0M1126.7 916.4h0M1126.9 972.5h0M1127 991.7h0M1127 992.1h0M1127 994.2h0M1127.2 980.9h0M1127.3 952.1h0M1127.9 1019.8h0M1128 958.4h0M1128.5 980.5h0M1128.7 961.9h0M1128.9 975.8h0M1129 974h0M1129.1 968h0M1129.3 978.2h0M1129.4 973.1h0M1129.5 976.8h0M1130.1 1019.9h0M1130.1 975.2h0M1130.1 958.9h0M1130.4 981.1h0M1130.6 974.7h0M1130.6 1019.5h0M1130.6 970.8h0M1130.7 970.8h0M1130.7 976.9h0M1131.1 976.9h0M1131.2 940.4h0M1131.8 992.9h0M1132.3 991.7h0M1132.6 995.3h0M1132.7 1020.2h0M1133 991.4h0M1133 1020.1h0M1133.2 988.1h0M1133.2 982.7h0M1134.2 986.2h0M1134.4 987.3h0M1134.5 987.7h0M1134.6 1018.4h0M1134.9 985.3h0M1135 1018.3h0M1135.2 988h0M1135.6 985.8h0M1135.7 985.1h0M1135.8 985.1h0M1136.4 1018.9h0M1136.7 974.5h0M1136.7 1019h0M1137 983.1h0M1137.3 990.1h0M1137.4 993.6h0M1137.7 1020.4h0M1137.7 994.8h0M1138.6 987.7h0M1138.8 995.8h0M1138.9 995.7h0M1139.3 1020.3h0M1139.4 1020.2h0M1139.7 1000.7h0M1139.7 1001h0M1140.1 1001.3h0M1140.2 996.8h0M1140.5 999.9h0M1140.8 1000.1h0M1141 999.5h0M1142.2 993.6h0M1142.3 1020h0M1142.6 998.3h0M1143 998.5h0M1143.3 995.6h0M1143.9 995.2h0M1144.8 994.6h0M1145 994.6h0M1145.1 985.9h0M1145.1 995.1h0M1145.5 996.1h0M1145.6 999.4h0M1145.7 1000.4h0M1147.2 993.1h0M1147.2 995.6h0M1147.3 993.3h0M1147.3 1019.7h0M1147.9 993.6h0M1148.3 992.1h0M1148.4 991.9h0M1148.7 1020.5h0M1149.1 994.1h0M1149.5 991.1h0M1149.6 990.3h0M1149.7 1020.3h0M1149.7 991.2h0M1149.9 992h0M1150.5 1020.3h0M1150.6 993.5h0M1150.6 998.8h0M1150.7 997.7h0M1150.8 999h0M1151.3 1020h0M1152.4 1019h0M1152.5 997.7h0M1152.7 998.1h0M1152.7 993.9h0M1152.8 997.8h0M1153 1000.4h0M1153.1 1004.7h0M1153.2 996.7h0M1153.6 1019.4h0M1153.6 1004.6h0M1153.7 1019.3h0M1154.6 1001.3h0M1154.7 1000.4h0M1155 997.6h0M1155.2 1000.1h0M1155.5 1002.6h0M1155.5 1004.1h0M1157.2 1021.1h0M1157.3 1021.2h0M1157.5 1002.8h0M1157.5 1000.7h0M1157.7 999.7h0M1158.3 999.3h0M1158.9 994.2h0M1158.9 997.3h0M1159.1 994.4h0M1159.3 1000.1h0M1159.3 1020.5h0M1159.8 1020.3h0M1160 999.1h0M1160 999h0M1160.3 997.6h0M1160.7 1019.8h0M1161.4 995.9h0M1161.6 999.3h0M1161.6 996.1h0M1161.7 992.7h0M1162.3 975.1h0M1162.4 973.1h0M1162.6 980.4h0M1162.7 979h0M1163.3 1017.5h0M1163.8 1015.5h0M1163.8 961.6h0M1164.1 959.3h0M1164.1 958.6h0M1164.1 963.1h0M1164.2 957.3h0M1164.2 957.7h0M1164.3 1007.6h0M1164.3 1004.6h0M1165.2 913.6h0M1165.3 904.9h0M1165.4 917.6h0M1165.4 917.5h0M1165.5 920h0M1165.5 905.1h0M1165.5 999.3h0M1165.5 909.8h0M1165.9 880.5h0M1166 872.4h0M1166.1 908h0M1166.7 998.2h0M1166.9 905.6h0M1167 917h0M1167 929.1h0M1167.2 932.8h0M1167.2 929.3h0M1167.7 1015.5h0M1167.8 934.2h0M1167.9 1015.4h0M1168 954.2h0M1168 957.3h0M1168.4 1018.4h0M1168.4 967.1h0M1168.4 954.8h0M1168.5 961.8h0M1168.8 1018.7h0M1169.2 960.2h0M1169.4 974.9h0M1169.4 975.1h0M1169.9 976.5h0M1170.1 977.3h0M1170.4 1019.3h0M1170.5 977.7h0M1170.7 972.4h0M1170.7 985.2h0M1171.3 970.1h0M1171.7 985.5h0M1171.7 1019.5h0M1171.8 981.8h0M1171.9 982.1h0M1172 983.3h0M1172.5 982.3h0M1173.1 980.8h0M1173.1 995.8h0M1173.5 991.4h0M1173.5 1020h0M1174.2 996h0M1174.9 976.7h0M1174.9 983.3h0M1175.1 986h0M1175.3 967.3h0M1175.5 997.1h0M1175.6 1018.7h0M1175.7 998.3h0M1175.9 981.8h0M1176.7 968.7h0M1176.8 1015.9h0M1177.2 969.8h0M1177.3 1016h0M1177.7 990.3h0M1177.8 989.7h0M1178 978.1h0M1178.3 982.6h0M1178.3 1016.2h0M1178.6 987.2h0M1179.1 1015.7h0M1179.2 982.3h0M1179.3 985.6h0M1179.4 987.9h0M1179.7 986.2h0M1179.8 986.6h0M1180.6 997h0M1181.3 992.1h0M1181.4 999.1h0M1182.5 995.1h0M1182.5 1000.7h0M1182.8 994.3h0M1183 1001.1h0M1183.4 1000h0M1183.5 999.6h0M1184.4 998.8h0M1185.2 1000.6h0M1186.1 1000.2h0M1186.7 1000.1h0M1186.7 1017.3h0M1187.6 996.7h0M1187.6 998.9h0M1188 1016.6h0M1188.2 1000.5h0M1188.2 1000.5h0M1188.6 1000.4h0M1188.8 1016.6h0M1188.9 1000.7h0M1189.3 1016.7h0M1189.4 992.3h0M1189.5 994.5h0M1189.8 994.8h0M1190.4 994.2h0M1190.5 994.1h0M1190.9 989.7h0M1191 987.8h0M1191 994.6h0M1191.2 1016.4h0M1192 997.3h0M1192.3 995.3h0M1192.5 995.2h0M1192.7 997h0M1193.2 991.3h0M1193.2 996.9h0M1193.4 992.1h0M1193.9 994.6h0M1194.7 984.7h0M1195.1 987.4h0M1195.1 1017h0M1195.3 987.4h0M1195.3 981h0M1195.6 990.2h0M1195.9 990.7h0M1196.2 1016.2h0M1196.2 1016.3h0M1196.4 985.9h0M1196.4 989.5h0M1197 1014.3h0M1197.9 989.5h0M1198 991h0M1198.1 1014.9h0M1198.2 1014.6h0M1198.3 987.3h0M1198.8 988.7h0M1199 987.2h0M1199.1 988.2h0M1199.6 989.1h0M1199.7 989.6h0M1199.8 989.1h0M1200.1 1014.5h0M1200.2 1014.1h0M1200.3 988.4h0M1200.5 990.6h0M1200.7 990.7h0M1201 987.3h0M1201.1 1015.2h0M1201.6 992.8h0M1201.8 987.3h0M1201.8 988.2h0M1201.9 986.9h0M1203 1015.2h0M1203.1 990.4h0M1203.1 992.7h0M1203.2 989.4h0M1203.9 993.3h0M1204.3 1014.2h0M1204.4 988.3h0M1204.7 986.8h0M1204.8 988.1h0M1205.3 985.1h0M1205.6 985.2h0M1205.9 1012.3h0M1206.2 1013.4h0M1206.3 983.9h0M1206.4 985.1h0M1206.7 983.9h0M1207 983h0M1207.3 1013.4h0M1207.4 1014.4h0M1207.7 983.3h0M1207.9 982.9h0M1208.3 1012.5h0M1208.5 1012.7h0M1208.5 981.1h0M1208.9 981.5h0M1209 973.9h0M1209.1 979.6h0M1209.3 1010.3h0M1209.5 973.7h0M1210 970.9h0M1210.3 969.7h0M1210.3 1011.2h0M1210.4 973.6h0M1210.6 979h0M1210.9 1011.7h0M1210.9 975.5h0M1210.9 976.8h0M1211.4 970.1h0M1212.8 969.6h0M1212.9 975.4h0M1212.9 978.1h0M1212.9 980.6h0M1213.2 985.9h0M1214 985.8h0M1214.1 986.1h0M1214.7 986.4h0M1214.8 981.7h0M1214.8 976.5h0M1215.2 1014.4h0M1215.3 982.7h0M1215.6 985.5h0M1216 1013.6h0M1216 1013.8h0M1216.2 985.3h0M1216.3 969.1h0M1216.5 985h0M1217.1 1012.7h0M1217.4 976.8h0M1217.4 977.5h0M1217.7 1013.2h0M1217.7 977.6h0M1218 975.8h0M1218.1 974.3h0M1218.3 1013.6h0M1218.3 971.4h0M1218.7 1015h0M1219 965.1h0M1219.1 965.6h0M1219.1 974h0M1219.2 956.6h0M1219.6 950.5h0M1219.6 1012.1h0M1219.7 957.2h0M1220.1 939.7h0M1220.2 1008.4h0M1220.5 947.4h0M1220.7 940.7h0M1220.8 942.5h0M1220.9 945.8h0M1220.9 1007.4h0M1221.5 1007.5h0M1221.5 949.5h0M1221.7 943.7h0M1221.7 934.3h0M1222 933.8h0M1222 941.9h0M1222.4 919.7h0M1222.4 1012.2h0M1222.4 1012.2h0M1222.6 942.3h0M1222.7 930h0M1222.8 944.5h0M1223 953.4h0M1223 944.2h0M1223.1 1012.8h0M1223.2 950.6h0M1223.4 940.7h0M1223.6 944.1h0M1223.6 952.9h0M1224 1013.5h0M1224.5 1011.8h0M1224.5 955.4h0M1224.6 950.3h0M1224.8 940.8h0M1224.8 947h0M1224.8 958.8h0M1225.2 952.4h0M1225.4 1008.2h0M1225.7 949.7h0M1225.9 942.3h0M1226 953.9h0M1226.1 957.6h0M1226.2 1008.9h0M1226.4 952.1h0M1226.5 1008.7h0M1226.5 960.6h0M1227.1 966.9h0M1227.1 958.7h0M1227.2 969.4h0M1227.3 1013.5h0M1227.3 967.5h0M1227.4 961.4h0M1227.5 968.7h0M1227.6 1013.1h0M1228 972.9h0M1228.1 1012.5h0M1228.2 1010.8h0M1228.9 968.1h0M1229 964.8h0M1229 973.7h0M1229.1 973.8h0M1229.2 974.6h0M1229.3 1011.7h0M1229.3 1011.6h0M1229.4 970.8h0M1229.6 956.2h0M1229.9 968.5h0M1230.3 967.6h0M1230.9 967.7h0M1231.1 975.5h0M1231.3 969.8h0M1231.4 1010.7h0M1231.6 1010.7h0M1232.3 983.4h0M1232.5 1011.7h0M1232.5 982.3h0M1232.7 1011.6h0M1232.8 982.6h0M1233 983.4h0M1233.3 979.3h0M1233.7 1013.4h0M1233.7 982.5h0M1233.7 972h0M1233.7 982.1h0M1234.4 1013.1h0M1234.6 982.8h0M1234.7 1013.2h0M1234.9 976.1h0M1235 975.2h0M1235.2 980.1h0M1235.7 984.7h0M1236 980.6h0M1236.7 984.8h0M1237.4 989.1h0M1237.4 977h0M1237.8 991.6h0M1237.9 991.3h0M1239 1012h0M1239.2 989.7h0M1239.2 990.3h0M1239.2 1012.9h0M1239.2 989.5h0M1239.4 988.3h0M1239.5 990.2h0M1239.6 989h0M1240 1011.1h0M1240 1011.3h0M1240.5 990.8h0M1240.6 991.7h0M1240.9 1014.5h0M1241 990h0M1241.6 1013.3h0M1241.6 990.6h0M1241.8 993.4h0M1241.9 993.3h0M1242.5 1014.6h0M1242.7 991.1h0M1243 1014.9h0M1243.5 983.9h0M1243.7 986.8h0M1244 987.1h0M1244.1 1015.2h0M1244.2 981h0M1244.2 1015.3h0M1244.3 1015.3h0M1244.3 1015.3h0M1244.8 978.4h0M1244.8 988.3h0M1245 988.3h0M1245.2 982.8h0M1245.9 973h0M1246.1 975.1h0M1246.2 1012.8h0M1246.4 1012.5h0M1246.6 974h0M1247.2 977.5h0M1247.3 975.5h0M1247.6 974.6h0M1247.6 977.4h0M1248.1 974.9h0M1248.5 1013.6h0M1248.6 978h0M1248.9 1013.8h0M1248.9 977.2h0M1249.1 978.3h0M1249.3 1011.4h0M1249.5 961.7h0M1249.7 1012.6h0M1250 969.3h0M1250.3 969h0M1250.4 962.2h0M1250.7 1011h0M1250.9 968.5h0M1250.9 1011.3h0M1251 973.8h0M1251.1 971.1h0M1251.1 970.3h0M1251.8 1009.9h0M1252.1 967.5h0M1252.2 967.7h0M1252.5 970.6h0M1252.6 1009.4h0M1252.7 964.8h0M1252.9 966.2h0M1252.9 958h0M1253.1 961.6h0M1253.2 960.1h0M1253.2 957.8h0M1253.5 1009.6h0M1253.5 1011.1h0M1253.6 953.8h0M1253.9 959.7h0M1254.1 957h0M1254.3 1012h0M1254.4 963.6h0M1254.5 964.6h0M1254.5 945.6h0M1254.6 1012.1h0M1254.6 966.7h0M1254.9 958.6h0M1255.5 963.6h0M1255.6 1010.1h0M1255.9 1009.7h0M1255.9 963h0M1256 967.6h0M1256.3 962.7h0M1256.4 958.5h0M1256.7 957.7h0M1256.7 968.9h0M1257.2 946.5h0M1257.2 945.8h0M1257.2 943.7h0M1257.5 946.5h0M1257.8 939h0M1257.9 947.4h0M1258.1 1006.5h0M1258.1 1007h0M1258.2 920.4h0M1258.2 932.7h0M1258.3 925h0M1258.9 935.8h0M1258.9 925.4h0M1259.2 919.7h0M1259.7 1001.4h0M1260.2 916.9h0M1260.3 1001.1h0M1260.3 893.1h0M1260.4 906.8h0M1260.5 911.7h0M1260.5 913.3h0M1260.5 894.5h0M1260.5 994.9h0M1261 1001.6h0M1261.4 852h0M1261.5 856.3h0M1261.6 858.8h0M1261.7 846.7h0M1261.7 853h0M1261.7 863.5h0M1261.8 960.5h0M1261.8 954.3h0M1262.4 826.4h0M1262.7 822.9h0M1262.8 826.6h0M1263 828.8h0M1263 822.7h0M1263 826.3h0M1263.1 830.1h0M1263.1 830.1h0M1263.3 827.6h0M1263.3 816.1h0M1263.4 828.4h0M1264 993.9h0M1264.1 996.5h0M1264.3 879.4h0M1264.3 841.6h0M1264.4 869.5h0M1264.6 871h0M1264.6 876.4h0M1264.7 863.4h0M1265.5 898.5h0M1265.7 841.5h0M1266 891.9h0M1266 876.4h0M1266.1 1004.8h0M1266.3 1004.4h0M1266.4 902.5h0M1266.5 900.5h0M1266.9 923.3h0M1267.4 1001.6h0M1267.5 912.3h0M1267.6 916.4h0M1267.7 902.4h0M1267.7 923.6h0M1267.9 910h0M1268 1001.4h0M1268.3 910h0M1268.3 1003.3h0M1268.5 914.4h0M1268.5 864.9h0M1268.6 886.7h0M1268.7 1003.3h0M1268.8 913.7h0M1269.1 909.3h0M1269.4 904.9h0M1269.7 905.7h0M1269.7 903.7h0M1269.9 896.3h0M1270.3 870.3h0M1270.3 904.6h0M1270.6 995.1h0M1270.7 995.6h0M1271.2 887h0M1271.2 888.3h0M1271.2 882.7h0M1271.4 875.9h0M1271.4 870.9h0M1271.6 865.4h0M1272.1 892h0M1272.2 894.8h0M1272.2 889.7h0M1272.3 879.9h0M1272.5 996.6h0M1272.8 996.5h0M1272.8 896.9h0M1272.9 859.4h0M1273 868.5h0M1273.1 882.1h0M1273.1 859.8h0M1273.3 918h0M1273.6 873.2h0M1273.6 897.5h0M1273.7 1001.8h0M1274 1001.8h0M1274.3 911.7h0M1274.4 878.6h0M1274.8 921.1h0M1275.4 925.2h0M1275.4 923.4h0M1275.5 923.7h0M1275.6 905.7h0M1275.7 882.8h0M1276.1 995.6h0M1276.3 899.9h0M1276.3 903.3h0M1276.5 991.8h0M1276.6 890.9h0M1276.8 902.6h0M1276.9 902h0M1277 888.9h0M1277.4 995.2h0M1277.4 899h0M1277.7 899.1h0M1277.9 904.2h0M1278 895.6h0M1278.1 915.2h0M1278.2 872.6h0M1278.4 910.2h0M1278.6 996.7h0M1278.7 886.1h0M1278.8 997.4h0M1279.1 918.3h0M1279.3 913.6h0M1279.4 903.3h0M1279.5 911.4h0M1279.6 889h0M1279.6 997.1h0M1279.7 875.2h0M1280 995.8h0M1280.2 914.2h0M1280.6 914.9h0M1280.8 993.6h0M1280.9 917.5h0M1280.9 917.7h0M1281 906.9h0M1281.4 903.8h0M1281.5 899.9h0M1282.4 909.4h0M1282.8 910.5h0M1282.9 906h0M1282.9 901.8h0M1283 901.5h0M1283 910h0M1283 994.4h0M1283.3 884.5h0M1283.3 896.6h0M1283.3 889.6h0M1283.3 882h0M1283.8 875.2h0M1283.9 995.3h0M1284.1 993.6h0M1284.2 891.5h0M1284.4 895.6h0M1284.5 900.5h0M1284.7 893h0M1284.7 992.6h0M1284.9 895.8h0M1285 897.5h0M1285.3 885.4h0M1285.4 994h0M1285.7 906.2h0M1285.7 918.8h0M1285.9 890h0M1286 913.6h0M1286.1 902.1h0M1286.7 994.1h0M1286.7 910.8h0M1286.8 925.6h0M1286.8 925.3h0M1286.9 914h0M1287.1 919h0M1287.2 916.7h0M1287.4 994.4h0M1287.5 993.6h0M1287.6 909.6h0M1288.1 929h0M1288.2 941.7h0M1288.3 942.4h0M1288.5 945.9h0M1288.6 946.7h0M1289.7 947.3h0M1289.7 949.6h0M1289.8 930.8h0M1289.9 939.2h0M1290.1 947.9h0M1290.3 999.5h0M1290.4 999.3h0M1290.5 948.6h0M1290.6 950h0M1290.6 949.3h0M1291.4 946.4h0M1291.4 952.5h0M1291.4 1000.4h0M1291.5 942.8h0M1292 948.4h0M1292.2 943.1h0M1292.2 941.1h0M1292.4 941.3h0M1292.4 939.8h0M1292.7 948h0M1293 1000h0M1293.1 925.4h0M1293.2 927.6h0M1293.3 934.1h0M1293.3 943.7h0M1293.9 929.9h0M1294 1001.2h0M1294.2 1001.5h0M1294.2 925.1h0M1294.5 921.5h0M1294.6 920.9h0M1294.9 917.3h0M1295 895.4h0M1295.1 1004.5h0M1295.2 931.5h0M1295.3 909.1h0M1295.5 1003.6h0M1295.6 900.1h0M1296.2 878.7h0M1296.4 891h0M1296.4 896.6h0M1296.6 909h0M1296.7 884.1h0M1296.9 997.1h0M1297.1 996.5h0M1297.1 839.4h0M1297.1 872.2h0M1297.4 866.7h0M1297.6 865.3h0M1297.8 851.5h0M1297.9 827.5h0M1298.2 997.1h0M1298.3 833.2h0M1298.7 861.1h0M1298.8 824.9h0M1298.8 846.6h0M1298.9 860.6h0M1299.1 861.1h0M1299.3 842h0M1299.4 837.3h0M1299.6 990.4h0M1299.7 837.9h0M1300 991.1h0M1300 842.5h0M1300 827h0M1300.2 806.1h0M1300.6 828.9h0M1300.8 846.5h0M1301.1 841.1h0M1301.2 842.6h0M1301.2 987.8h0M1301.3 823.9h0M1301.6 988.2h0M1301.7 848.7h0M1301.8 822.7h0M1301.9 848.6h0M1302.3 854.9h0M1302.3 986.9h0M1302.3 844.1h0M1302.4 854.4h0M1302.9 985.7h0M1303 844.1h0M1303 884h0M1303.1 875.7h0M1303.1 868.5h0M1303.4 989.6h0M1303.5 874h0M1303.6 878.6h0M1303.6 844.6h0M1304.2 994.3h0M1304.5 904.5h0M1304.6 904.7h0M1304.9 903.1h0M1305 913.8h0M1305.4 891.4h0M1305.4 998.1h0M1305.5 904.6h0M1305.7 904.2h0M1305.8 871.1h0M1305.9 1000h0M1306.3 999h0M1306.3 868.3h0M1306.3 897h0M1306.6 861h0M1306.6 862h0M1306.9 998.9h0M1306.9 997.8h0M1306.9 925.5h0M1307 927.5h0M1307.1 908.7h0M1307.2 925.8h0M1307.8 899.6h0M1307.9 925h0M1308.6 881.1h0M1308.7 845.3h0M1308.7 875.1h0M1308.8 880.8h0M1308.8 828.8h0M1309 989.5h0M1309.1 883.8h0M1309.8 852.2h0M1309.9 990.5h0M1309.9 856h0M1309.9 858.5h0M1310.4 852.5h0M1310.4 859.6h0M1310.5 873.1h0M1310.6 881.7h0M1310.7 984.7h0M1310.7 837.7h0M1310.9 877.9h0M1311.1 877.9h0M1311.5 986.4h0M1311.6 881.8h0M1311.7 869.2h0M1311.8 870.2h0M1312 794.2h0M1312.3 991.1h0M1312.3 830.6h0M1312.4 852.3h0M1312.4 881.2h0M1312.9 876.7h0M1313.2 896.5h0M1313.2 996.5h0M1313.4 904.1h0M1313.5 883.8h0M1313.7 895.8h0M1313.7 913.7h0M1314 997.9h0M1314.2 912.7h0M1314.3 998.1h0M1314.3 993.6h0M1314.4 902.3h0M1314.6 897.8h0M1314.6 896.5h0M1314.8 893.2h0M1315.3 899.7h0M1315.4 904.8h0M1315.6 885.8h0M1315.7 901.2h0M1315.8 886.8h0M1315.9 895.3h0M1315.9 907.6h0M1316.2 899.7h0M1316.6 993.4h0M1316.7 990.5h0M1316.8 925.1h0M1317.2 919.2h0M1317.4 919.5h0M1317.4 994.3h0M1317.5 912.6h0M1317.8 994h0M1317.8 909.5h0M1317.8 923.9h0M1318.2 892.8h0M1318.3 890.8h0M1318.5 909.7h0M1318.7 898.6h0M1318.8 1001.5h0M1318.9 1002.4h0M1319 899.5h0M1319.1 907.5h0M1319.3 1005.1h0M1319.4 890.3h0M1319.5 881.5h0M1319.9 839.5h0M1320 872.5h0M1320 1004.9h0M1320.2 892.7h0M1320.6 834.5h0M1320.6 888.3h0M1320.7 914h0M1320.7 871.5h0M1321 893.3h0M1321.4 884.8h0M1321.7 1006.2h0M1321.7 1006.3h0M1321.9 923.6h0M1322 922.3h0M1322.1 1005.9h0M1322.3 925.8h0M1322.5 923.7h0M1322.5 919.6h0M1322.6 923.1h0M1323.1 1004.1h0M1323.5 913h0M1323.7 888.6h0M1323.8 906.7h0M1323.9 1000.1h0M1324.1 887.4h0M1324.2 908.2h0M1324.2 900.3h0M1324.4 862.4h0M1324.6 831.2h0M1324.6 996.3h0M1324.7 835.3h0M1324.8 858.5h0M1324.8 844.7h0M1325.4 853.6h0M1325.9 809.5h0M1325.9 992.3h0M1326 829.7h0M1326.1 828.9h0M1326.3 995h0M1326.4 842.5h0M1326.7 833.4h0M1326.7 843.4h0M1327.2 824.5h0M1327.3 821.8h0M1327.3 832.8h0M1327.4 835.4h0M1327.4 986.1h0M1327.7 787.6h0M1327.8 828.6h0M1327.9 991.3h0M1328 845.4h0M1328 822.8h0M1328.1 989.6h0M1328.2 837.9h0M1328.3 800.5h0M1328.7 842.1h0M1328.8 836.3h0M1329.2 992.6h0M1329.3 839.6h0M1329.5 849.8h0M1329.6 850.2h0M1329.7 854.1h0M1329.8 853.3h0M1330.1 839.6h0M1330.1 991h0M1330.3 992.7h0M1330.5 881.8h0M1330.8 862.5h0M1330.9 874h0M1331.1 879.3h0M1331.2 830.6h0M1331.3 850.3h0M1331.6 995.8h0M1331.7 994.8h0M1332 905.1h0M1332 907.4h0M1332.1 872.2h0M1332.5 814.3h0M1332.6 851h0M1332.9 1002.6h0M1332.9 1003.1h0M1332.9 859.5h0M1333 887.9h0M1333.2 888.5h0M1333.2 875h0M1333.3 830.5h0M1333.5 875.7h0M1333.6 871.8h0M1333.7 1008h0M1334.1 1008h0M1334.3 1010h0M1334.4 880.9h0M1334.8 1010.9h0M1334.9 914.3h0M1334.9 930.5h0M1335.2 915.4h0M1335.3 924.1h0M1335.5 908.4h0M1335.5 865.5h0M1335.6 1006.6h0M1335.6 1005.7h0M1336.3 854.5h0M1336.4 884.5h0M1336.5 878.7h0M1336.5 888.3h0M1336.7 854.1h0M1336.9 839.9h0M1337 852.3h0M1337 983.7h0M1337 842.8h0M1337.3 985.2h0M1337.5 842.6h0M1337.8 838.6h0M1337.8 841.8h0M1338.2 970.7h0M1338.7 823.8h0M1338.7 968h0M1338.9 844.4h0M1339 826.2h0M1339 843.8h0M1339.1 842.2h0M1339.2 825.7h0M1339.3 839.3h0M1339.9 839.4h0M1339.9 978.2h0M1340 803.2h0M1340 826.3h0M1340.1 829.9h0M1340.3 790.3h0M1340.5 834.3h0M1340.6 852.3h0M1340.7 981.3h0M1340.8 845.2h0M1340.8 979h0M1340.9 851.6h0M1341 822.5h0M1341.5 854.2h0M1341.8 979.6h0M1342.1 849.1h0M1342.1 852h0M1342.1 859.9h0M1342.5 978.8h0M1342.6 858.6h0M1342.9 847.8h0M1343 808.3h0M1343.1 812.3h0M1343.2 971.2h0M1343.2 970.5h0M1343.4 795.9h0M1343.8 773h0M1343.8 778.6h0M1344.1 765.6h0M1344.2 810.3h0M1344.3 773.2h0M1344.3 803.4h0M1344.8 973h0M1344.9 799.4h0M1345 805.6h0M1345.2 790.3h0M1345.3 815.2h0M1345.5 755.7h0M1345.7 822h0M1345.7 970.5h0M1345.9 970.5h0M1346.3 808h0M1346.6 819.1h0M1346.7 816.1h0M1346.7 760.2h0M1347 963.7h0M1347 786.3h0M1347.2 962.8h0M1347.3 775.2h0M1347.5 783.5h0M1347.5 766.6h0M1347.6 775.7h0M1348 781.9h0M1348.2 759.6h0M1348.5 756.7h0M1349 961.9h0M1349 760.2h0M1349.1 960.5h0M1349.2 742.5h0M1349.2 744.7h0M1349.3 757h0M1349.3 748.9h0M1349.3 747.6h0M1349.7 958.8h0M1349.8 754.2h0M1350 744.4h0M1350.1 750.7h0M1350.1 969.5h0M1350.7 971.6h0M1350.8 764.8h0M1350.9 771.5h0M1351 760h0M1351 968.2h0M1351.1 769.3h0M1351.2 773.2h0M1351.7 725.7h0M1351.9 692.2h0M1352 822.2h0M1352.1 806.8h0M1352.2 832.8h0M1352.5 978.4h0M1352.6 978h0M1352.8 847h0M1353 833.3h0M1353 974.6h0M1353.1 971.3h0M1353.2 786.4h0M1354 778.8h0M1354.1 787.2h0M1354.2 759.2h0M1354.2 781.6h0M1354.2 786.9h0M1354.4 769.1h0M1354.4 774h0M1354.5 777.4h0M1354.6 769.6h0M1354.6 776.2h0M1354.8 778.9h0M1355.2 949.7h0M1355.4 957.9h0M1355.7 798h0M1355.9 790.8h0M1355.9 796.7h0M1356 790.3h0M1356.3 783.9h0M1356.4 965.4h0M1356.5 964.7h0M1356.5 798.1h0M1357 772.1h0M1357.1 806h0M1357.3 970.5h0M1357.3 827.6h0M1357.5 777.1h0M1357.6 820.3h0M1357.8 838.4h0M1358.1 786.4h0M1358.5 766.6h0M1358.7 769.8h0M1358.8 970.5h0M1358.8 792.5h0M1359 803.4h0M1359 970.6h0M1359 780.4h0M1359.4 816.9h0M1359.5 853.7h0M1359.5 857.6h0M1359.6 826.4h0M1359.9 845.1h0M1360 846.9h0M1360.1 968.9h0M1360.1 971.3h0M1360.7 889.6h0M1360.8 889.9h0M1360.9 876.2h0M1360.9 885.4h0M1361 886.7h0M1361.6 877.6h0M1361.7 979.5h0M1361.7 978.8h0M1361.8 884.8h0M1361.9 874.2h0M1362.5 886.2h0M1362.6 980.7h0M1362.8 883.2h0M1362.8 884.7h0M1362.9 872.3h0M1362.9 980.2h0M1363.2 882.7h0M1363.3 870.5h0M1363.6 866.2h0M1363.7 980.8h0M1363.7 867.5h0M1364 883.8h0M1364 883.6h0M1364.2 981.4h0M1364.3 881.4h0M1364.4 886.2h0M1364.5 973.7h0M1364.9 981.8h0M1365 873.7h0M1365.1 863h0M1365.3 882.9h0M1365.4 883.5h0M1365.8 885.8h0M1366 868.7h0M1366 886.8h0M1366 882.6h0M1366.1 885.8h0M1366.4 887.6h0M1366.6 976.1h0M1366.7 974.3h0M1366.9 889.3h0M1366.9 891.4h0M1367.3 906.2h0M1367.3 903.7h0M1367.3 896.9h0M1367.6 981h0M1367.9 899h0M1368 978.4h0M1368.2 898.1h0M1368.3 898.3h0M1368.6 892.2h0M1368.6 892h0M1368.7 977.3h0M1368.7 979.6h0M1368.7 893.8h0M1369 895.2h0M1369.4 872.3h0M1369.6 969.1h0M1369.7 884h0M1369.8 972.3h0M1370.1 887.4h0M1370.1 862h0M1370.4 883.5h0M1370.7 856h0M1370.8 845.1h0M1370.9 852h0M1371.1 859.8h0M1371.3 852.7h0M1371.4 967.7h0M1371.5 830h0M1371.7 969.5h0M1371.8 867.4h0M1371.9 875.9h0M1372 870.9h0M1372 975.1h0M1372.2 972.3h0M1372.5 863.2h0M1372.5 875.9h0M1372.8 853.8h0M1373 889.1h0M1373 870.2h0M1373 879h0M1373.4 884.8h0M1374 892.9h0M1374.3 892.5h0M1374.5 975.5h0M1374.7 869.3h0M1375 879.8h0M1375.1 876.1h0M1375.3 892.5h0M1375.4 878.1h0M1375.5 977.6h0M1375.7 975.7h0M1375.9 886.5h0M1375.9 892.6h0M1376.1 980.3h0M1376.6 888.9h0M1376.7 881.6h0M1376.8 878.7h0M1377.1 884.2h0M1377.2 882h0M1377.6 886.3h0M1377.6 887.9h0M1377.7 884.4h0M1377.8 985.9h0M1377.9 988.7h0M1378.1 880.4h0M1378.2 881.7h0M1378.6 882.3h0M1378.6 875h0M1378.7 883.8h0M1378.8 989.7h0M1379.1 990.6h0M1379.2 881.4h0M1379.5 865.3h0M1379.5 874.8h0M1379.7 865.4h0M1380.1 862.4h0M1380.3 872.9h0M1380.4 993.1h0M1380.4 879.1h0M1380.4 993.4h0M1380.5 872.6h0M1380.8 901.4h0M1380.8 992.9h0M1380.9 898.8h0M1381.1 899.1h0M1381.3 903.2h0M1381.4 993.2h0M1381.6 897.4h0M1381.9 905.5h0M1382.2 907.4h0M1382.2 899.7h0M1382.3 898.9h0M1382.3 893.9h0M1382.5 897h0M1382.6 994.6h0M1382.7 995h0M1383.2 915.3h0M1383.3 996.1h0M1383.3 929.4h0M1383.4 928.1h0M1383.4 920.6h0M1383.7 926.1h0M1383.9 928h0M1384.1 997.2h0M1384.4 934.5h0M1384.7 925.5h0M1384.9 926.6h0M1385 931.6h0M1385.4 937.5h0M1385.4 998.7h0M1385.4 929.2h0M1385.5 998.5h0M1385.6 917.6h0M1386 951.7h0M1386 925.4h0M1386.4 915.3h0M1386.4 924.5h0M1386.7 915.3h0M1386.8 995.1h0M1386.8 930.1h0M1386.8 926.1h0M1386.9 934h0M1387.4 923.6h0M1387.6 925.1h0M1387.7 995.1h0M1387.7 930.6h0M1388.3 926.8h0M1388.4 934.9h0M1388.5 935.5h0M1388.6 996.1h0M1388.8 929.5h0M1388.8 938.5h0M1389.1 995.1h0M1389.2 938.6h0M1389.3 992.9h0M1389.4 918h0M1389.4 989.6h0M1389.6 929.1h0M1390.1 925.2h0M1390.1 931.8h0M1390.2 926.7h0M1390.3 926.4h0M1390.7 926.8h0M1390.8 929.8h0M1391 923.6h0M1391 921.7h0M1391.3 987.1h0M1391.6 987.1h0M1391.7 928.2h0M1392.1 907.7h0M1392.1 985h0M1392.3 895.5h0M1392.3 986.5h0M1392.3 919.1h0M1392.5 918.4h0M1392.6 918.4h0M1393.1 985.5h0M1393.2 985.6h0M1393.9 888.8h0M1394 899.4h0M1394.1 896.4h0M1394.1 896.7h0M1394.2 891.6h0M1394.2 874h0M1394.5 903.9h0M1394.6 866.2h0M1394.8 894.3h0M1394.9 983.4h0M1395 983h0M1395.1 901.6h0M1395.1 883.4h0M1395.4 891.2h0M1395.5 876.5h0M1395.6 884.7h0M1395.7 983.1h0M1396.2 886.2h0M1396.4 878.6h0M1396.4 830h0M1396.7 981.9h0M1396.9 881h0M1397.2 894.1h0M1397.3 978.9h0M1397.3 882.5h0M1397.4 877.4h0M1397.8 984.6h0M1397.9 878.3h0M1398 856.3h0M1398.4 850.3h0M1398.5 842.6h0M1398.7 875.5h0M1398.8 876.7h0M1398.9 986.3h0M1399.1 861.4h0M1399.1 868.1h0M1399.4 849.2h0M1399.4 850.3h0M1399.5 857.1h0M1399.6 984.8h0M1399.6 864h0M1399.6 985.5h0M1399.9 867.4h0M1400.2 860.9h0M1400.7 848.6h0M1401 987.8h0M1401.2 855.8h0M1401.3 867.6h0M1401.5 803.9h0M1401.6 865.5h0M1401.6 988h0M1401.7 862.9h0M1401.9 865h0M1402.1 873.4h0M1402.2 852.1h0M1402.4 989.1h0M1402.4 988.3h0M1402.5 847h0M1402.8 850.3h0M1402.9 856h0M1403.2 886.4h0M1403.5 864h0M1403.6 875.8h0M1403.6 983.3h0M1403.7 873.4h0M1403.8 882h0M1403.9 877.6h0M1404 979.5h0M1404.4 855.4h0M1404.6 859.5h0M1404.9 874.9h0M1405 880.8h0M1405.1 880.4h0M1405.3 886.2h0M1405.4 985.5h0M1405.8 851h0M1406 802.3h0M1406.3 844.6h0M1406.3 836.5h0M1406.3 878.6h0M1406.5 991.6h0M1406.5 800.4h0M1406.5 993.9h0M1406.8 840.4h0M1407 843.3h0M1407.3 868h0M1407.4 999.1h0M1407.5 859h0M1407.7 878.9h0M1407.7 873.9h0M1408 998.8h0M1408.1 895.1h0M1408.7 858.7h0M1408.8 901.2h0M1409 885.3h0M1409 878.6h0M1409.2 886.9h0M1409.3 995.4h0M1409.8 889h0M1409.8 900.9h0M1410 890.2h0M1410.3 996.9h0M1410.4 903.5h0M1410.4 885.3h0M1410.5 881.9h0M1410.6 882h0M1410.7 992.1h0M1410.8 895.6h0M1411 895.8h0M1411.3 887.2h0M1411.4 889.7h0M1411.5 879.2h0M1411.5 988.5h0M1411.8 889.6h0M1412 900.8h0M1412.3 986.7h0M1412.7 867.9h0M1412.7 987.6h0M1412.9 885.6h0M1413 899.3h0M1413 898.1h0M1413.3 887.5h0M1413.4 892.9h0M1413.6 899.3h0M1413.6 861.7h0M1413.6 881.9h0M1413.9 994.5h0M1414 881h0M1414.1 994.9h0M1414.3 992.1h0M1414.6 873.1h0M1415 886.5h0M1415.1 879.8h0M1415.1 887.5h0M1415.4 883h0M1415.5 891.9h0M1415.6 902.4h0M1415.7 907.8h0M1415.9 904.6h0M1416 987.1h0M1416.1 899.2h0M1416.1 988.8h0M1416.4 908.2h0M1416.7 903.9h0M1416.8 989.6h0M1417.4 891.5h0M1417.6 887.9h0M1417.8 877.1h0M1417.9 895.4h0M1417.9 897h0M1417.9 866.8h0M1418.1 883.9h0M1418.3 979h0M1418.5 882.3h0M1418.5 855.8h0M1418.7 980.9h0M1419.1 850.9h0M1419.2 885.8h0M1419.2 855h0M1419.3 832.6h0M1419.4 816.9h0M1419.6 848h0M1419.8 807.1h0M1419.8 971h0M1419.8 838.5h0M1420.2 812.9h0M1420.5 816.1h0M1421 838.7h0M1421.3 838.2h0M1421.3 841.9h0M1421.4 793h0M1421.5 834.6h0M1421.7 980h0M1421.8 855h0M1421.8 852.2h0M1422.3 806.7h0M1422.3 978.7h0M1422.4 849.7h0M1422.7 846.2h0M1422.9 983.4h0M1423.1 878.6h0M1423.2 833.1h0M1423.5 857.2h0M1423.8 882h0M1423.9 879.3h0M1424.2 990.9h0M1424.2 871.1h0M1424.2 989.8h0M1424.4 993.3h0M1424.4 884.4h0M1424.7 880h0M1424.7 865.8h0M1424.7 892.7h0M1425.1 893.8h0M1425.2 996.8h0M1425.9 854.3h0M1426 890.7h0M1426.1 872.1h0M1426.3 847.4h0M1426.3 995.7h0M1426.3 877.7h0M1426.4 859h0M1426.5 995.8h0M1426.9 874.4h0M1426.9 883.9h0M1427 862.9h0M1427.2 881.2h0M1427.3 898.4h0M1427.5 882.4h0M1427.9 997h0M1427.9 997.6h0M1428 886.9h0M1428.1 881.6h0M1428.3 914.2h0M1428.6 921h0M1428.7 907.8h0M1428.8 920.4h0M1429.1 1000.9h0M1429.2 1000.6h0M1429.4 1000.2h0M1429.4 924.8h0M1429.5 874.7h0M1429.7 927.2h0M1429.8 946h0M1430 940.8h0M1430.1 944.8h0M1430.3 1004.7h0M1430.9 942.4h0M1431 1006h0M1431 938.5h0M1431.3 932.5h0M1431.3 928.8h0M1431.5 937.6h0M1431.7 938.8h0M1431.8 925.2h0M1432.2 1009.4h0M1432.3 935.8h0M1432.4 913.9h0M1432.4 929h0M1432.6 936.9h0M1432.7 937.1h0M1433 1008.6h0M1433.2 1009.2h0M1433.4 942.1h0M1433.5 938.1h0M1433.6 942.4h0M1433.9 943.8h0M1433.9 1008.8h0M1434 936.2h0M1434.2 939.7h0M1434.5 939.3h0M1434.5 940.6h0M1434.5 933.7h0M1434.6 1008.3h0M1434.7 926.6h0M1434.8 912.9h0M1434.8 933.9h0M1435 1009.1h0M1435.6 1007.1h0M1435.7 918.1h0M1436 937.3h0M1436 936.7h0M1436.1 914.1h0M1436.3 933.9h0M1436.4 935.4h0M1436.7 1004.9h0M1436.8 929.4h0M1436.9 930.8h0M1437.1 938.6h0M1437.7 926.1h0M1437.7 931.4h0M1437.8 938.5h0M1437.9 1007.4h0M1438.1 933h0M1438.2 942.1h0M1438.3 913.9h0M1438.4 1008.2h0M1438.8 936.8h0M1439 1008.5h0M1439.1 940.5h0M1439.2 932.8h0M1439.5 924.9h0M1439.6 917.8h0M1439.8 932.2h0M1439.9 930.5h0M1440 1007.3h0M1440.1 939.8h0M1440.1 938.1h0M1440.6 919.3h0M1440.8 940h0M1441.2 933.6h0M1441.3 1008.6h0M1441.5 928h0M1441.5 927.6h0M1441.6 1008.5h0M1441.7 932.9h0M1441.9 932.3h0M1442 939.1h0M1442.1 1009.2h0M1442.1 944.4h0M1442.4 927.1h0M1442.5 1009.7h0M1442.5 943.8h0M1442.9 922.7h0M1443.1 930.1h0M1443.1 936.2h0M1443.2 918.1h0M1443.4 942h0M1443.8 1010.3h0M1443.8 905.8h0M1444.1 1009.9h0M1444.1 937.5h0M1444.3 933.2h0M1444.4 1010.9h0M1444.6 942.2h0M1444.7 921.2h0M1444.8 941.7h0M1444.8 1011.7h0M1445 913.8h0M1445.3 933.4h0M1445.5 921.6h0M1445.7 940.5h0M1445.9 932.8h0M1446 1012.3h0M1446.3 1012.5h0M1446.3 942.9h0M1446.3 920.3h0M1446.6 942.7h0M1447 935.6h0M1447.1 933.6h0M1447.2 1011.3h0M1447.3 930.1h0M1447.7 924.8h0M1447.7 940.2h0M1447.7 929.3h0M1448.1 944.8h0M1448.3 956.2h0M1448.3 958.6h0M1448.4 1009.5h0M1448.7 1009.1h0M1449 960.1h0M1449.1 959.8h0M1449.1 960.9h0M1449.5 967.5h0M1449.5 962.2h0M1449.6 1009.1h0M1449.7 964h0M1450 1010.2h0M1450.1 948.4h0M1450.3 959.3h0M1450.4 969.8h0M1450.8 962.6h0M1451 964h0M1451.1 972.8h0M1451.1 966.2h0M1451.4 1012.3h0M1451.4 956.6h0M1451.7 960.7h0M1452 972.8h0M1452.1 951.5h0M1452.3 975.4h0M1452.8 963.8h0M1452.9 962h0M1453 961.8h0M1453.2 969.4h0M1453.2 969.4h0M1453.6 974.7h0M1453.7 976h0M1453.9 971.3h0M1454 948.6h0M1454.3 962.8h0M1454.5 971.6h0M1454.7 1013.8h0M1454.9 1013.8h0M1454.9 963h0M1455.2 966.5h0M1455.2 963.3h0M1455.5 970.9h0M1455.7 973.9h0M1455.7 975.4h0M1456.1 1014.2h0M1456.2 1014.5h0M1456.3 975.4h0M1456.3 974.5h0M1456.4 975.5h0M1456.6 962.7h0M1456.8 959h0M1457.2 1013.8h0M1457.2 965h0M1457.3 969.2h0M1457.7 957h0M1457.9 937.4h0M1458.3 963.9h0M1458.5 961.6h0M1458.6 943.7h0M1459.1 948.1h0M1459.1 955.1h0M1459.2 938.8h0M1459.3 962.2h0M1459.3 952h0M1459.3 955.5h0M1459.4 1011.4h0M1459.5 938.4h0M1459.7 943.9h0M1460 961.1h0M1460 1011.1h0M1460.6 967.4h0M1460.7 960h0M1461.1 965h0M1461.3 959.7h0M1461.4 966.9h0M1461.6 1012.5h0M1461.7 959.4h0M1461.7 1012.9h0M1461.9 947.8h0M1461.9 961.4h0M1462 961h0M1462 965.5h0M1462.2 965.5h0M1462.2 1011.6h0M1462.4 957.3h0M1462.4 1013.4h0M1263.6 671.9h0M1264.9 675h0M1264.1 678.9h0M1265.7 680.3h0M1262.4 683.5h0M1264 685.1h0M1262.9 688.4h0M1262.1 689.9h0M1262.7 692.9h0M1263.2 694.8h0M1266.7 698.6h0M1261.9 700.2h0M1264 703.8h0M1263.7 705.4h0M1266.2 708.8h0M1265.4 709.7h0M1262 713.2h0M1261.9 714.6h0M1265.7 718h0M1262.9 719.6h0M1262.9 724.3h0M1264.3 726.4h0M1262.5 728.7h0M1259.6 730.7h0M1263.6 734.4h0M1264.8 736.3h0M1262.4 737.9h0M1261.1 739.7h0M1264.1 742.1h0M1264.2 745.9h0M1262.8 749.2h0M1263.2 750.3h0M1262.5 753.6h0M1262.5 755.6h0M1264.7 759.1h0M1263.7 761.6h0M1264.5 762.2h0M1264.3 765.5h0M1262.5 769.5h0M1263.1 771.7h0M1263.1 773.2h0M1264.8 775.1h0M1263.8 778.2h0M1262.9 780.3h0M1264.4 782.3h0M1262.6 786.8h0M1264.9 788.2h0M1262.8 792.3h0M1262.1 793.4h0M1263.5 796.8h0M1264 798.7h0M1264.3 801.8h0M1264.5 803h0M1262.3 805h0M1262 808.3h0M1264.7 812h0M1263 812.6h0M1263.4 815.7h0M1263.9 819.7h0M1261.7 822.6h0M1261.5 824.8h0M1265 825.3h0M1265.2 828.2h0M1262.6 832.5h0M1266.6 833.4h0M1264.2 835.6h0M1265.3 839.4h0M1263.6 840.3h0M1262.9 843.8h0M1261.8 846.8h0M1262.6 849.5h0M1263.3 850.4h0M1265.8 853h0M1262.1 857.3h0M1261.2 859.7h0M1301.5 683.6h0M1300.8 689.9h0M1300.7 696.3h0M1302 699.2h0M1301.4 704.8h0M1301.3 706.8h0M1301 713.6h0M1300.2 717.1h0M1300.6 719.8h0M1300.7 728.1h0M1300.3 730.3h0M1301 734.6h0M1301.4 737.6h0M1301.3 743.8h0M1302.5 746.5h0M1302.2 751.4h0M1301.3 758.7h0M1300.7 760.9h0M1301.9 768h0M1301.8 770.2h0M1301.5 776.7h0M1301 778.1h0M1302.2 783.1h0M1301.9 788.9h0M1302.1 795.1h0M1300.3 799.6h0M1352 669.4h0M1353.7 670.4h0M1358.3 671.4h0M1348.1 672.2h0M1353.6 673.3h0M1351.9 674.6h0M1343.5 675.3h0M1353.6 677h0M1350.5 677.9h0M1343.7 679.2h0M1345.8 679.9h0M1346.9 681.5h0M1353.5 682.5h0M1349.9 683.3h0M1348.6 684.4h0M1352.1 685.9h0M1350.8 686.2h0M1360.6 687.5h0M1336.1 688.7h0M1356.4 689.7h0M1347.4 690.7h0M1356.6 691.6h0M1345.6 692.9h0M1349 694.3h0M1348.4 694.9h0M1352.8 696.4h0M1354 697.2h0M1346.8 698.8h0M1351.9 700.1h0M1346.7 700.5h0M1347.5 702.5h0M1355.4 702.6h0M1357.1 703.7h0M1356.4 705.8h0M1360.6 706.2h0M1337.2 706.9h0M1356.9 708.5h0M1352.3 709.9h0M1351.2 711h0M1356.9 712h0M1348.1 712.9h0M1352.3 713.5h0M1345.8 715.1h0M1353.2 715.8h0M1355.4 717.2h0M1349.2 718.1h0M1352.2 719.5h0M1348.2 720.7h0M1352.3 722.2h0M1355.3 723.1h0M1338.8 724h0M1350.1 725h0M1360 726.5h0M1358 727.7h0M1357.1 728h0M1349.6 729.5h0M1350.8 730.5h0M1351.3 731.8h0M1348.4 733.2h0M1344.9 733.6h0M1345.2 734.5h0M1353.5 736.3h0M1352.9 736.9h0M1357.4 738.1h0M1347 738.9h0M1356.5 740.7h0M1358.6 741.1h0M1358.5 742.4h0M1355.5 743.3h0M1357.9 744.4h0M1352.4 745.7h0M1348.6 747.2h0M1353.8 747.9h0M1357.7 749.7h0M1347.6 750.7h0M1345.2 751h0M1346.2 752.1h0M1356.2 754.1h0M1351.9 754.4h0M1348.7 755.5h0M1357.8 757.4h0M1342.2 758h0M1348.6 758.8h0M1361.6 759.7h0M1351.2 761h0M1353.7 762.4h0M1361.2 763.7h0M1355.5 764.9h0M1348.4 765.3h0M1344.5 766.8h0M1359.3 768.3h0M1352.9 769.1h0M1351.4 770.5h0M1359.8 771.7h0M1358 772.5h0M1354.4 773.2h0M1348.8 774.7h0M1346.6 775.4h0M1356.3 777.2h0M1350.2 778.4h0M1351 778.8h0M1357.8 780.5h0M1352.2 781.5h0M1353.1 782.4h0M1351.9 783.1h0M1356.7 784.3h0M1342.5 785.2h0M1351.8 786.5h0M1351.4 788h0M1349 789.3h0M1349.6 790.1h0M1356.2 791.5h0M1357.7 792.6h0M1345.3 793.4h0M1352.3 794.7h0M1344.9 795.1h0M1349.7 796.5h0M1348.5 797.4h0M1349.2 798.9h0M1358.6 799.9h0M1423.6 773.3h0M1419.8 781.1h0M1422.7 783.7h0M1419.4 786.2h0M1420 793.2h0M1421.6 795.3h0M1417.2 801.6h0M1422.6 803.4h0M1421.4 807.6h0M1420.5 814.4h0M1422.1 817.4h0M1420.1 823.8h0M1419.1 826.7h0M1420.4 832.1h0M1422.4 836.8h0M1423.7 838.8h0M1421.3 844.2h0M1421.4 850h0M1388.4 817.4h0M1388.6 821.6h0M1393 828.2h0M1392.1 832.2h0M1386.3 839.7h0M1390.4 846.6h0M1388.2 850.5h0M1392.9 855.9h0M1163.8 808.1h0M1165.5 808.3h0M1165.9 811.2h0M1167.8 813.8h0M1165.8 815.2h0M1166 816.5h0M1164.8 817.5h0M1165.6 819.9h0M1166.6 822.6h0M1165.2 824.9h0M1164.7 825.5h0M1168 827.7h0M1164.7 828.9h0M1167 831h0M1166.1 833.2h0M1164.6 835h0M1166 837.5h0M1167.4 839.4h0M1167.3 841.1h0M1166.7 842h0M1167.9 844.8h0M1168.1 845.7h0M1167.1 847.9h0M1166.5 850.7h0M1166.3 851.8h0M1164.7 852.8h0M1165.6 854.7h0M1165.3 857h0M1165.8 858.3h0M1166 860.8h0M1165 863.3h0M1166.1 863.8h0M1165.7 866.8h0M1167.3 867.5h0M1164.4 869.6h0M1165.3 872.4h0M1167 874.2h0M1167.5 876.5h0M1167.6 876.7h0M1166 878.9h0M1124.2 833.9h0M1128.1 836.4h0M1124.2 838h0M1125.3 838.4h0M1126.1 839.9h0M1126.7 841.9h0M1126.5 844.2h0M1124.4 845.7h0M1125.3 846.6h0M1126.4 848.3h0M1123.9 849.6h0M1125.6 851h0M1125.7 853.4h0M1123.7 855.2h0M1122.6 856.2h0M1122.5 858.1h0M1123.3 859.8h0M1123.8 861.3h0M1124.7 862.4h0M1126.3 864.3h0M1125 865.6h0M1124.5 866.5h0M1124.6 868.6h0M1129.1 870.2h0M1126 871.6h0M1124.7 873.7h0M1125.4 874.7h0M1128.4 877.2h0M1129.9 878h0M1124.9 878.8h0M1211.1 916.5h0M1209.9 924.9h0M1209.9 927.9h0M1211.2 937.1h0M1210 943.8h0M1210.9 945.3h0M1209.9 954.1h0M1210.8 958.9h0M1211.7 967.4h0M1210.2 970.5h0M1221.8 916.6h0M1220.8 921.6h0M1223.4 926.5h0M1222.6 931.6h0M1222.3 934.5h0M1225 939.5h0M1221.7 945.3h0M1222.7 949.5h0M837.3 899.4h0M839.5 900.8h0M837.9 904.6h0M838.6 906.7h0M841.3 908.8h0M840.8 911.3h0M840.4 914.2h0M838.9 917.1h0M840.1 918.5h0M839.4 921.2h0M839.2 924.2h0M840.3 926.1h0M840.2 928.9h0M839.8 929.9h0M838.1 932.4h0M840 935.5h0M839.7 936.4h0M839.6 940h0M838 943.2h0M837.7 945.1h0M839.7 948h0M840.5 949.2h0M1096.5 857.8h0M1097.4 859.9h0M1094 861.9h0M1095 864.7h0M1093.5 865.8h0M1093.4 867.6h0M1091.6 868.6h0M1093.6 871.6h0M1093.9 873.7h0M1096.1 874.8h0M1095.1 876.7h0M1094.1 879.1h0M1093.9 880.7h0M1094.6 881.6h0M1092.3 884.6h0M1095.2 886.3h0M1093.5 887.3h0M1094.7 889.7h0M1094.1 891.9h0M1094.6 893.3h0M1095.6 895.5h0M1098.1 896.8h0M1095.5 899.5h0M1093.5 901.3h0M1096.7 901.8h0M1094.9 904.5h0M657.1 961.1h0M657.9 966h0M657.3 972.4h0M658.6 978.7h0M657.9 984.3h0M656.8 989.9h0M755.9 907.1h0M754.9 909.1h0M755 910.9h0M756.6 913.3h0M754.9 917.3h0M754.9 918.3h0M754 921.5h0M756.4 923.4h0M756.5 925.6h0M755.3 930h0M756.5 932.5h0M755.4 933.9h0M755.8 936.6h0M753.5 938.3h0M754.8 941.4h0M753.5 943.6h0M756.8 947.1h0M752.3 949.1h0M753.6 950.4h0M756.8 953.4h0M756.5 956.6h0M755.5 959.6h0M754.6 961.4h0M756.9 964.4h0M757.5 965.7h0M753 969.7h0M757.4 970.5h0M756 973.4h0M743.7 942.8h0M745.2 946.2h0M744.3 949.9h0M744.7 954.1h0M745.1 958.3h0M743.2 961.6h0M745 967.8h0M746.1 974.5h0M703.8 990.9h0M702 996.7h0M702.1 998.4h0M702.6 1002.7h0M1013.6 931.7h0M1014.3 932.7h0M1014.3 935.8h0M1011.6 937.8h0M1014.3 941.1h0M1013.5 942.8h0M1014.7 944.1h0M1015.8 946.3h0M1013.2 948.4h0M1012.8 950.4h0M1014.4 954.5h0M1015.3 954.7h0M1012.6 958.8h0M1012.9 960.1h0M1012 962h0M1013 963.7h0M959.8 961.1h0M958.6 966.4h0M960.2 970.4h0M959.7 972.1h0M810.5 942.7h0M808.6 947h0M813 951.3h0M810 956.3h0M809.7 957.8h0M810.7 961.5h0M1052.9 930.5h0M1055 936.6h0M1052.6 941.4h0M1056.1 943.6h0M1053.4 947.2h0M1273.8 827.8h0M1272.5 829.5h0M1271.7 837.8h0M1270.6 852.1h0M1274.5 855.1h0M1273.1 867.3h0M1371.1 831.8h0M1369.6 838.9h0M1370.3 840.9h0M1368.8 845.9h0M1368.3 850.6h0M1371.8 858.2h0M1372.5 862.5h0M1366.3 867.9h0M1396.2 833.6h0M1399.5 833.7h0M1388.8 841.5h0M1393.6 848.1h0M1394 853.2h0M1391.1 857.5h0M1397.3 862.4h0M1398.4 867.5h0M1397.6 870.8h0M1399.2 879.4h0M1350.5 597.9h0M1350.5 610.6h0M1350.5 622.4h0M1353.8 640.1h0M1350.5 654.8h0M1348.9 661.6h0M1352.8 664.6h0M597.5 784.8h0M597.5 800.8h0M601.5 810h0M601.5 813h0M601.5 822.9h0M601.5 825.4h0M598 834.2h0M601.5 834.7h0M601 842.7h0M602 850.8h0M598 852.6h0M598.5 858.2h0M602.5 857h0M598 870.6h0M602.5 866.9h0M116.5 933.4h0M1338 727.4h0M1338 733.9h0M1338 753.4h0M1339 767.4h0M1330 784.4h0M1405.5 799.4h0M1370.5 797.4h0M839.6 898.4h0M839.6 906.4h0M839.6 912.4h0M839.6 920.4h0M597.4 870.1h0M600.8 870.9h0M602.7 869.9h0M597.4 872.6h0M601 872.2h0M602.3 872.5h0M597.6 875.1h0M600.3 873.9h0M602.4 874.9h0M597.4 877.3h0M600 876.9h0M603.2 877h0M598 878.9h0M600.5 878h0M603.1 879.7h0M597.8 880.9h0M600.7 881.6h0M603.7 881.3h0M597.3 882.9h0M601.1 882.2h0M602.9 883.7h0M597.9 884.5h0M601 886.2h0M603.3 885.3h0M597.4 887.9h0M600.9 887.4h0M603.5 887.1h0M598.1 889.5h0M599.8 889.8h0M602.5 889.5h0M598.4 892.9h0M600.2 892.4h0M603.4 892.9h0M598.8 894.7h0M600.6 894.4h0M602.3 895h0M597.9 895.5h0M599.9 895.9h0M602.3 896.4h0M598.8 899.3h0M601.4 899.6h0M603.1 898h0M598.9 901.6h0M600.9 900.1h0M603.8 901.7h0M597.9 902.8h0M601.4 903.4h0M603.3 902.7h0M597.9 905h0M600.8 905h0M602.9 905.2h0M598.4 908.3h0M600.1 906.4h0M603.1 907.6h0M599.1 908.7h0M600.5 909.6h0M603.4 909h0M597.9 911.4h0M601.2 911.6h0M602.9 912.1h0M598.3 913.9h0M601.5 914.7h0M603 914.2h0M598.2 917h0M601.5 916h0M602.8 916.4h0M598.6 919.2h0M600.4 917.6h0M603.7 919h0M599.3 919.7h0M601.3 920.9h0M602.6 921.1h0M598.3 922.8h0M600.7 923.1h0M602.9 923.6h0M599.2 924.5h0M601.4 925.2h0M602.4 925.2h0M598.7 926.8h0M601.8 928h0M603.7 927.6h0M598.4 930.1h0M601.3 928.6h0M602.3 929.8h0M599.1 932h0M600.3 931.5h0M603.4 931.9h0M599.6 933.4h0M601.7 934.1h0M602.6 933.4h0M598.8 935h0M600.6 935.2h0M602.7 936.9h0M599.9 937.3h0M601.1 938.6h0M603.4 938.9h0M599.8 940h0M601.5 940.5h0M603.5 940h0M598.6 942.5h0M601.1 942.8h0M603.5 943.2h0M598.7 944.2h0M601.3 943.9h0M602.5 944.9h0M599.9 947.2h0M601.2 946.5h0M603.4 947.4h0M599.2 950.2h0M600.5 949.5h0M603.3 950h0M599.7 951.3h0M600.8 952h0M602.4 951.7h0M598.9 954.5h0M601.3 954.3h0M602.2 952.7h0M600.4 955.2h0M601.7 955.5h0M602.2 956.7h0M599.3 958.2h0M600.8 958.7h0M603.1 957.9h0M600.5 960.7h0M601.3 960.8h0M603.6 961.1h0M599.9 962.3h0M602.2 961.6h0M603 962.6h0M599.6 965.4h0M601.7 963.9h0M603.3 964.4h0M600.5 966.7h0M601.3 967.3h0M603.1 967.7h0M599.4 969.2h0M602 968.8h0M602.5 969.4h0M599.5 971.6h0M601.1 970.9h0M602.8 970.4h0M600.1 972.6h0M600.8 973.8h0M603.2 973.4h0M600.4 976.1h0M601.4 975.1h0M603.1 976.6h0M599.4 978.4h0M602.1 978.7h0M602.5 978.1h0M600.9 980h0M601.7 980.3h0M602.3 979h0M601 981.7h0M601 982.6h0M602.7 981.3h0M600.1 983.8h0M601.8 983.9h0M603.1 984.6h0M600.1 986.5h0M601.7 985.6h0M602.6 986.9h0M601.1 988.2h0M601.6 989.2h0M603.4 989.3h0M600.6 990.6h0M601.6 991.7h0M603.7 991.6h0M600.1 992.7h0M602.6 992.6h0M602.7 992.6h0M601.4 995.3h0M601.4 995.3h0M603.7 994.7h0M600.2 997.7h0M601.7 997.3h0M602.8 998h0M600.3 1000.6h0M601.7 998.9h0M603 999.4h0M600.9 1002.1h0M602.1 1001.1h0M602.3 1001.8h0" fill="none" stroke="#1f77b4" stroke-width="5.3" stroke-linecap="round"/>
<path d="M115.5 991.2 115.8 992.4 116.6 993.6 117.7 997.6 118.8 998.3 119.9 998.1 121 999.4 121.6 998.2 122.1 998.5 123.2 995.1 124.3 990.3 125 989 125.4 988.7 126.5 995.2 127.6 999 128.5 1001.7 128.7 1001.1 129.8 1000.3 130.9 996.3 132 990.8 133.1 987.7 134.2 985.4 134.3 987.8 135.3 989.7 136.4 992.4 137.5 993 138.6 996 139.7 999.5 140 1000.5 140.8 1001.3 141.9 1003.4 143 1005.9 144.1 1007.6 145.2 1008.8 145.8 1010.9 146.3 1010.5 147.4 1012.3 148.5 1013.7 149.6 1014.4 150.7 1015.4 151.6 1016.7 151.8 1017 152.9 1017.1 154 1016.1 155.1 1015.5 156.2 1016 157.3 1016.2 158.4 1015.6 158.5 1015.5 159.5 1013.3 160.6 1011.1 161.3 1008.6 161.7 1009.9 162.8 1011 163.9 1011.7 165 1012 165.4 1013.2 166.1 1012.5 167.2 1013.2 168.3 1013.9 169.4 1014.9 170.5 1015.9 171.2 1016.7 171.6 1015.7 172.7 1013.6 173.8 1010.7 174.7 1008.6 174.9 1007.9 176 1008.4 177.1 1009.5 178.2 1010.2 179.3 1010.1 179.3 1009.8 180.4 1011.3 181.5 1012.5 182.6 1012.6 183.7 1012.8 184.8 1013.7 185.9 1014.9 186.2 1015.5 187 1014.8 188.1 1013.4 189.2 1011.5 189.7 1012.1 190.3 1011.5 191.4 1013.2 192.5 1015.2 193.6 1016.9 194.7 1018.3 195.5 1019 195.8 1019 196.9 1018.2 198 1017.4 199.1 1016.1 200.2 1014.3 201.3 1013.9 202.4 1014.3 203.5 1013.1 204.6 1012.3 204.7 1012.5 205.7 1015 206.8 1016.4 207.9 1018.5 208.2 1020.2 209 1019.6 210.1 1019.5 211.2 1019.1 212.3 1019 213.4 1019 214 1019.7 214.5 1018.7 215.6 1018.8 216.7 1018.9 217.8 1019.1 218.6 1019 218.9 1019.8 220 1020.8 221.1 1021.3 222.2 1021.8 223.2 1022.2 223.3 1022.5 224.4 1022.5 225.5 1022.1 226.6 1022 227.7 1022.3 228.8 1022.4 229.9 1022.3 231 1022.3 232.1 1022.7 233.2 1022.9 234.3 1022.8 235.4 1022.5 236.5 1022.4 237.6 1022.7 238.7 1022.8 239.8 1022.8 240.9 1022.7 242 1022.6 243.1 1022.7 244.2 1023.2 245.3 1023.1 246.4 1022.9 247.5 1023.1 248.6 1022.9 248.6 1022.9 249.7 1022.7 250.8 1023 251.9 1023.2 253 1023.4 254.1 1023.1 255.2 1022.8 256.3 1023.3 257.4 1023.6 258.5 1023.3 259.6 1023.2 260.7 1023.5 261.8 1023.5 262.9 1023.1 264 1022.8 265.1 1022.9 266.2 1023.2 267.3 1023.1 268.4 1023.2 269.5 1023.3 270.6 1023.2 271.7 1023.6 272.8 1023.8 273.9 1023.8 275 1023.6 276.1 1023.4 277.2 1023.4 278.3 1023.5 279.4 1023.8 280.5 1024 281.6 1024.1 282.7 1024.1 283.3 1024.1 283.8 1024 284.9 1024 286 1024 287.1 1023.7 288.2 1023.8 289.3 1024.2 290.4 1024.1 291.5 1023.6 292.6 1023.4 293.7 1023.7 294.8 1024 295.9 1024 297 1023.7 298.1 1023.8 299.2 1023.9 300.3 1023.9 301.4 1024 302.5 1024.2 303.6 1024.3 304.7 1024.5 305.8 1024.6 306.9 1024.3 308 1024.2 309.1 1024.4 310.2 1024.5 311.3 1024.6 312.4 1024.4 313.5 1024.2 314.6 1024.4 315.7 1024.3 316.8 1024.3 317.9 1024.4 317.9 1024.3 319 1024.1 320.1 1024.4 321.2 1024.5 322.3 1024.2 323.4 1024 324.5 1023.9 325.6 1024.1 326.7 1024.3 327.8 1024.5 328.9 1024.5 330 1024.2 331.1 1024.1 332.2 1024.1 333.3 1023.9 334.4 1023.9 335.5 1024.1 336.6 1024.1 337.7 1023.9 338.8 1023.8 339.9 1023.8 341 1023.8 342.1 1023.7 343.2 1023.7 344.3 1023.7 345.4 1024 346.5 1024 347.6 1024 348.7 1024.2 349.8 1024.3 350.9 1024.1 352 1023.9 353.1 1024 354.2 1024.1 355.3 1024 356.4 1023.8 357.5 1023.8 358.6 1024 359.7 1024 360.8 1024 361.9 1023.7 363 1023.3 364.1 1023.5 364.1 1023.6 365.2 1023.8 366.3 1023.6 367.4 1023.5 368.5 1023.8 369.6 1023.5 370.7 1023.1 371.8 1023.2 372.9 1023.2 374 1023.3 375.1 1023.6 376.2 1023.6 377.3 1023.2 378.4 1022.9 379.5 1023.1 380.6 1023.2 381.7 1023 382.8 1023 383.9 1023.3 385 1023.3 386.1 1023 387.2 1022.7 387.2 1022.9 388.3 1022.8 389.4 1023 390.5 1022.9 391.6 1022.9 392.7 1023 393.8 1023 394.9 1023 396 1023 397.1 1022.8 398.2 1023 399.3 1023.1 400.4 1022.9 401.5 1022.9 402.6 1022.8 403.7 1022.6 404.8 1022.5 405.9 1022.6 407 1022.7 408.1 1022.7 409.2 1022.3 410.3 1022 410.3 1022.7 411.4 1022.1 412.5 1022.5 413.6 1022.7 414.7 1022.8 415.8 1023.3 416.9 1023.3 418 1023 419.1 1022.9 420.2 1023 421.3 1022.8 422.4 1022.4 423.5 1022.6 424.6 1023 425.7 1022.8 426.8 1022.7 427.9 1022.6 429 1022.5 430.1 1022.6 431.2 1022.7 432.3 1022.5 433.4 1022.3 434.5 1022.5 435.6 1022.4 436.7 1022.3 437.8 1022.4 438.9 1022.5 440 1022.7 441.1 1022.7 442.2 1022.2 443.3 1021.9 444.4 1022.2 445.5 1022.6 446.6 1022.8 447.7 1022.5 448.8 1022.5 449.6 1022.7 449.9 1022.4 451 1022.2 452.1 1022.6 453.2 1023.3 454.3 1023.4 454.9 1022.8 455.4 1023.3 456.5 1023.1 457.6 1022.8 458.7 1022.6 459.8 1022.7 460.9 1022.6 462 1022.5 463.1 1022.3 464.2 1022.1 465.3 1022.5 466.4 1023.1 467.5 1022.8 468.6 1022.4 469.7 1022.4 470.8 1022.5 471.9 1022.4 473 1022.1 474.1 1022 474.7 1022.3 475.2 1022.4 476.3 1022.2 477.4 1021.7 478.5 1021.8 479.6 1022 480.7 1021.8 481.8 1021.4 482.9 1021.1 484 1021.3 485.1 1021.3 486.2 1020.8 487.3 1020.6 488.4 1020.7 489.5 1020.4 490.6 1020.7 491.7 1021.3 492.8 1021.2 493.3 1020.3 493.9 1021 495 1020.7 496.1 1020.8 497.2 1021.4 498.3 1021.9 499.4 1021.9 499.5 1021.6 500.5 1022.1 501.6 1022.5 502.7 1022.5 503.8 1022.1 504.9 1022 506 1021.9 507.1 1021.9 508.2 1021.9 509.3 1021.6 510.4 1021.5 511.5 1021.7 512.6 1021.9 513.7 1022 514.8 1022.3 515.9 1022.3 517 1022.2 518.1 1022.1 519.2 1021.8 520.3 1021.8 521.4 1022.3 522.5 1022.4 523.6 1022.1 524.2 1022.3 524.7 1022.1 525.8 1022.5 526.9 1022.4 528 1021.7 529.1 1021.6 530.2 1022 531.3 1022 532.4 1021.9 533.5 1021.8 534.6 1021.5 535.7 1021.1 536.8 1021 537.9 1021.3 539 1021.2 540.1 1020.9 541.2 1021 541.6 1020.8 542.3 1021 543.4 1021.2 544.5 1021.5 545.6 1021.9 546.7 1022.3 547.8 1022.7 548.9 1023.3 549 1023.3 550 1023.4 551.1 1023.3 552.2 1023.1 553.3 1022.9 554.4 1023.1 555.5 1023.1 556.6 1022.8 557.7 1022.5 558.8 1022 559.9 1022.1 561 1022.4 562.1 1022.5 563.2 1022.8 564.3 1023 565.4 1022.6 566.5 1022 567.6 1021.8 568.7 1022 569.8 1021.7 570.9 1021 572 1021.1 573.1 1021.6 573.7 1021.6 574.2 1021.6 575.3 1021.5 576.4 1021.8 577.5 1022 578.6 1021.9 579.7 1021.7 580.8 1021.7 581.9 1021.9 583 1022 584.1 1022.3 585.2 1022.5 586.3 1022.5 587.4 1022.5 588.5 1022.6 589.6 1022.9 590.7 1023.2 591.8 1023.4 592.3 1022.8 592.9 1023 594 1021.8 594.3 1021.6 595 1030.2 595.1 1026.6 596.2 979.5 596.5 968.4 597.3 944 598 931.3 598.4 930.3 599.5 933.7 599.5 933.3 600.6 904.7 601 895.4 601.7 934 602.4 968.4 602.8 984.6 603.9 1031.7 603.9 1032.7 605 1019.6 605.2 1017.9 606.1 1022.5 606.4 1024.1 607.2 1023.9 608.3 1023.5 609.4 1023.4 610.5 1023.6 611.6 1023.4 612.7 1023.2 613.8 1023.3 614.9 1023.3 616 1022.6 617.1 1022.2 618.2 1022.1 618.3 1022.3 619.3 1022.2 620.4 1022.5 621.5 1022.8 622.6 1022.9 623.7 1023.3 624.8 1023.4 625.9 1022.8 627 1022.5 628.1 1022.5 629.2 1022.5 630.3 1022.7 631.4 1023.2 632.5 1023.6 633.6 1023.1 634.7 1022.4 635.6 1023.3 635.8 1022.5 636.9 1022.6 638 1022.4 639.1 1022.5 640.2 1022.6 641.3 1022.3 642.4 1021.8 643.5 1021.3 644.6 1020.9 645.7 1020.8 646.8 1021 647.9 1020.9 648 1020.3 649 1019.6 650.1 1018.5 651.2 1018.1 652.3 1017 653.4 1015.1 654.2 1014.2 654.5 1013 655.6 1009.5 656.7 1005.9 657.4 1004.3 657.8 1004.5 658.9 1006.6 660 1007.9 661.1 1009.6 661.6 1010.4 662.2 1010.9 663.3 1010.3 664.4 1009 665.5 1009 666.6 1009.3 667.7 1007.7 667.8 1008 668.8 1007.7 669.9 1008.5 671 1008.9 672.1 1009.7 672.7 1010.4 673.2 1011 674.3 1012.2 675.4 1012.8 676.5 1014.4 677.6 1015.3 678.7 1015.8 678.9 1016.6 679.8 1016.7 680.9 1017 682 1016.5 683.1 1016.1 684.2 1015.4 685.3 1014.9 686.4 1015.8 687.5 1017.1 687.6 1016.6 688.6 1017.2 689.7 1016.9 690.8 1016.8 691.9 1017 693 1017.4 694.1 1018.1 695 1017.9 695.2 1018.1 696.3 1018.1 697.4 1019 698.5 1019.5 699.6 1018.9 699.9 1019.1 700.7 1017.4 701.8 1016.1 702.9 1013.6 703.7 1010.4 704 1012 705.1 1011.6 706.2 1010.6 707.3 1010.5 708.4 1010.4 708.6 1008 709.5 1008.9 710.6 1006.3 711.7 1003.5 712.8 1000.9 713.5 999.3 713.9 999.1 715 997.5 716.1 995.1 717.2 993.2 718.3 991.9 719.4 990 719.7 989.4 720.5 990.5 721.6 993.3 722.7 997.1 723.8 1000.4 724.7 999.3 724.9 1001.2 726 998.1 727.1 997.2 728.2 999 729.3 998.2 730.4 996.5 730.9 995.6 731.5 999 732.6 1002.8 733.7 1005.9 734.6 1008 734.8 1008 735.9 1007.8 737 1008.7 738.1 1009.2 739.2 1008.8 740.3 1008.8 740.8 1009.2 741.4 1006.6 742.5 1001.9 743.6 992.9 744.5 985.7 744.7 986.9 745.8 997.5 746.9 1007.7 747 1008 748 1007.6 749.1 1007.6 750.2 1010.2 750.7 1010.4 751.3 1003.8 751.9 994.4 752.4 993.8 753.5 988.4 754.6 981.8 754.9 979.5 755.7 992.9 756.8 1009.7 756.9 1010.4 757.9 1001.6 759 992.5 759.3 993.1 760.1 993.9 761.2 998.2 762.3 1001.9 763 1003 763.4 1003.7 764.5 1002.6 765.6 1002.8 766.7 1004.7 767.8 1007.6 768.9 1008.9 769.2 1008 770 1007.5 771.1 1006.8 772.2 1009.1 773.3 1010.9 774.4 1010.2 775.5 1009.6 776.6 1010.4 776.7 1010.4 777.7 1009.4 778.8 1007.6 779.9 1005.2 781 1002.4 782.1 999.4 783.2 997.5 784.1 996.8 784.3 996.4 785.4 998.9 786.5 1001.4 787.6 1003.3 788.7 1005.4 789.8 1007.4 790 1006.7 790.9 1007.1 792 1006.7 793.1 1006.2 794.2 1005.7 794.9 1004.3 795.3 1005.3 796.4 1005.6 797.5 1005.6 798.6 1006 799.7 1007 799.9 1006.7 800.8 1006.6 801.9 1005.1 803 1003.1 804.1 1000.6 804.8 999.3 805.2 996.7 806.3 994.4 807.4 994.3 808.5 994.8 808.6 994.4 809.6 998.7 810.7 1001.5 811.8 1003.7 812.3 1003 812.9 1004.3 814 1004.4 815.1 1004.4 816.2 1003.7 817.2 1003 817.3 1004 818.4 1003.9 819.5 1002.8 820.6 1000 820.9 998.1 821.7 1000.2 822.8 1002.1 823.9 1004.4 824.6 1005.5 825 1006 826.1 1005.1 827.2 1004 828.3 1004 829.4 1005.3 829.6 1003 830.5 1004.8 831.6 1002 832.7 998.7 833.8 997.2 834.9 997.5 835.8 994.4 836 995.1 837.1 988.3 838.2 983.2 839.3 977.5 839.5 977 840.4 978.6 841.5 984.2 842.5 993.1 842.6 992.5 843.7 994.3 844.8 991.7 845.9 986.8 846.9 988.2 847 986.4 848.1 990 849.2 991.4 850.3 991.7 850.6 991.9 851.4 989.9 852.5 987.3 853.6 981.6 854.3 982 854.7 978.9 855.8 985.1 856.9 992.4 858 997.5 859.1 1000.1 860.2 1001.6 860.5 1000.5 861.3 990 862.4 972.6 863 968.4 863.5 962 864.6 953 865.5 943.6 865.7 942.5 866.8 953.9 867.9 967.9 868 968.4 869 982.9 870.1 996.5 870.4 1000.5 871.2 1002.2 872.3 1004.5 873.4 1004.7 874.1 1005.5 874.5 1004.3 875.6 1003 876.7 1000.9 877.8 997.7 877.8 996.8 878.9 997.8 880 999.4 881.1 1000.2 882.2 1000.5 882.8 1000.5 883.3 1003.1 884.4 1004.1 885.5 1001.9 886.6 1001.3 887.7 1001.6 888.8 1001.5 889.9 1002.4 891 1002.5 891.5 1003 892.1 1003.6 893.2 1006.5 894.3 1010 895.2 1012.9 895.4 1011.9 896.5 1007.1 897.6 1002.4 898.7 998.1 899.8 992.8 900.9 988.4 901.4 988.2 902 989 903.1 991.8 903.8 994.4 904.2 992.5 905.3 989.2 906.4 984.8 907.5 978.7 907.5 978.3 908.6 983.8 909.7 990.1 910.8 994.7 911.3 995.6 911.9 997.9 913 1001.5 913.7 1005.5 914.1 1002.7 915.2 998.5 916.3 995.6 916.7 991.9 917.4 995.3 918.5 996.2 919.6 998.1 919.9 998.1 920.7 1000.2 921.8 1001.9 922.9 1004.5 923.6 1008 924 1007.5 925.1 1008.7 926.2 1009.4 927.3 1010.1 928.4 1010.9 929.5 1011.3 930.6 1010.9 931.1 1010.4 931.7 1011.4 932.8 1011.8 933.9 1012 935 1012.9 936.1 1014.1 937.2 1014.1 938.3 1013.4 938.5 1014.2 939.4 1013.4 940.5 1014.7 941.6 1015.4 942.7 1015.6 943.8 1016.5 944.9 1017 945.9 1017.4 946 1017 947.1 1017.2 948.2 1018.2 949.3 1018.8 950.4 1018.4 951.5 1018.1 952.6 1018.4 953.3 1017.9 953.7 1016.9 954.8 1012 955.9 1006.3 957 1000.7 958.1 995.7 958.8 995.6 959.2 996.3 960.3 1003 961.4 1007.5 962 1009.2 962.5 1009.2 963.6 1009.3 964.7 1010.1 965.8 1011 966.9 1011.9 968 1012.8 968.2 1012.9 969.1 1012.6 970.2 1012 971.3 1010.8 972.4 1009.7 973.5 1008.8 974.6 1008.1 975.6 1006.7 975.7 1006.9 976.8 1006.6 977.9 1007.4 979 1007.9 980.1 1008.4 981.2 1009.1 981.8 1009.2 982.3 1009.8 983.4 1011.3 984.5 1011.8 985.6 1011.4 986.7 1010.6 987.8 1010 988 1010.4 988.9 1010.9 990 1011.9 991.1 1012.9 992.2 1014.4 992.9 1014.9 993.3 1015.1 994.4 1013.9 995.5 1013.3 996.6 1013.3 997.7 1011.8 998.8 1009.5 999.9 1007.9 1000.3 1009.2 1001 1007.4 1002.1 1007.5 1003.2 1006.1 1004.3 1004.5 1005.4 1004.3 1006.5 1003.7 1007.6 1001.2 1007.8 1001.8 1008.7 995.6 1009.8 991.1 1010.9 987.5 1011.5 985.7 1012 982.7 1013.1 975.7 1014 970.8 1014.2 972.4 1015.3 980.5 1016.4 988.5 1016.4 988.2 1017.5 990.9 1018.6 991 1019.7 994 1020.8 1000.2 1021.4 999.3 1021.9 1003.2 1023 1003.9 1024.1 1004.6 1025.2 1005.6 1026.3 1007.1 1026.3 1008 1027.4 1002.9 1028.5 999.4 1028.8 1000.5 1029.6 1002.2 1030.7 1006.7 1031.3 1008 1031.8 1008.1 1032.9 1005.6 1034 1004.4 1035 1003 1035.1 1004.7 1036.2 1004 1037.3 1002.4 1038.4 1000.9 1039.5 1001.1 1039.9 1001.8 1040.6 1003.4 1041.7 1003.7 1042.8 1003.6 1043.7 1005.5 1043.9 1003.8 1045 999.2 1046.1 994.9 1046.1 994.4 1047.2 997.5 1048.3 1000 1049.4 1002.9 1049.8 1003 1050.5 1001 1051.6 997.1 1052.7 994.8 1053.5 990.6 1053.8 992.3 1054.9 993.8 1056 997.1 1057.1 1000 1057.3 999.3 1058.2 997.7 1059.3 995.7 1060.4 992.9 1061.5 990.6 1061.5 990.8 1062.6 995 1063.7 997.8 1064.7 1000.5 1064.8 999.9 1065.9 998.7 1067 999.5 1068.1 1001 1069.2 1000 1069.6 1000.5 1070.3 999.7 1071.4 1003.1 1072.5 1006.4 1073.3 1006.7 1073.6 1006.6 1074.7 1006.3 1075.8 1007.3 1076.9 1007.9 1078 1007.6 1079.1 1008.1 1079.5 1009.2 1080.2 1006.2 1081.3 999.1 1082.4 990 1083.2 988.2 1083.5 985.7 1084.6 988.5 1085.7 991.8 1086.8 995.1 1087 993.1 1087.9 983.9 1089 967.4 1089.4 960.9 1090.1 954.5 1091.2 949.1 1092.3 944.3 1093.1 938.7 1093.4 938.2 1094.5 953.4 1095.6 977.1 1095.6 980.7 1096.7 984.6 1097.8 986.8 1098.1 988.2 1098.9 990.8 1100 997.3 1100.6 998.1 1101.1 1000.6 1102.2 1001.3 1103.3 1002.6 1104.4 1004 1105.5 1005.1 1106.6 1006.9 1106.8 1008 1107.7 1009.5 1108.8 1012 1109.9 1014 1111 1015.2 1111.7 1016.6 1112.1 1014.6 1113.2 1010.4 1114.3 1006.2 1115.4 1002.8 1116.5 1000.6 1116.7 998.1 1117.6 989.8 1118.7 974 1119.1 968.4 1119.8 931.6 1120 924.3 1120.9 919.5 1122 917.5 1123.1 914.2 1123.8 914 1124.2 924 1125.3 971.1 1126.4 1016.9 1126.4 1016.5 1127.5 1012.1 1128.6 1006.5 1129.7 1001.9 1130.2 998.6 1130.8 1004.1 1131.9 1009.7 1132.8 1013.9 1133 1012.3 1134.1 1006.3 1135.2 1001.6 1135.4 1001.1 1136.3 1006.8 1137.4 1013.4 1137.9 1016.5 1138.5 1014.5 1139.6 1010.8 1140.7 1008.2 1141.8 1007.5 1141.8 1007.4 1142.9 1010.2 1144 1011.3 1145.1 1012.1 1145.6 1012.6 1146.2 1012.3 1147.3 1011.3 1148.4 1009.7 1149.5 1008.1 1150.2 1007.5 1150.6 1007.6 1151.7 1010.1 1152.8 1012.5 1153.9 1014.3 1155 1015.9 1155.9 1015.2 1156.1 1015.8 1157.2 1013.4 1158.3 1012.7 1159.4 1012.4 1160.5 1010.6 1161 1010.1 1161.6 1005.2 1162.7 997.4 1163.5 990.9 1163.8 980.6 1164.9 943 1165.6 924.3 1166 938.3 1167.1 971.5 1168.1 1006.2 1168.2 1004.9 1169.3 1006 1170.4 1007.2 1171.2 1006.2 1171.5 1008.5 1172.6 1013.8 1173.7 1020.3 1173.8 1020.3 1174.8 1016.9 1175.9 1011.4 1177 1006.6 1178.1 1003.4 1178.4 1001.1 1179.2 1005.4 1180.3 1008.1 1181.4 1011.8 1181.5 1012.6 1182.5 1011.7 1183.6 1010.9 1184.7 1010.5 1185.8 1010.7 1186.6 1008.8 1186.9 1009.7 1188 1008.7 1189.1 1008.6 1190.2 1008.1 1191.3 1007.1 1192.4 1007.2 1193.5 1007.5 1194.3 1007.5 1194.6 1005.9 1195.7 1002.8 1196.8 1001.2 1197.9 999.3 1198.1 997.3 1199 1000 1200.1 1002.6 1201.2 1006.3 1201.9 1008.8 1202.3 1007.2 1203.4 1004.2 1204.5 1002.1 1205.6 999.1 1205.8 999.8 1206.7 995.5 1207.8 992.5 1208.9 988 1209.6 985.8 1210 987.1 1211.1 992.9 1212.2 998.5 1213.3 1004 1213.5 1005 1214.4 1002.3 1215.5 1000.1 1216.6 998.3 1217.7 995.5 1218.6 992.2 1218.8 991.3 1219.9 984.5 1221 978.3 1222.1 974.1 1222.4 967.8 1223.2 977.6 1224.3 979.9 1225.4 982.4 1226.3 987 1226.5 987.2 1227.6 988.5 1228.7 990.5 1229.8 995.4 1230.9 997.9 1231.4 997.3 1232 997.7 1233.1 999.3 1234.2 1001.7 1235.3 1004.7 1236.4 1007.4 1236.5 1005 1237.5 1002.4 1238.6 996.5 1239.1 996 1239.7 997.3 1240.8 1000 1241.9 1002.1 1242.9 1003.7 1243 1003.5 1244.1 1000.7 1245.2 998.6 1246.3 995.8 1247.4 993.4 1248 993.4 1248.5 992.7 1249.6 992 1250.7 990.4 1251.8 987.7 1251.9 985.8 1252.9 988.7 1254 991.4 1255.1 996.3 1255.7 996 1256.2 996.5 1257.3 988.3 1258.4 977.6 1259.5 967.9 1259.6 965.3 1260.6 926.3 1261.7 878.8 1262.8 829.6 1262.9 829.5 1263.9 882 1265 941.1 1265.5 965.3 1266.1 964.5 1267.2 966.3 1268.3 966.9 1268.5 967.8 1269.4 951.8 1270.5 933 1271.1 924.3 1271.6 932.4 1272.7 959.2 1273.6 978.1 1273.8 976.8 1274.9 958.5 1276 943.5 1276.7 934.5 1277.1 938.8 1278.2 949.7 1279.3 962.7 1279.3 961.2 1280.4 952.6 1281.5 942.1 1282.6 930.5 1283.4 930.7 1283.7 924.7 1284.8 937.9 1285.9 956.6 1286.5 965.3 1287 966 1288.1 966.7 1288.5 967.8 1289.2 973.4 1290 978 1290.3 978.7 1291.4 978.2 1292.5 978.5 1293.1 979.3 1293.6 980.6 1294.7 985.7 1295.6 987 1295.8 985.6 1296.9 956.1 1298 922 1298.2 919.1 1299.1 902.9 1300.2 892.5 1301.3 891.8 1301.5 891 1302.4 912.6 1303.5 934.8 1304.1 949.9 1304.6 951 1305.7 959.8 1306.6 967.8 1306.8 965.2 1307.9 953.6 1309 942 1310.1 927.7 1310.5 929.4 1311.2 935.2 1312.3 952.5 1313.4 963.3 1313.6 962.7 1314.5 959 1315.6 955.9 1316.1 949.9 1316.7 958 1317.8 961.6 1318.9 964.7 1319.4 965.2 1320 968.3 1321.1 973.8 1322 978 1322.2 976.3 1323.3 957 1324.4 933.4 1325.5 909.1 1325.8 908.9 1326.6 898.7 1327.7 895.9 1328.8 893.8 1328.9 892.2 1329.9 912.7 1331 938.1 1332.1 965.7 1332.2 965.2 1333.2 972.1 1334.3 976.6 1335.4 986 1335.6 989.5 1336.5 952.5 1337.6 910.9 1338.6 876.9 1338.7 875.9 1339.8 892.5 1340.9 906.5 1341.2 914 1342 927.9 1342.5 939.6 1343.1 909.2 1344.2 855.7 1344.5 846.2 1345.3 862.1 1346.3 899.9 1346.4 893.6 1347.5 861.3 1348.6 826.5 1349.4 797.5 1349.7 812.3 1350.8 859.9 1351.9 910.5 1352.5 939.6 1353 901.6 1354.1 827.3 1354.5 798.8 1355.2 829.8 1356.3 877.9 1357.1 914 1357.4 907.5 1358.5 899 1358.6 896.1 1359.6 914.9 1360.7 928 1361.8 944.5 1362.9 959 1363 955 1364 941 1365.1 925.6 1365.5 914 1366.2 930.2 1367.3 939.9 1368.1 937.1 1368.4 939.1 1369.5 919.5 1370.6 898 1370.6 906.3 1371.7 905.6 1372.8 924.3 1373.2 926.8 1373.9 931.2 1375 924.6 1375.8 916.6 1376.1 921.3 1377.2 924 1378.3 926.6 1379.4 930.8 1379.6 929.4 1380.5 939.2 1381.6 950.4 1382.2 957.5 1382.7 962.2 1383.8 968.3 1384.9 971.1 1386 978.1 1386 979.3 1387.1 974.2 1388.2 966.2 1389.3 959.8 1390.4 956.3 1391.1 955 1391.5 954.7 1392.6 952.3 1393.7 946.8 1394.8 944.9 1395 942.2 1395.9 943.4 1397 938 1398.1 929.2 1399.2 918 1400.1 919.1 1400.3 915.8 1401.4 932.3 1401.6 934.5 1402.5 929.6 1403.4 919.1 1403.6 924.1 1404.7 932.3 1405.8 937.6 1406.5 939.6 1406.9 942.9 1408 955.9 1409 965.2 1409.1 967.1 1410.2 949.1 1411.3 932.5 1411.6 929.4 1412.4 933.6 1413.5 939.5 1414.2 937.1 1414.6 944.4 1415.7 948.8 1416.7 946 1416.8 947 1417.9 928.8 1419 916.8 1420.1 907.9 1421.1 894.8 1421.2 899.5 1422.3 909.9 1423.4 920.6 1424.4 937.1 1424.5 936.5 1425.6 947.1 1426.7 955.2 1427 955 1427.8 962.5 1428.9 968.5 1430 973.8 1430.3 976.7 1431.1 972.2 1432.2 969 1433.3 967 1433.4 971.6 1434.4 968.7 1435.5 972.7 1436.4 972.9 1436.6 973.7 1437.7 977.6 1438.8 983.4 1439 987 1439.9 980.1 1441 973.5 1441.6 972.9 1442.1 971.3 1443.2 977.4 1443.6 978 1444.3 978 1445.4 975.2 1445.4 972.9 1446.5 978.7 1447.6 980.8 1448.7 984.2 1448.7 983.1 1449.8 989.6 1450.9 993.6 1452 997.8 1452.6 1002.3 1453.1 999.5 1454.2 998.2 1455.3 996.7 1456.4 993.5 1456.4 993.4 1457.5 992.4 1458.6 992 1459 992.1 1459.7 988.5 1460.8 984.7 1461.9 983.4" fill="none" stroke="#ff7f0e" stroke-width="2" stroke-linejoin="round"/>
</g>
<path d="M115.5 1054.5v5.4M284.5 1054.5v5.4M452.5 1054.5v5.4M620.5 1054.5v5.4M789.5 1054.5v5.4M957.5 1054.5v5.4M1125.5 1054.5v5.4M1294.5 1054.5v5.4M115.5 1029.5h-5.4M115.5 942.5h-5.4M115.5 855.5h-5.4M115.5 768.5h-5.4M115.5 681.5h-5.4M115.5 594.5h-5.4" fill="none" stroke="#000" stroke-width="1.07"/>
<rect x="115.5" y="575.5" width="1347" height="479" fill="none" stroke="#000" stroke-width="1.07"/>
<text x="106.4" y="1037.4" text-anchor="end" class="tk">0.00</text>
<text x="106.4" y="950.4" text-anchor="end" class="tk">0.02</text>
<text x="106.4" y="863.4" text-anchor="end" class="tk">0.04</text>
<text x="106.4" y="776.4" text-anchor="end" class="tk">0.06</text>
<text x="106.4" y="689.4" text-anchor="end" class="tk">0.08</text>
<text x="106.4" y="602.4" text-anchor="end" class="tk">0.10</text>
<text x="784.6" y="29.9" text-anchor="middle" class="ti" style="word-spacing:-0.9px">14.7 MHz N0000024</text>
<text x="115.1" y="29.9" class="ti">(a)</text>
<text x="115.1" y="567" class="ti">(b)</text>
<text transform="translate(61.6 279.3) rotate(-90)" text-anchor="middle" class="lb">Doppler Shift [Hz]</text>
<text transform="translate(40.2 815.6) rotate(-90)" text-anchor="middle" class="lb">Peak Voltage [V]</text>
<text x="789" y="1158.2" text-anchor="middle" class="lb">UTC</text>
<text transform="translate(114.4 1078.1) rotate(-30)" text-anchor="end" class="tk">08-23 00</text>
<text transform="translate(282.8 1078.1) rotate(-30)" text-anchor="end" class="tk">08-23 03</text>
<text transform="translate(451.1 1078.1) rotate(-30)" text-anchor="end" class="tk">08-23 06</text>
<text transform="translate(619.4 1078.1) rotate(-30)" text-anchor="end" class="tk">08-23 09</text>
<text transform="translate(787.8 1078.1) rotate(-30)" text-anchor="end" class="tk">08-23 12</text>
<text transform="translate(956.1 1078.1) rotate(-30)" text-anchor="end" class="tk">08-23 15</text>
<text transform="translate(1124.4 1078.1) rotate(-30)" text-anchor="end" class="tk">08-23 18</text>
<text transform="translate(1292.8 1078.1) rotate(-30)" text-anchor="end" class="tk">08-23 21</text>
<rect x="1047.5" y="48.5" width="406" height="80" rx="4" fill="#fff" fill-opacity="0.8" stroke="#ccc" stroke-opacity="0.85" stroke-width="1.07"/>
<circle cx="1073.4" cy="63.4" r="2.65" fill="#1f77b4"/>
<path d="M1052.9 101.8H1092" stroke="#ff7f0e" stroke-width="2" fill="none"/>
<text x="1105.8" y="68.9" class="lg">Raw Data</text>
<text x="1105.8" y="95.5" class="lg">Butterworth Filtered Data</text>
<text x="1105.8" y="116" class="lg">(N=6, Tc=3.3333 min, Type: low)</text>
<rect x="1047.5" y="584.7" width="406" height="80.5" rx="4" fill="#fff" fill-opacity="0.8" stroke="#ccc" stroke-opacity="0.85" stroke-width="1.07"/>
<circle cx="1073.4" cy="599.8" r="2.65" fill="#1f77b4"/>
<path d="M1052.9 638.9H1092" stroke="#ff7f0e" stroke-width="2" fill="none"/>
<text x="1105.8" y="606.3" class="lg">Raw Data</text>
<text x="1105.8" y="632.9" class="lg">Butterworth Filtered Data</text>
<text x="1105.8" y="653.4" class="lg">(N=6, Tc=3.3333 min, Type: low)</text>
</svg>
</body></html>
